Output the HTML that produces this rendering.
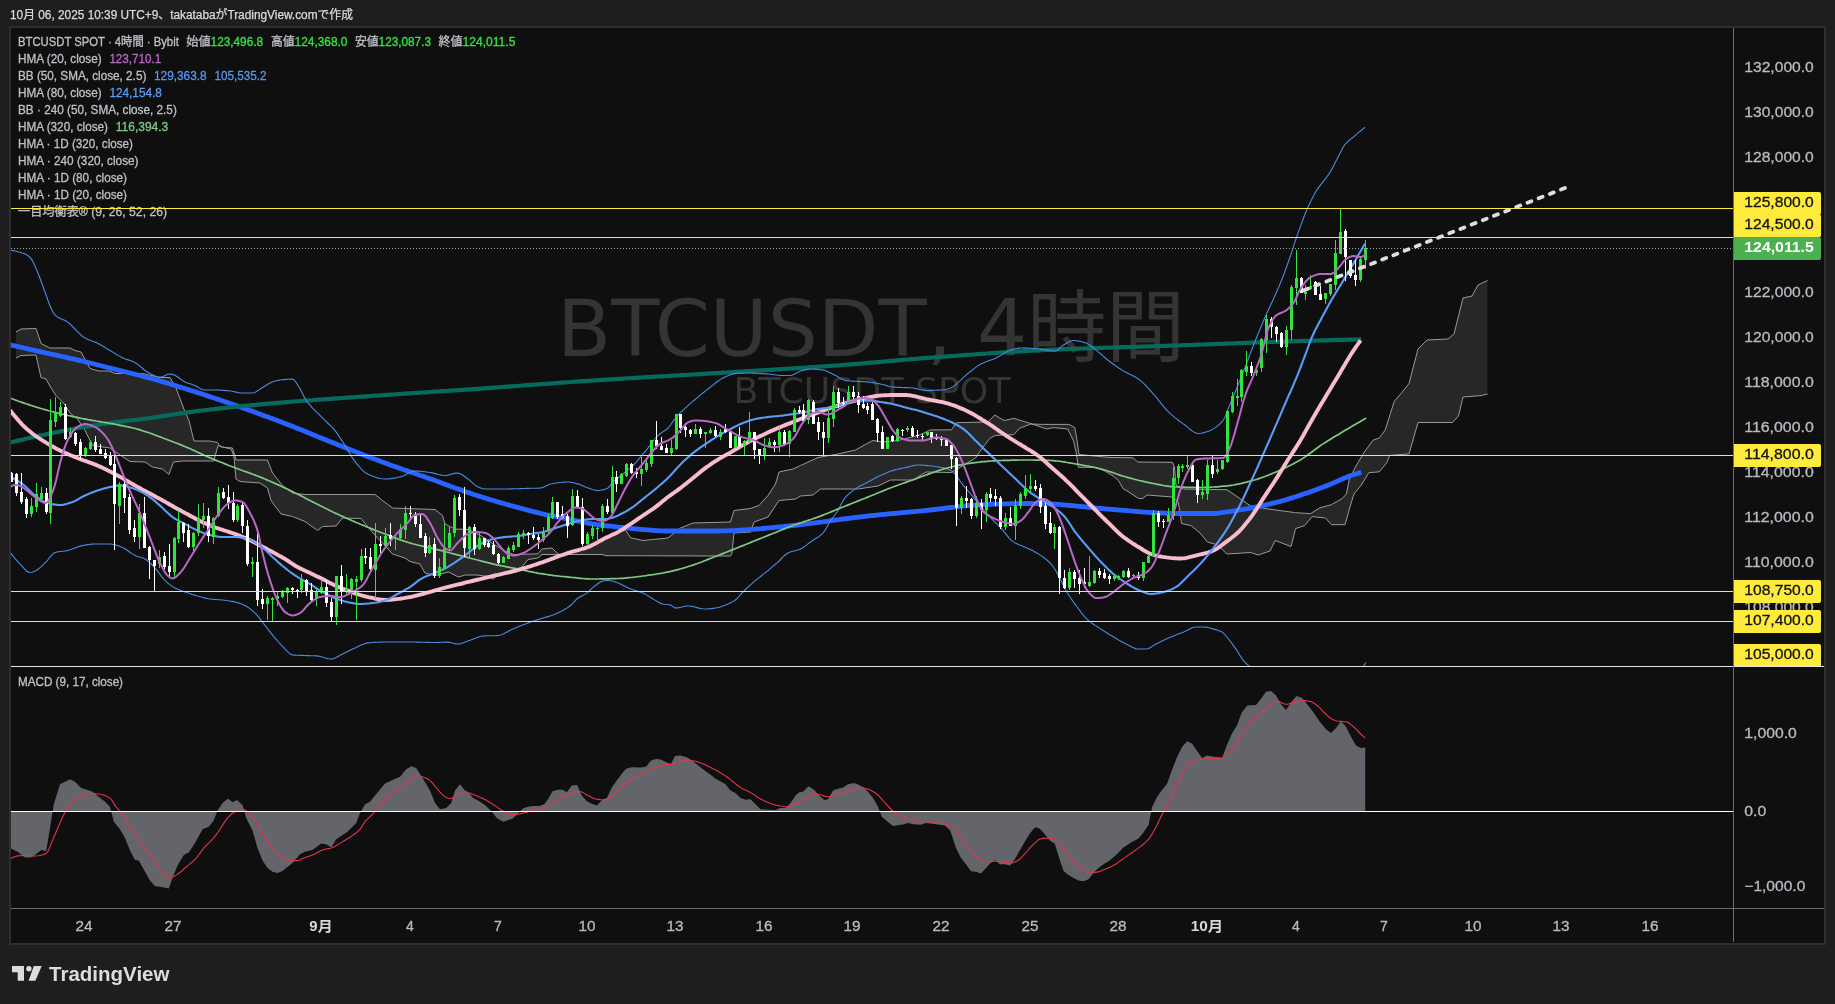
<!DOCTYPE html><html lang="ja"><head><meta charset="utf-8"><title>BTCUSDT 4時間</title>
<style>html,body{margin:0;padding:0;background:#1e1e1e;}body{width:1835px;height:1004px;overflow:hidden;position:relative;font-family:'Liberation Sans','Noto Sans CJK JP',sans-serif;}svg{position:absolute;left:0;top:0;display:block;will-change:transform}text{font-family:'Liberation Sans','Noto Sans CJK JP',sans-serif;}</style></head><body>
<svg width="1835" height="1004" viewBox="0 0 1835 1004">
<rect x="0" y="0" width="1835" height="1004" fill="#1e1e1e"/>
<rect x="10" y="27" width="1815" height="917" fill="#0f0f0f" stroke="#2e2e2e" stroke-width="2"/>
<text x="10" y="18.5" font-size="12" fill="#dcdcdc" stroke="#dcdcdc" stroke-width="0.25" textLength="343" lengthAdjust="spacingAndGlyphs">10月 06, 2025 10:39 UTC+9、takatabaがTradingView.comで作成</text>
<defs><clipPath id="mp"><rect x="11" y="28" width="1722" height="638"/></clipPath><clipPath id="sp"><rect x="11" y="667" width="1722" height="241"/></clipPath></defs>
<g clip-path="url(#mp)">
<text x="871" y="356" font-size="79" fill="#343434" text-anchor="middle" style="font-family:'DejaVu Sans','Noto Sans CJK JP',sans-serif" textLength="628" lengthAdjust="spacingAndGlyphs">BTCUSDT, 4時間</text>
<text x="872" y="403" font-size="35" fill="#343434" text-anchor="middle" style="font-family:'DejaVu Sans','Noto Sans CJK JP',sans-serif" textLength="277" lengthAdjust="spacingAndGlyphs">BTCUSDT SPOT</text>
<path d="M16 332 L21 329 L36 328.5 L41 343.5 L50 348 L70 348 L75 350.5 L81 352 L90 368.5 L99 371 L109 371 L115 373.5 L142.5 373.5 L160 377.5 L170 377.5 L176 388 L185 412 L189 420.5 L194 441 L210 441 L217.5 442.5 L221 447 L232.5 448 L236 460 L267.5 460 L272.5 473 L282.5 485.5 L292.5 493 L305 494.5 L375 494.5 L382.5 500.5 L392.5 508 L435 509.5 L442.5 515.5 L445 524 L455 529 L468 529.5 L480 535 L495 545 L505 551 L514 554.5 L537.8 553.8 L542 549 L552 548 L557 553 L560 555 L568 553.5 L588 547.5 L605.5 538.5 L618 532.5 L625.5 530 L630.6 537.8 L643 540.5 L668 538 L675.5 532 L680.5 528 L693 523 L730.5 522 L734 510.5 L750.5 508.5 L759 505.5 L768 495.5 L775.5 484 L779 472 L793 469 L800.5 465.5 L818 457.5 L838 454 L855.5 450 L868 443 L873 440.5 L883 442 L898 440.5 L918 435.5 L926 432 L930 430 L951.5 429.8 L956.5 422.7 L988 422 L994.7 415 L1004 420.5 L1014 418.4 L1028 422.7 L1038 426 L1046.4 429 L1053.5 427.6 L1067.7 429 L1073.4 440.4 L1076.2 452.4 L1078.3 467.3 L1096 467.3 L1104.5 470.8 L1113 475.8 L1118.7 480.8 L1123 488.5 L1130 492.8 L1138.5 498.5 L1142.8 498.5 L1147 495 L1172.5 497 L1178.2 502 L1180 512 L1181.5 523.5 L1191 525.6 L1200 533 L1207.4 542 L1217.8 545 L1226.8 554 L1250.7 552.5 L1258.2 555 L1270 551 L1275.2 540.5 L1291 546.5 L1295.6 528.6 L1304.5 525.6 L1312 516.6 L1325.5 518 L1331.4 524.7 L1345 524.7 L1349.4 509 L1353.9 494 L1361.3 485 L1368.8 472.7 L1379.3 471.8 L1386.7 462.8 L1389.7 455.4 L1409 453.9 L1418 422.5 L1452.5 422.5 L1458.5 415.9 L1463 397 L1481 395.6 L1487.5 394 L1487.5 280.5 L1478 285 L1472 296 L1463 298 L1454 334 L1448 339 L1427 340 L1418 349 L1409 383.6 L1401.7 392.6 L1394.2 401.5 L1385.2 430 L1379.3 438 L1373.3 440 L1364.3 452 L1355.4 467 L1349.4 479 L1346.4 494 L1342 498.7 L1331.4 504.7 L1319.5 508 L1310.5 513.6 L1295.6 512.7 L1268.7 509 L1250.7 506 L1240 498.7 L1227 489.7 L1183.5 489 L1176 485 L1174.5 467 L1172.5 462.3 L1137.8 462 L1132.9 457.8 L1108.8 457.4 L1101.7 456.7 L1079 454.5 L1076.9 439.7 L1074.8 427.6 L1069 424.4 L1043.6 424.4 L1030.8 424 L1019.5 428.3 L1013.8 434.7 L995.4 435.4 L989.8 438.3 L982.7 447.5 L975.6 458 L968.5 462.3 L951.5 472.5 L926 472 L913 480 L890.5 480 L878 486 L858 489 L820.5 489 L813 495 L800.5 496 L795.5 499 L779 500.5 L768 517 L754 522 L750.5 532 L734 533 L732 553 L730.5 556 L606 555.7 L602 554.5 L542 554.5 L538 558 L528 559.5 L522 567 L496.7 576.5 L493 579 L488 576.5 L477 575 L465.5 575 L458.4 577 L448.5 572 L435 575.5 L425 573 L420 564 L410 561.5 L405 558 L392.5 554 L385 545.5 L377.5 538 L367.5 526.5 L361 518.5 L342.5 518 L336 526 L322.5 526.5 L317.5 530.5 L305 521.5 L292.5 516.5 L281 514 L271 500.5 L267.5 488 L260 483 L240 481.5 L236 479 L233.8 455.5 L231 449 L222.5 447 L218 445.5 L213.8 461 L182.5 461 L173.5 462 L168.8 474.5 L162.5 469 L152.5 467 L145 462 L130 461.5 L120 455 L110 448 L92.5 445.5 L85 430.5 L77.5 419 L70 413 L63.5 403 L56 395.5 L51 388 L46 379 L41 377.5 L36 355 L21 355.5 L16 358 Z" fill="#272727" stroke="none"/>
<path d="M16 332 L21 329 L36 328.5 L41 343.5 L50 348 L70 348 L75 350.5 L81 352 L90 368.5 L99 371 L109 371 L115 373.5 L142.5 373.5 L160 377.5 L170 377.5 L176 388 L185 412 L189 420.5 L194 441 L210 441 L217.5 442.5 L221 447 L232.5 448 L236 460 L267.5 460 L272.5 473 L282.5 485.5 L292.5 493 L305 494.5 L375 494.5 L382.5 500.5 L392.5 508 L435 509.5 L442.5 515.5 L445 524 L455 529 L468 529.5 L480 535 L495 545 L505 551 L514 554.5 L537.8 553.8 L542 549 L552 548 L557 553 L560 555 L568 553.5 L588 547.5 L605.5 538.5 L618 532.5 L625.5 530 L630.6 537.8 L643 540.5 L668 538 L675.5 532 L680.5 528 L693 523 L730.5 522 L734 510.5 L750.5 508.5 L759 505.5 L768 495.5 L775.5 484 L779 472 L793 469 L800.5 465.5 L818 457.5 L838 454 L855.5 450 L868 443 L873 440.5 L883 442 L898 440.5 L918 435.5 L926 432 L930 430 L951.5 429.8 L956.5 422.7 L988 422 L994.7 415 L1004 420.5 L1014 418.4 L1028 422.7 L1038 426 L1046.4 429 L1053.5 427.6 L1067.7 429 L1073.4 440.4 L1076.2 452.4 L1078.3 467.3 L1096 467.3 L1104.5 470.8 L1113 475.8 L1118.7 480.8 L1123 488.5 L1130 492.8 L1138.5 498.5 L1142.8 498.5 L1147 495 L1172.5 497 L1178.2 502 L1180 512 L1181.5 523.5 L1191 525.6 L1200 533 L1207.4 542 L1217.8 545 L1226.8 554 L1250.7 552.5 L1258.2 555 L1270 551 L1275.2 540.5 L1291 546.5 L1295.6 528.6 L1304.5 525.6 L1312 516.6 L1325.5 518 L1331.4 524.7 L1345 524.7 L1349.4 509 L1353.9 494 L1361.3 485 L1368.8 472.7 L1379.3 471.8 L1386.7 462.8 L1389.7 455.4 L1409 453.9 L1418 422.5 L1452.5 422.5 L1458.5 415.9 L1463 397 L1481 395.6 L1487.5 394" fill="none" stroke="#9a9a9a" stroke-width="1" stroke-linejoin="round"/>
<path d="M16 358 L21 355.5 L36 355 L41 377.5 L46 379 L51 388 L56 395.5 L63.5 403 L70 413 L77.5 419 L85 430.5 L92.5 445.5 L110 448 L120 455 L130 461.5 L145 462 L152.5 467 L162.5 469 L168.8 474.5 L173.5 462 L182.5 461 L213.8 461 L218 445.5 L222.5 447 L231 449 L233.8 455.5 L236 479 L240 481.5 L260 483 L267.5 488 L271 500.5 L281 514 L292.5 516.5 L305 521.5 L317.5 530.5 L322.5 526.5 L336 526 L342.5 518 L361 518.5 L367.5 526.5 L377.5 538 L385 545.5 L392.5 554 L405 558 L410 561.5 L420 564 L425 573 L435 575.5 L448.5 572 L458.4 577 L465.5 575 L477 575 L488 576.5 L493 579 L496.7 576.5 L522 567 L528 559.5 L538 558 L542 554.5 L602 554.5 L606 555.7 L730.5 556 L732 553 L734 533 L750.5 532 L754 522 L768 517 L779 500.5 L795.5 499 L800.5 496 L813 495 L820.5 489 L858 489 L878 486 L890.5 480 L913 480 L926 472 L951.5 472.5 L968.5 462.3 L975.6 458 L982.7 447.5 L989.8 438.3 L995.4 435.4 L1013.8 434.7 L1019.5 428.3 L1030.8 424 L1043.6 424.4 L1069 424.4 L1074.8 427.6 L1076.9 439.7 L1079 454.5 L1101.7 456.7 L1108.8 457.4 L1132.9 457.8 L1137.8 462 L1172.5 462.3 L1174.5 467 L1176 485 L1183.5 489 L1227 489.7 L1240 498.7 L1250.7 506 L1268.7 509 L1295.6 512.7 L1310.5 513.6 L1319.5 508 L1331.4 504.7 L1342 498.7 L1346.4 494 L1349.4 479 L1355.4 467 L1364.3 452 L1373.3 440 L1379.3 438 L1385.2 430 L1394.2 401.5 L1401.7 392.6 L1409 383.6 L1418 349 L1427 340 L1448 339 L1454 334 L1463 298 L1472 296 L1478 285 L1487.5 280.5" fill="none" stroke="#9a9a9a" stroke-width="1" stroke-linejoin="round"/>
<path d="M10 344.8 L12 345.3 L14 345.7 L16 346.2 L18 346.6 L20 347.1 L22 347.5 L24 348 L26 348.4 L28 348.9 L30 349.3 L32 349.8 L34 350.2 L36 350.7 L38 351.2 L40 351.6 L42 352.1 L44 352.5 L46 353 L48 353.4 L50 353.8 L52 354.3 L54 354.7 L56 355.2 L58 355.6 L60 356 L62.1 356.5 L64.1 356.9 L66.1 357.4 L68.1 357.8 L70.1 358.3 L72.1 358.7 L74.1 359.2 L76.1 359.6 L78.1 360.1 L80.1 360.6 L82.1 361 L84.1 361.5 L86.1 362 L88.1 362.5 L90.1 363 L92.1 363.5 L94.1 364 L96.1 364.5 L98.1 365 L100.1 365.5 L102.1 366 L104.1 366.5 L106.1 367 L108.1 367.6 L110.1 368.1 L112.1 368.6 L114.1 369.1 L116.1 369.6 L118.1 370.1 L120.1 370.6 L122.1 371.1 L124.1 371.6 L126.1 372 L128.1 372.5 L130.1 373 L132.1 373.5 L134.1 374 L136.1 374.5 L138.1 375 L140.1 375.5 L142.1 376 L144.1 376.6 L146.1 377.1 L148.1 377.6 L150.1 378.2 L152.1 378.7 L154.1 379.3 L156.1 379.9 L158.1 380.4 L160.1 381 L162.1 381.6 L164.1 382.2 L166.2 382.8 L168.2 383.4 L170.2 384 L172.2 384.6 L174.2 385.2 L176.2 385.8 L178.2 386.5 L180.2 387.1 L182.2 387.7 L184.2 388.3 L186.2 389 L188.2 389.6 L190.2 390.2 L192.2 390.9 L194.2 391.5 L196.2 392.1 L198.2 392.8 L200.2 393.4 L202.2 394.1 L204.2 394.8 L206.2 395.4 L208.2 396.1 L210.2 396.7 L212.2 397.4 L214.2 398.1 L216.2 398.8 L218.2 399.4 L220.2 400.1 L222.2 400.8 L224.2 401.5 L226.2 402.1 L228.2 402.8 L230.2 403.5 L232.2 404.2 L234.2 404.9 L236.2 405.6 L238.2 406.3 L240.2 407 L242.2 407.7 L244.2 408.4 L246.2 409.1 L248.2 409.9 L250.2 410.6 L252.2 411.3 L254.2 412 L256.2 412.7 L258.2 413.5 L260.2 414.2 L262.2 414.9 L264.2 415.7 L266.2 416.4 L268.2 417.1 L270.3 417.9 L272.3 418.6 L274.3 419.4 L276.3 420.1 L278.3 420.9 L280.3 421.6 L282.3 422.4 L284.3 423.2 L286.3 423.9 L288.3 424.7 L290.3 425.5 L292.3 426.3 L294.3 427.1 L296.3 427.9 L298.3 428.7 L300.3 429.5 L302.3 430.3 L304.3 431.1 L306.3 431.9 L308.3 432.8 L310.3 433.6 L312.3 434.4 L314.3 435.2 L316.3 436 L318.3 436.9 L320.3 437.7 L322.3 438.5 L324.3 439.3 L326.3 440.1 L328.3 440.9 L330.3 441.7 L332.3 442.5 L334.3 443.3 L336.3 444.1 L338.3 444.9 L340.3 445.7 L342.3 446.5 L344.3 447.3 L346.3 448.1 L348.3 448.9 L350.3 449.7 L352.3 450.5 L354.3 451.3 L356.3 452 L358.3 452.8 L360.3 453.6 L362.3 454.4 L364.3 455.2 L366.3 455.9 L368.3 456.7 L370.3 457.5 L372.3 458.3 L374.4 459 L376.4 459.8 L378.4 460.5 L380.4 461.3 L382.4 462 L384.4 462.8 L386.4 463.5 L388.4 464.2 L390.4 465 L392.4 465.7 L394.4 466.4 L396.4 467.1 L398.4 467.8 L400.4 468.5 L402.4 469.2 L404.4 469.9 L406.4 470.6 L408.4 471.3 L410.4 472 L412.4 472.6 L414.4 473.3 L416.4 474 L418.4 474.7 L420.4 475.4 L422.4 476.1 L424.4 476.8 L426.4 477.5 L428.4 478.2 L430.4 478.9 L432.4 479.6 L434.4 480.3 L436.4 481 L438.4 481.7 L440.4 482.5 L442.4 483.2 L444.4 483.9 L446.4 484.7 L448.4 485.4 L450.4 486.2 L452.4 486.9 L454.4 487.7 L456.4 488.4 L458.4 489.1 L460.4 489.8 L462.4 490.6 L464.4 491.3 L466.4 492 L468.4 492.6 L470.4 493.3 L472.4 494 L474.4 494.7 L476.4 495.3 L478.5 496 L480.5 496.6 L482.5 497.3 L484.5 497.9 L486.5 498.5 L488.5 499.1 L490.5 499.7 L492.5 500.3 L494.5 500.9 L496.5 501.5 L498.5 502.1 L500.5 502.7 L502.5 503.2 L504.5 503.8 L506.5 504.4 L508.5 504.9 L510.5 505.5 L512.5 506 L514.5 506.6 L516.5 507.1 L518.5 507.6 L520.5 508.2 L522.5 508.7 L524.5 509.3 L526.5 509.8 L528.5 510.4 L530.5 510.9 L532.5 511.4 L534.5 511.9 L536.5 512.4 L538.5 512.9 L540.5 513.4 L542.5 513.9 L544.5 514.3 L546.5 514.8 L548.5 515.2 L550.5 515.6 L552.5 516 L554.5 516.4 L556.5 516.8 L558.5 517.2 L560.5 517.5 L562.5 517.9 L564.5 518.3 L566.5 518.7 L568.5 519.1 L570.5 519.5 L572.5 519.9 L574.5 520.4 L576.5 520.8 L578.5 521.2 L580.5 521.7 L582.6 522.1 L584.6 522.5 L586.6 522.9 L588.6 523.3 L590.6 523.6 L592.6 523.9 L594.6 524.2 L596.6 524.5 L598.6 524.8 L600.6 525 L602.6 525.3 L604.6 525.5 L606.6 525.8 L608.6 526 L610.6 526.2 L612.6 526.4 L614.6 526.6 L616.6 526.8 L618.6 527.1 L620.6 527.3 L622.6 527.5 L624.6 527.7 L626.6 527.9 L628.6 528.2 L630.6 528.4 L632.6 528.6 L634.6 528.8 L636.6 529 L638.6 529.1 L640.6 529.3 L642.6 529.5 L644.6 529.6 L646.6 529.8 L648.6 529.9 L650.6 530.1 L652.6 530.3 L654.6 530.4 L656.6 530.6 L658.6 530.7 L660.6 530.8 L662.6 530.9 L664.6 531 L666.6 531 L668.6 531 L670.6 531 L672.6 531 L674.6 531 L676.6 531 L678.6 531 L680.6 531 L682.6 531 L684.6 531 L686.7 531 L688.7 531 L690.7 531 L692.7 531 L694.7 531 L696.7 531 L698.7 531 L700.7 531 L702.7 531 L704.7 531 L706.7 531 L708.7 531 L710.7 531 L712.7 531 L714.7 531 L716.7 531 L718.7 531 L720.7 531 L722.7 530.9 L724.7 530.9 L726.7 530.8 L728.7 530.7 L730.7 530.7 L732.7 530.6 L734.7 530.5 L736.7 530.3 L738.7 530.2 L740.7 530.1 L742.7 530 L744.7 529.9 L746.7 529.8 L748.7 529.6 L750.7 529.5 L752.7 529.3 L754.7 529.2 L756.7 529 L758.7 528.8 L760.7 528.7 L762.7 528.5 L764.7 528.3 L766.7 528.1 L768.7 527.9 L770.7 527.8 L772.7 527.6 L774.7 527.4 L776.7 527.2 L778.7 527 L780.7 526.8 L782.7 526.6 L784.7 526.4 L786.7 526.2 L788.7 526 L790.8 525.7 L792.8 525.5 L794.8 525.3 L796.8 525.1 L798.8 524.9 L800.8 524.6 L802.8 524.4 L804.8 524.2 L806.8 523.9 L808.8 523.7 L810.8 523.4 L812.8 523.2 L814.8 522.9 L816.8 522.7 L818.8 522.4 L820.8 522.1 L822.8 521.9 L824.8 521.6 L826.8 521.3 L828.8 521 L830.8 520.7 L832.8 520.4 L834.8 520.1 L836.8 519.8 L838.8 519.6 L840.8 519.3 L842.8 519 L844.8 518.8 L846.8 518.5 L848.8 518.3 L850.8 518 L852.8 517.8 L854.8 517.5 L856.8 517.3 L858.8 517 L860.8 516.8 L862.8 516.6 L864.8 516.4 L866.8 516.1 L868.8 515.9 L870.8 515.7 L872.8 515.5 L874.8 515.3 L876.8 515.1 L878.8 514.9 L880.8 514.7 L882.8 514.5 L884.8 514.3 L886.8 514.1 L888.8 513.9 L890.8 513.7 L892.8 513.5 L894.9 513.3 L896.9 513.1 L898.9 513 L900.9 512.8 L902.9 512.6 L904.9 512.4 L906.9 512.3 L908.9 512.1 L910.9 511.9 L912.9 511.7 L914.9 511.6 L916.9 511.4 L918.9 511.2 L920.9 511 L922.9 510.8 L924.9 510.6 L926.9 510.4 L928.9 510.2 L930.9 510 L932.9 509.7 L934.9 509.5 L936.9 509.2 L938.9 509 L940.9 508.7 L942.9 508.5 L944.9 508.2 L946.9 508 L948.9 507.7 L950.9 507.5 L952.9 507.3 L954.9 507.1 L956.9 506.8 L958.9 506.6 L960.9 506.4 L962.9 506.2 L964.9 505.9 L966.9 505.7 L968.9 505.5 L970.9 505.4 L972.9 505.2 L974.9 505.1 L976.9 504.9 L978.9 504.8 L980.9 504.7 L982.9 504.6 L984.9 504.6 L986.9 504.5 L988.9 504.4 L990.9 504.3 L992.9 504.2 L994.9 504.2 L996.9 504.1 L999 504.1 L1001 504 L1003 503.9 L1005 503.9 L1007 503.8 L1009 503.8 L1011 503.7 L1013 503.7 L1015 503.6 L1017 503.6 L1019 503.6 L1021 503.5 L1023 503.5 L1025 503.5 L1027 503.5 L1029 503.5 L1031 503.5 L1033 503.6 L1035 503.6 L1037 503.6 L1039 503.7 L1041 503.7 L1043 503.8 L1045 503.8 L1047 503.9 L1049 503.9 L1051 504 L1053 504.1 L1055 504.2 L1057 504.3 L1059 504.4 L1061 504.6 L1063 504.8 L1065 505 L1067 505.1 L1069 505.3 L1071 505.5 L1073 505.7 L1075 505.9 L1077 506.1 L1079 506.3 L1081 506.5 L1083 506.7 L1085 506.9 L1087 507.1 L1089 507.3 L1091 507.5 L1093 507.7 L1095 507.9 L1097 508.1 L1099 508.3 L1101 508.5 L1103.1 508.7 L1105.1 508.8 L1107.1 509 L1109.1 509.2 L1111.1 509.3 L1113.1 509.5 L1115.1 509.6 L1117.1 509.8 L1119.1 510 L1121.1 510.1 L1123.1 510.3 L1125.1 510.4 L1127.1 510.6 L1129.1 510.8 L1131.1 510.9 L1133.1 511.1 L1135.1 511.3 L1137.1 511.5 L1139.1 511.6 L1141.1 511.8 L1143.1 512 L1145.1 512.1 L1147.1 512.3 L1149.1 512.4 L1151.1 512.5 L1153.1 512.6 L1155.1 512.7 L1157.1 512.8 L1159.1 512.9 L1161.1 513 L1163.1 513.1 L1165.1 513.2 L1167.1 513.3 L1169.1 513.4 L1171.1 513.4 L1173.1 513.5 L1175.1 513.5 L1177.1 513.5 L1179.1 513.5 L1181.1 513.5 L1183.1 513.5 L1185.1 513.5 L1187.1 513.5 L1189.1 513.5 L1191.1 513.5 L1193.1 513.5 L1195.1 513.5 L1197.1 513.5 L1199.1 513.5 L1201.1 513.5 L1203.1 513.5 L1205.1 513.5 L1207.2 513.5 L1209.2 513.5 L1211.2 513.5 L1213.2 513.5 L1215.2 513.5 L1217.2 513.3 L1219.2 513 L1221.2 512.7 L1223.2 512.4 L1225.2 512.1 L1227.2 511.8 L1229.2 511.6 L1231.2 511.3 L1233.2 511 L1235.2 510.7 L1237.2 510.4 L1239.2 510 L1241.2 509.7 L1243.2 509.4 L1245.2 509 L1247.2 508.7 L1249.2 508.3 L1251.2 508 L1253.2 507.6 L1255.2 507.2 L1257.2 506.8 L1259.2 506.4 L1261.2 506 L1263.2 505.5 L1265.2 505.1 L1267.2 504.6 L1269.2 504.2 L1271.2 503.7 L1273.2 503.2 L1275.2 502.7 L1277.2 502.2 L1279.2 501.7 L1281.2 501.1 L1283.2 500.5 L1285.2 500 L1287.2 499.4 L1289.2 498.8 L1291.2 498.1 L1293.2 497.5 L1295.2 496.9 L1297.2 496.2 L1299.2 495.6 L1301.2 494.9 L1303.2 494.3 L1305.2 493.6 L1307.2 492.9 L1309.2 492.2 L1311.3 491.5 L1313.3 490.8 L1315.3 490.1 L1317.3 489.3 L1319.3 488.6 L1321.3 487.8 L1323.3 487.1 L1325.3 486.3 L1327.3 485.5 L1329.3 484.7 L1331.3 483.8 L1333.3 483 L1335.3 482.1 L1337.3 481.2 L1339.3 480.3 L1341.3 479.4 L1343.3 478.5 L1345.3 477.7 L1347.3 476.9 L1349.3 476.1 L1351.3 475.4 L1353.3 474.7 L1355.3 474.1 L1357.3 473.5 L1359.3 472.9 L1361.3 472.3" fill="none" stroke="#2962ff" stroke-width="4.8" stroke-linecap="butt"/>
<path d="M10 442.5 L12 442 L14 441.5 L16 441.1 L18 440.6 L20 440.1 L22 439.7 L24 439.2 L26 438.7 L28 438.3 L30 437.8 L32 437.4 L34 436.9 L36 436.5 L38 436.1 L40 435.6 L42 435.2 L44 434.8 L46 434.4 L48 433.9 L50 433.5 L52 433.1 L54 432.7 L56 432.3 L58 431.9 L60 431.4 L62.1 431 L64.1 430.6 L66.1 430.2 L68.1 429.9 L70.1 429.5 L72.1 429.1 L74.1 428.7 L76.1 428.4 L78.1 428 L80.1 427.7 L82.1 427.3 L84.1 427 L86.1 426.6 L88.1 426.3 L90.1 426 L92.1 425.7 L94.1 425.4 L96.1 425.1 L98.1 424.8 L100.1 424.5 L102.1 424.2 L104.1 423.9 L106.1 423.6 L108.1 423.3 L110.1 423 L112.1 422.7 L114.1 422.5 L116.1 422.2 L118.1 421.9 L120.1 421.7 L122.1 421.4 L124.1 421.2 L126.1 420.9 L128.1 420.7 L130.1 420.5 L132.1 420.2 L134.1 420 L136.1 419.8 L138.1 419.5 L140.1 419.3 L142.1 419.1 L144.1 418.8 L146.1 418.5 L148.1 418.3 L150.1 418 L152.1 417.7 L154.1 417.4 L156.1 417.1 L158.1 416.8 L160.1 416.5 L162.1 416.2 L164.1 415.9 L166.2 415.6 L168.2 415.3 L170.2 414.9 L172.2 414.6 L174.2 414.3 L176.2 414 L178.2 413.7 L180.2 413.4 L182.2 413.1 L184.2 412.8 L186.2 412.6 L188.2 412.3 L190.2 412 L192.2 411.8 L194.2 411.5 L196.2 411.2 L198.2 411 L200.2 410.7 L202.2 410.5 L204.2 410.3 L206.2 410 L208.2 409.8 L210.2 409.5 L212.2 409.3 L214.2 409.1 L216.2 408.8 L218.2 408.6 L220.2 408.4 L222.2 408.2 L224.2 408 L226.2 407.8 L228.2 407.5 L230.2 407.3 L232.2 407.1 L234.2 406.9 L236.2 406.7 L238.2 406.5 L240.2 406.3 L242.2 406.1 L244.2 405.9 L246.2 405.8 L248.2 405.6 L250.2 405.4 L252.2 405.2 L254.2 405 L256.2 404.8 L258.2 404.6 L260.2 404.4 L262.2 404.2 L264.2 404.1 L266.2 403.9 L268.2 403.7 L270.3 403.5 L272.3 403.3 L274.3 403.2 L276.3 403 L278.3 402.8 L280.3 402.6 L282.3 402.5 L284.3 402.3 L286.3 402.1 L288.3 402 L290.3 401.8 L292.3 401.6 L294.3 401.5 L296.3 401.3 L298.3 401.2 L300.3 401 L302.3 400.9 L304.3 400.7 L306.3 400.6 L308.3 400.4 L310.3 400.3 L312.3 400.2 L314.3 400 L316.3 399.9 L318.3 399.7 L320.3 399.6 L322.3 399.4 L324.3 399.3 L326.3 399.2 L328.3 399 L330.3 398.9 L332.3 398.7 L334.3 398.6 L336.3 398.4 L338.3 398.3 L340.3 398.2 L342.3 398 L344.3 397.9 L346.3 397.7 L348.3 397.6 L350.3 397.4 L352.3 397.3 L354.3 397.2 L356.3 397 L358.3 396.9 L360.3 396.7 L362.3 396.6 L364.3 396.4 L366.3 396.3 L368.3 396.2 L370.3 396 L372.3 395.9 L374.4 395.7 L376.4 395.6 L378.4 395.5 L380.4 395.3 L382.4 395.2 L384.4 395 L386.4 394.9 L388.4 394.8 L390.4 394.6 L392.4 394.5 L394.4 394.4 L396.4 394.2 L398.4 394.1 L400.4 394 L402.4 393.8 L404.4 393.7 L406.4 393.6 L408.4 393.4 L410.4 393.3 L412.4 393.2 L414.4 393 L416.4 392.9 L418.4 392.8 L420.4 392.6 L422.4 392.5 L424.4 392.4 L426.4 392.3 L428.4 392.1 L430.4 392 L432.4 391.9 L434.4 391.7 L436.4 391.6 L438.4 391.5 L440.4 391.3 L442.4 391.2 L444.4 391.1 L446.4 391 L448.4 390.8 L450.4 390.7 L452.4 390.6 L454.4 390.4 L456.4 390.3 L458.4 390.2 L460.4 390 L462.4 389.9 L464.4 389.7 L466.4 389.6 L468.4 389.5 L470.4 389.3 L472.4 389.2 L474.4 389.1 L476.4 388.9 L478.5 388.8 L480.5 388.6 L482.5 388.5 L484.5 388.3 L486.5 388.2 L488.5 388.1 L490.5 387.9 L492.5 387.8 L494.5 387.6 L496.5 387.5 L498.5 387.3 L500.5 387.2 L502.5 387 L504.5 386.9 L506.5 386.7 L508.5 386.6 L510.5 386.4 L512.5 386.3 L514.5 386.1 L516.5 386 L518.5 385.8 L520.5 385.7 L522.5 385.5 L524.5 385.4 L526.5 385.2 L528.5 385.1 L530.5 384.9 L532.5 384.8 L534.5 384.6 L536.5 384.5 L538.5 384.4 L540.5 384.2 L542.5 384.1 L544.5 383.9 L546.5 383.8 L548.5 383.6 L550.5 383.5 L552.5 383.3 L554.5 383.2 L556.5 383 L558.5 382.9 L560.5 382.7 L562.5 382.6 L564.5 382.5 L566.5 382.3 L568.5 382.2 L570.5 382 L572.5 381.9 L574.5 381.7 L576.5 381.6 L578.5 381.5 L580.5 381.3 L582.6 381.2 L584.6 381.1 L586.6 380.9 L588.6 380.8 L590.6 380.7 L592.6 380.5 L594.6 380.4 L596.6 380.3 L598.6 380.1 L600.6 380 L602.6 379.9 L604.6 379.8 L606.6 379.6 L608.6 379.5 L610.6 379.4 L612.6 379.3 L614.6 379.1 L616.6 379 L618.6 378.9 L620.6 378.8 L622.6 378.6 L624.6 378.5 L626.6 378.4 L628.6 378.3 L630.6 378.2 L632.6 378 L634.6 377.9 L636.6 377.8 L638.6 377.7 L640.6 377.6 L642.6 377.4 L644.6 377.3 L646.6 377.2 L648.6 377.1 L650.6 377 L652.6 376.9 L654.6 376.7 L656.6 376.6 L658.6 376.5 L660.6 376.4 L662.6 376.3 L664.6 376.2 L666.6 376 L668.6 375.9 L670.6 375.8 L672.6 375.7 L674.6 375.6 L676.6 375.5 L678.6 375.4 L680.6 375.2 L682.6 375.1 L684.6 375 L686.7 374.9 L688.7 374.8 L690.7 374.6 L692.7 374.5 L694.7 374.4 L696.7 374.3 L698.7 374.2 L700.7 374.1 L702.7 373.9 L704.7 373.8 L706.7 373.7 L708.7 373.6 L710.7 373.4 L712.7 373.3 L714.7 373.2 L716.7 373.1 L718.7 373 L720.7 372.8 L722.7 372.7 L724.7 372.6 L726.7 372.5 L728.7 372.3 L730.7 372.2 L732.7 372.1 L734.7 372 L736.7 371.9 L738.7 371.7 L740.7 371.6 L742.7 371.5 L744.7 371.4 L746.7 371.2 L748.7 371.1 L750.7 371 L752.7 370.9 L754.7 370.8 L756.7 370.6 L758.7 370.5 L760.7 370.4 L762.7 370.3 L764.7 370.2 L766.7 370 L768.7 369.9 L770.7 369.8 L772.7 369.7 L774.7 369.5 L776.7 369.4 L778.7 369.3 L780.7 369.2 L782.7 369 L784.7 368.9 L786.7 368.8 L788.7 368.7 L790.8 368.5 L792.8 368.4 L794.8 368.3 L796.8 368.2 L798.8 368 L800.8 367.9 L802.8 367.8 L804.8 367.6 L806.8 367.5 L808.8 367.4 L810.8 367.2 L812.8 367.1 L814.8 367 L816.8 366.8 L818.8 366.7 L820.8 366.6 L822.8 366.4 L824.8 366.3 L826.8 366.2 L828.8 366 L830.8 365.9 L832.8 365.7 L834.8 365.6 L836.8 365.5 L838.8 365.3 L840.8 365.2 L842.8 365 L844.8 364.9 L846.8 364.7 L848.8 364.6 L850.8 364.4 L852.8 364.2 L854.8 364.1 L856.8 363.9 L858.8 363.8 L860.8 363.6 L862.8 363.4 L864.8 363.2 L866.8 363.1 L868.8 362.9 L870.8 362.7 L872.8 362.6 L874.8 362.4 L876.8 362.2 L878.8 362 L880.8 361.8 L882.8 361.7 L884.8 361.5 L886.8 361.3 L888.8 361.1 L890.8 360.9 L892.8 360.8 L894.9 360.6 L896.9 360.4 L898.9 360.2 L900.9 360.1 L902.9 359.9 L904.9 359.7 L906.9 359.5 L908.9 359.4 L910.9 359.2 L912.9 359 L914.9 358.9 L916.9 358.7 L918.9 358.5 L920.9 358.4 L922.9 358.2 L924.9 358.1 L926.9 357.9 L928.9 357.8 L930.9 357.6 L932.9 357.5 L934.9 357.3 L936.9 357.2 L938.9 357 L940.9 356.9 L942.9 356.7 L944.9 356.6 L946.9 356.4 L948.9 356.3 L950.9 356.1 L952.9 356 L954.9 355.8 L956.9 355.7 L958.9 355.5 L960.9 355.4 L962.9 355.2 L964.9 355.1 L966.9 354.9 L968.9 354.8 L970.9 354.7 L972.9 354.5 L974.9 354.4 L976.9 354.2 L978.9 354.1 L980.9 353.9 L982.9 353.8 L984.9 353.7 L986.9 353.5 L988.9 353.4 L990.9 353.2 L992.9 353.1 L994.9 353 L996.9 352.8 L999 352.7 L1001 352.6 L1003 352.4 L1005 352.3 L1007 352.2 L1009 352.1 L1011 351.9 L1013 351.8 L1015 351.7 L1017 351.6 L1019 351.4 L1021 351.3 L1023 351.2 L1025 351.1 L1027 351 L1029 350.9 L1031 350.7 L1033 350.6 L1035 350.5 L1037 350.4 L1039 350.3 L1041 350.2 L1043 350.1 L1045 350 L1047 349.9 L1049 349.8 L1051 349.7 L1053 349.7 L1055 349.6 L1057 349.5 L1059 349.4 L1061 349.3 L1063 349.2 L1065 349.2 L1067 349.1 L1069 349 L1071 348.9 L1073 348.8 L1075 348.8 L1077 348.7 L1079 348.6 L1081 348.5 L1083 348.5 L1085 348.4 L1087 348.3 L1089 348.3 L1091 348.2 L1093 348.1 L1095 348.1 L1097 348 L1099 347.9 L1101 347.9 L1103.1 347.8 L1105.1 347.7 L1107.1 347.7 L1109.1 347.6 L1111.1 347.5 L1113.1 347.5 L1115.1 347.4 L1117.1 347.4 L1119.1 347.3 L1121.1 347.2 L1123.1 347.2 L1125.1 347.1 L1127.1 347.1 L1129.1 347 L1131.1 346.9 L1133.1 346.9 L1135.1 346.8 L1137.1 346.8 L1139.1 346.7 L1141.1 346.6 L1143.1 346.6 L1145.1 346.5 L1147.1 346.4 L1149.1 346.4 L1151.1 346.3 L1153.1 346.3 L1155.1 346.2 L1157.1 346.1 L1159.1 346.1 L1161.1 346 L1163.1 345.9 L1165.1 345.9 L1167.1 345.8 L1169.1 345.7 L1171.1 345.7 L1173.1 345.6 L1175.1 345.5 L1177.1 345.5 L1179.1 345.4 L1181.1 345.3 L1183.1 345.2 L1185.1 345.2 L1187.1 345.1 L1189.1 345 L1191.1 345 L1193.1 344.9 L1195.1 344.8 L1197.1 344.7 L1199.1 344.7 L1201.1 344.6 L1203.1 344.5 L1205.1 344.4 L1207.2 344.4 L1209.2 344.3 L1211.2 344.2 L1213.2 344.1 L1215.2 344.1 L1217.2 344 L1219.2 343.9 L1221.2 343.8 L1223.2 343.8 L1225.2 343.7 L1227.2 343.6 L1229.2 343.5 L1231.2 343.5 L1233.2 343.4 L1235.2 343.3 L1237.2 343.2 L1239.2 343.1 L1241.2 343.1 L1243.2 343 L1245.2 342.9 L1247.2 342.8 L1249.2 342.8 L1251.2 342.7 L1253.2 342.6 L1255.2 342.5 L1257.2 342.5 L1259.2 342.4 L1261.2 342.3 L1263.2 342.3 L1265.2 342.2 L1267.2 342.1 L1269.2 342 L1271.2 342 L1273.2 341.9 L1275.2 341.8 L1277.2 341.8 L1279.2 341.7 L1281.2 341.6 L1283.2 341.6 L1285.2 341.5 L1287.2 341.4 L1289.2 341.4 L1291.2 341.3 L1293.2 341.2 L1295.2 341.2 L1297.2 341.1 L1299.2 341.1 L1301.2 341 L1303.2 340.9 L1305.2 340.9 L1307.2 340.8 L1309.2 340.8 L1311.3 340.7 L1313.3 340.6 L1315.3 340.6 L1317.3 340.5 L1319.3 340.5 L1321.3 340.4 L1323.3 340.4 L1325.3 340.3 L1327.3 340.3 L1329.3 340.2 L1331.3 340.1 L1333.3 340.1 L1335.3 340 L1337.3 340 L1339.3 339.9 L1341.3 339.9 L1343.3 339.8 L1345.3 339.8 L1347.3 339.7 L1349.3 339.7 L1351.3 339.6 L1353.3 339.6 L1355.3 339.5 L1357.3 339.5 L1359.3 339.4 L1361.3 339.4" fill="none" stroke="#066a5c" stroke-width="4.2" stroke-linecap="butt"/>
<path d="M10 250.5 L12 250.6 L14 250.8 L16 251.2 L18 251.7 L20 252.2 L22 252.9 L24 253.6 L26 254.5 L28 255.7 L30 257.5 L32 259.9 L34 263.7 L36 268.4 L38 273.2 L40 278.3 L42 283.8 L44 289.4 L46 294.8 L48 300.5 L50 305.8 L52 310.2 L54 313.8 L56 315.9 L58 317.3 L60 318.3 L62 319.2 L64 320.1 L66 321.1 L68 322.4 L70 324 L72 325.9 L74 328 L76 330.1 L78.1 332.2 L80.1 334.2 L82.1 336 L84.1 337.4 L86.1 338.5 L88.1 339.4 L90.1 340.2 L92.1 340.9 L94.1 341.7 L96.1 342.5 L98.1 343.5 L100.1 344.6 L102.1 345.8 L104.1 347 L106.1 348.2 L108.1 349.4 L110.1 350.5 L112.1 351.7 L114.1 352.9 L116.1 354.2 L118.1 355.4 L120.1 356.6 L122.1 357.6 L124.1 358.5 L126.1 359.3 L128.1 359.9 L130.1 360.5 L132.1 361.2 L134.1 362 L136.1 363.2 L138.1 364.6 L140.1 366.3 L142.1 368 L144.1 369.7 L146.1 371.2 L148.1 372.5 L150.1 373.5 L152.1 374.5 L154.1 375.5 L156.1 376.3 L158.1 376.8 L160.1 377 L162.1 376.7 L164.1 375.9 L166.1 375 L168.1 374.3 L170.1 374 L172.1 374.4 L174.1 375.1 L176.1 376 L178.1 377.3 L180.1 378.8 L182.1 380.3 L184.1 381.6 L186.1 382.5 L188.1 383.2 L190.1 383.8 L192.1 384.5 L194.1 385.2 L196.1 386.1 L198.1 387.3 L200.1 388.6 L202.1 389.6 L204.1 390 L206.1 390 L208.1 390 L210.1 390 L212.1 390 L214.2 390 L216.2 390 L218.2 390 L220.2 390.1 L222.2 390.2 L224.2 390.4 L226.2 390.6 L228.2 390.8 L230.2 391 L232.2 391.3 L234.2 391.7 L236.2 392.1 L238.2 392.6 L240.2 392.9 L242.2 393 L244.2 393 L246.2 393 L248.2 393 L250.2 393 L252.2 393 L254.2 392.7 L256.2 391.8 L258.2 390.4 L260.2 389 L262.2 387.7 L264.2 386.5 L266.2 385.3 L268.2 384.1 L270.2 383 L272.2 382 L274.2 381.2 L276.2 380.7 L278.2 380.4 L280.2 380 L282.2 379.8 L284.2 379.6 L286.2 379.4 L288.2 379.2 L290.2 379.1 L292.2 379 L294.2 379.9 L296.2 382.5 L298.2 385.8 L300.2 389 L302.2 393 L304.2 397 L306.2 400.3 L308.2 403 L310.2 405.4 L312.2 407.7 L314.2 409.8 L316.2 411.8 L318.2 413.7 L320.2 415.7 L322.2 417.7 L324.2 419.7 L326.2 421.6 L328.2 423.5 L330.2 425.4 L332.2 427.4 L334.2 429.6 L336.2 432.1 L338.2 434.9 L340.2 438 L342.2 441.1 L344.2 444.3 L346.2 447.5 L348.2 450.9 L350.3 454.3 L352.3 457.6 L354.3 460.7 L356.3 463.3 L358.3 465.7 L360.3 468 L362.3 470.1 L364.3 471.9 L366.3 473.3 L368.3 474.3 L370.3 475.2 L372.3 476.1 L374.3 476.8 L376.3 477.5 L378.3 478.1 L380.3 478.5 L382.3 478.8 L384.3 479 L386.3 479 L388.3 478.9 L390.3 478.7 L392.3 478.4 L394.3 478.1 L396.3 477.7 L398.3 477.3 L400.3 476.9 L402.3 476.3 L404.3 475.4 L406.3 474.3 L408.3 473.2 L410.3 472.2 L412.3 471.4 L414.3 471 L416.3 471 L418.3 471.1 L420.3 471.3 L422.3 471.5 L424.3 471.7 L426.3 472 L428.3 472.3 L430.3 472.5 L432.3 472.9 L434.3 473.4 L436.3 473.9 L438.3 474.5 L440.3 474.9 L442.3 475.3 L444.3 475.5 L446.3 475.4 L448.3 475.1 L450.3 474.5 L452.3 473.9 L454.3 473.4 L456.3 473.1 L458.3 473.1 L460.3 473.7 L462.3 474.8 L464.3 476.3 L466.3 477.8 L468.3 479.2 L470.3 480.9 L472.3 482.7 L474.3 484.6 L476.3 486.1 L478.3 487.1 L480.3 487.9 L482.3 488.5 L484.4 488.9 L486.4 489 L488.4 489 L490.4 489 L492.4 489 L494.4 489 L496.4 489 L498.4 489 L500.4 489 L502.4 489 L504.4 489 L506.4 489 L508.4 489 L510.4 488.9 L512.4 488.9 L514.4 488.8 L516.4 488.7 L518.4 488.7 L520.4 488.6 L522.4 488.5 L524.4 488.5 L526.4 488.4 L528.4 488.4 L530.4 488.3 L532.4 488.3 L534.4 488.3 L536.4 488.2 L538.4 488.1 L540.4 488 L542.4 487.6 L544.4 486.7 L546.4 485.7 L548.4 484.7 L550.4 484 L552.4 483.7 L554.4 483.3 L556.4 483 L558.4 482.7 L560.4 482.5 L562.4 482.3 L564.4 482.1 L566.4 482 L568.4 482 L570.4 482.2 L572.4 482.5 L574.4 483 L576.4 483.6 L578.4 484.1 L580.4 484.8 L582.4 485.7 L584.4 486.6 L586.4 487.4 L588.4 488.1 L590.4 488.8 L592.4 489.5 L594.4 490 L596.4 490.4 L598.4 490.5 L600.4 490.3 L602.4 489.9 L604.4 489.4 L606.4 488.7 L608.4 487.7 L610.4 485.4 L612.4 482.6 L614.4 480.7 L616.4 479 L618.4 477.5 L620.5 476 L622.5 474.4 L624.5 472.8 L626.5 471.2 L628.5 469.6 L630.5 467.9 L632.5 466 L634.5 464 L636.5 461.8 L638.5 459.4 L640.5 457 L642.5 454.7 L644.5 452.3 L646.5 449.9 L648.5 447.4 L650.5 444.8 L652.5 442.1 L654.5 439.5 L656.5 437.1 L658.5 435.1 L660.5 433.5 L662.5 432.1 L664.5 430.8 L666.5 429.3 L668.5 427.5 L670.5 425 L672.5 422.1 L674.5 419.3 L676.5 416.9 L678.5 414.7 L680.5 412.7 L682.5 410.8 L684.5 408.9 L686.5 407.1 L688.5 405.2 L690.5 403.4 L692.5 401.7 L694.5 400 L696.5 398.3 L698.5 396.6 L700.5 394.9 L702.5 393.3 L704.5 391.7 L706.5 390.1 L708.5 388.5 L710.5 387 L712.5 385.4 L714.5 383.8 L716.5 382.2 L718.5 380.7 L720.5 379.4 L722.5 378.2 L724.5 377.3 L726.5 376.3 L728.5 375.4 L730.5 374.6 L732.5 374 L734.5 373.6 L736.5 373.4 L738.5 373.3 L740.5 373.2 L742.5 373.1 L744.5 373 L746.5 373 L748.5 373 L750.5 373 L752.5 373.1 L754.5 373.2 L756.6 373.3 L758.6 373.4 L760.6 373.5 L762.6 373.6 L764.6 373.8 L766.6 373.9 L768.6 374 L770.6 374.2 L772.6 374.5 L774.6 374.8 L776.6 375 L778.6 375.2 L780.6 375.4 L782.6 375.5 L784.6 375.5 L786.6 375.5 L788.6 375.5 L790.6 375.5 L792.6 375.1 L794.6 374.1 L796.6 372.9 L798.6 371.8 L800.6 371 L802.6 370.4 L804.6 369.9 L806.6 369.4 L808.6 369.1 L810.6 369 L812.6 369 L814.6 369.1 L816.6 369.3 L818.6 369.5 L820.6 369.7 L822.6 369.9 L824.6 370.3 L826.6 371 L828.6 371.9 L830.6 372.9 L832.6 374 L834.6 375.1 L836.6 376.1 L838.6 377.3 L840.6 378.5 L842.6 379.6 L844.6 380.3 L846.6 380.6 L848.6 380.8 L850.6 381 L852.6 381.1 L854.6 381.2 L856.6 381.3 L858.6 381.4 L860.6 381.5 L862.6 381.6 L864.6 381.7 L866.6 381.9 L868.6 382.1 L870.6 382.3 L872.6 382.6 L874.6 382.9 L876.6 383.3 L878.6 383.6 L880.6 384 L882.6 384.5 L884.6 385 L886.6 385.6 L888.6 386.2 L890.6 386.7 L892.7 387 L894.7 387.1 L896.7 387.3 L898.7 387.4 L900.7 387.4 L902.7 387.5 L904.7 387.6 L906.7 387.6 L908.7 387.7 L910.7 387.8 L912.7 388 L914.7 388.2 L916.7 388.6 L918.7 389.2 L920.7 389.7 L922.7 390.1 L924.7 390.4 L926.7 390.5 L928.7 390.5 L930.7 390.4 L932.7 390.4 L934.7 390.3 L936.7 390.2 L938.7 390.1 L940.7 390 L942.7 389.9 L944.7 389.6 L946.7 389.2 L948.7 388.7 L950.7 388.1 L952.7 387.1 L954.7 385.5 L956.7 383.6 L958.7 381.8 L960.7 380.1 L962.7 378.2 L964.7 376.3 L966.7 374.5 L968.7 372.8 L970.7 371.2 L972.7 369.6 L974.7 368.1 L976.7 366.6 L978.7 365.3 L980.7 364.1 L982.7 363.2 L984.7 362.3 L986.7 361.5 L988.7 360.8 L990.7 360.1 L992.7 359.4 L994.7 358.6 L996.7 357.7 L998.7 356.6 L1000.7 355.4 L1002.7 354.1 L1004.7 352.9 L1006.7 351.8 L1008.7 350.8 L1010.7 350.1 L1012.7 349.5 L1014.7 349 L1016.7 348.5 L1018.7 348.1 L1020.7 348 L1022.7 348 L1024.7 348.1 L1026.8 348.1 L1028.8 348.2 L1030.8 348.3 L1032.8 348.5 L1034.8 348.6 L1036.8 348.8 L1038.8 349 L1040.8 349.3 L1042.8 349.6 L1044.8 349.8 L1046.8 350.1 L1048.8 350.4 L1050.8 350.7 L1052.8 350.9 L1054.8 351 L1056.8 350.5 L1058.8 349 L1060.8 347.1 L1062.8 345.5 L1064.8 344.3 L1066.8 343 L1068.8 341.9 L1070.8 341 L1072.8 340.5 L1074.8 340.5 L1076.8 340.7 L1078.8 341.1 L1080.8 341.5 L1082.8 342 L1084.8 342.6 L1086.8 343.3 L1088.8 344.4 L1090.8 345.8 L1092.8 347.4 L1094.8 349.1 L1096.8 350.6 L1098.8 352.3 L1100.8 354 L1102.8 355.7 L1104.8 357.5 L1106.8 359.2 L1108.8 360.7 L1110.8 362.3 L1112.8 363.7 L1114.8 365.2 L1116.8 366.6 L1118.8 368 L1120.8 369.3 L1122.8 370.6 L1124.8 371.8 L1126.8 372.8 L1128.8 373.8 L1130.8 374.7 L1132.8 375.7 L1134.8 376.8 L1136.8 377.9 L1138.8 379.2 L1140.8 380.8 L1142.8 382.6 L1144.8 384.6 L1146.8 386.7 L1148.8 388.8 L1150.8 391.1 L1152.8 393.3 L1154.8 395.5 L1156.8 397.9 L1158.8 400.5 L1160.8 403.1 L1162.9 405.6 L1164.9 408.1 L1166.9 410.3 L1168.9 412.3 L1170.9 414.2 L1172.9 415.9 L1174.9 417.6 L1176.9 419.1 L1178.9 420.7 L1180.9 422.1 L1182.9 423.6 L1184.9 425 L1186.9 426.7 L1188.9 428.3 L1190.9 430 L1192.9 431.4 L1194.9 432.6 L1196.9 433.3 L1198.9 433.5 L1200.9 433.3 L1202.9 432.9 L1204.9 432.3 L1206.9 431.7 L1208.9 431 L1210.9 430.2 L1212.9 429.1 L1214.9 427.9 L1216.9 426.4 L1218.9 424.8 L1220.9 422.9 L1222.9 420.7 L1224.9 417.5 L1226.9 412.3 L1228.9 407 L1230.9 402.3 L1232.9 397.5 L1234.9 392.7 L1236.9 387.8 L1238.9 382.9 L1240.9 378 L1242.9 373 L1244.9 368 L1246.9 362.6 L1248.9 357.2 L1250.9 351.8 L1252.9 346.7 L1254.9 341.7 L1256.9 336.7 L1258.9 331.9 L1260.9 327 L1262.9 322.2 L1264.9 317.5 L1266.9 312.9 L1268.9 308.7 L1270.9 304.5 L1272.9 300.2 L1274.9 295.7 L1276.9 291.2 L1278.9 286.6 L1280.9 281.8 L1282.9 276.8 L1284.9 271.5 L1286.9 266 L1288.9 260.3 L1290.9 254.5 L1292.9 248.4 L1294.9 242.2 L1296.9 236.1 L1299 230.4 L1301 224.9 L1303 219.5 L1305 214.3 L1307 209.4 L1309 204.9 L1311 200.7 L1313 196.7 L1315 193 L1317 189.8 L1319 186.9 L1321 184.3 L1323 181.8 L1325 179.3 L1327 176.7 L1329 173.8 L1331 170.6 L1333 166.9 L1335 163 L1337 159.2 L1339 155.3 L1341 151.2 L1343 147.4 L1345 144.5 L1347 142.3 L1349 140.5 L1351 138.9 L1353 137.3 L1355 135.6 L1357 133.9 L1359 132.2 L1361 130.5 L1363 128.9 L1365 127.3" fill="none" stroke="#4a8be0" stroke-width="1.1"/>
<path d="M10 552 L12 554.7 L14 557.3 L16 559.7 L18 561.9 L20 564 L22 566.2 L24 568.4 L26 570.5 L28 571.9 L30 572.5 L32 572.2 L34 571.4 L36 570.5 L38 569.2 L40 567.6 L42 565.8 L44 563.9 L46.1 561.9 L48.1 559.5 L50.1 556.9 L52.1 554.6 L54.1 552.9 L56.1 552.2 L58.1 551.8 L60.1 551.5 L62.1 551.3 L64.1 551.1 L66.1 550.8 L68.1 550.4 L70.1 549.8 L72.1 549.1 L74.1 548.3 L76.1 547.5 L78.1 546.7 L80.1 546.1 L82.1 545.6 L84.1 545.2 L86.1 544.9 L88.1 544.6 L90.1 544.3 L92.1 544.1 L94.1 544 L96.1 544 L98.1 544 L100.1 544 L102.1 544 L104.1 544 L106.1 544 L108.1 544 L110.1 544 L112.1 544.2 L114.1 544.5 L116.1 545.1 L118.2 545.8 L120.2 546.6 L122.2 547.4 L124.2 548.3 L126.2 549.5 L128.2 551 L130.2 552.5 L132.2 553.9 L134.2 555.1 L136.2 556 L138.2 556.7 L140.2 557.2 L142.2 557.8 L144.2 558.6 L146.2 559.7 L148.2 561.2 L150.2 563 L152.2 565 L154.2 567.2 L156.2 569.4 L158.2 571.9 L160.2 574.7 L162.2 577.4 L164.2 579.7 L166.2 581.6 L168.2 583.4 L170.2 584.9 L172.2 586.4 L174.2 587.6 L176.2 588.6 L178.2 589.5 L180.2 590.3 L182.2 591 L184.2 591.7 L186.2 592.4 L188.3 593.1 L190.3 593.8 L192.3 594.5 L194.3 595.1 L196.3 595.7 L198.3 596.2 L200.3 596.8 L202.3 597.3 L204.3 597.9 L206.3 598.4 L208.3 598.7 L210.3 599 L212.3 599.2 L214.3 599.4 L216.3 599.5 L218.3 599.7 L220.3 599.8 L222.3 600 L224.3 600.2 L226.3 600.5 L228.3 600.7 L230.3 601.1 L232.3 601.4 L234.3 601.9 L236.3 602.3 L238.3 602.9 L240.3 603.5 L242.3 604.3 L244.3 605.2 L246.3 606.2 L248.3 607.5 L250.3 608.9 L252.3 610.6 L254.3 612.4 L256.3 614.4 L258.4 616.7 L260.4 619.3 L262.4 622 L264.4 624.7 L266.4 627.2 L268.4 629.8 L270.4 632.3 L272.4 634.8 L274.4 637.3 L276.4 639.6 L278.4 642 L280.4 644.2 L282.4 646.4 L284.4 648.4 L286.4 650.4 L288.4 652.4 L290.4 654.1 L292.4 655 L294.4 655.1 L296.4 655.2 L298.4 655.3 L300.4 655.4 L302.4 655.4 L304.4 655.5 L306.4 655.6 L308.4 655.6 L310.4 655.7 L312.4 655.7 L314.4 655.8 L316.4 655.9 L318.4 656.1 L320.4 656.5 L322.4 657 L324.4 657.7 L326.4 658.3 L328.4 658.7 L330.5 659 L332.5 658.9 L334.5 658.2 L336.5 657.3 L338.5 656.2 L340.5 655 L342.5 654 L344.5 653.1 L346.5 652.1 L348.5 651.1 L350.5 650.1 L352.5 649.1 L354.5 648.2 L356.5 647.3 L358.5 646.3 L360.5 645.3 L362.5 644.4 L364.5 643.7 L366.5 643.1 L368.5 642.9 L370.5 642.7 L372.5 642.5 L374.5 642.4 L376.5 642.3 L378.5 642.2 L380.5 642.1 L382.5 642 L384.5 642 L386.5 642 L388.5 642 L390.5 642 L392.5 642 L394.5 642 L396.5 642 L398.5 642 L400.6 642 L402.6 642 L404.6 642 L406.6 642 L408.6 642 L410.6 642 L412.6 642 L414.6 642 L416.6 642.1 L418.6 642.1 L420.6 642.2 L422.6 642.3 L424.6 642.3 L426.6 642.4 L428.6 642.4 L430.6 642.5 L432.6 642.5 L434.6 642.5 L436.6 642.5 L438.6 642.4 L440.6 642.3 L442.6 642.2 L444.6 642.1 L446.6 642 L448.6 642.1 L450.6 642.5 L452.6 643 L454.6 643.6 L456.6 644 L458.6 643.9 L460.6 643.6 L462.6 642.9 L464.6 642.2 L466.6 641.5 L468.6 640.8 L470.7 640.1 L472.7 639.2 L474.7 638.4 L476.7 637.6 L478.7 636.9 L480.7 636.3 L482.7 636 L484.7 635.9 L486.7 635.8 L488.7 635.8 L490.7 635.7 L492.7 635.7 L494.7 635.7 L496.7 635.6 L498.7 635.4 L500.7 635 L502.7 634.3 L504.7 633.3 L506.7 632.3 L508.7 631.1 L510.7 630.1 L512.7 629.1 L514.7 628.3 L516.7 627.5 L518.7 626.6 L520.7 625.8 L522.7 625 L524.7 624.2 L526.7 623.5 L528.7 622.7 L530.7 622 L532.7 621.3 L534.7 620.7 L536.7 620 L538.7 619.4 L540.7 618.7 L542.8 618.1 L544.8 617.5 L546.8 616.9 L548.8 616.4 L550.8 615.8 L552.8 615.1 L554.8 614.3 L556.8 613.5 L558.8 612.5 L560.8 611.5 L562.8 610.5 L564.8 609.3 L566.8 608.1 L568.8 606.7 L570.8 605.3 L572.8 603.4 L574.8 601.1 L576.8 599 L578.8 597.5 L580.8 596.4 L582.8 595.5 L584.8 594.4 L586.8 593.1 L588.8 591.4 L590.8 589.5 L592.8 587.7 L594.8 586 L596.8 584.5 L598.8 583 L600.8 581.8 L602.8 581 L604.8 580.7 L606.8 580.5 L608.8 580.5 L610.8 580.8 L612.9 581.3 L614.9 581.9 L616.9 582.6 L618.9 583.3 L620.9 584.2 L622.9 585.2 L624.9 586.2 L626.9 587.3 L628.9 588.3 L630.9 589.1 L632.9 589.8 L634.9 590.4 L636.9 591 L638.9 591.6 L640.9 592.2 L642.9 593 L644.9 593.9 L646.9 595.1 L648.9 596.4 L650.9 597.8 L652.9 598.9 L654.9 600.1 L656.9 601.3 L658.9 602.4 L660.9 603.4 L662.9 604 L664.9 604.3 L666.9 604.5 L668.9 604.7 L670.9 605.1 L672.9 606.6 L674.9 607.9 L676.9 607.9 L678.9 607.6 L680.9 607.2 L682.9 606.7 L685 606.3 L687 606 L689 606 L691 606.2 L693 606.6 L695 607 L697 607.6 L699 608.1 L701 608.5 L703 608.8 L705 609 L707 609 L709 608.8 L711 608.6 L713 608.4 L715 608 L717 607.7 L719 607.3 L721 606.7 L723 606.1 L725 605.3 L727 604.4 L729 603.6 L731 602.6 L733 601.6 L735 600.3 L737 598.7 L739 596.5 L741 594.2 L743 592 L745 590 L747 588.1 L749 586.2 L751 584.4 L753 582.6 L755.1 580.9 L757.1 579.2 L759.1 577.6 L761.1 576 L763.1 574.4 L765.1 572.9 L767.1 571.3 L769.1 569.6 L771.1 567.9 L773.1 566.2 L775.1 564.5 L777.1 562.8 L779.1 561 L781.1 559 L783.1 556.9 L785.1 555 L787.1 553.5 L789.1 552.5 L791.1 551.8 L793.1 551.2 L795.1 550.7 L797.1 550.2 L799.1 549.6 L801.1 548.7 L803.1 547.5 L805.1 546.1 L807.1 544.6 L809.1 543 L811.1 541.6 L813.1 540.3 L815.1 539 L817.1 537.8 L819.1 536.4 L821.1 534.8 L823.1 532.8 L825.2 530 L827.2 526.4 L829.2 522.7 L831.2 519.6 L833.2 517 L835.2 514.5 L837.2 511.8 L839.2 508.3 L841.2 503.9 L843.2 500.3 L845.2 497.7 L847.2 495.5 L849.2 493.6 L851.2 491.9 L853.2 490.4 L855.2 489 L857.2 487.7 L859.2 486.6 L861.2 485.5 L863.2 484.5 L865.2 483.5 L867.2 482.4 L869.2 481.3 L871.2 480.2 L873.2 479.2 L875.2 478.1 L877.2 477.1 L879.2 476.1 L881.2 475.2 L883.2 474.3 L885.2 473.4 L887.2 472.6 L889.2 471.8 L891.2 471.1 L893.2 470.4 L895.2 469.9 L897.3 469.3 L899.3 468.9 L901.3 468.4 L903.3 468 L905.3 467.6 L907.3 467.1 L909.3 466.6 L911.3 466 L913.3 465.6 L915.3 465.2 L917.3 465 L919.3 465 L921.3 465.1 L923.3 465.3 L925.3 465.4 L927.3 465.6 L929.3 465.8 L931.3 466 L933.3 466.2 L935.3 466.5 L937.3 466.8 L939.3 467.1 L941.3 467.5 L943.3 467.9 L945.3 468.5 L947.3 469.1 L949.3 469.8 L951.3 470.7 L953.3 472.1 L955.3 474.3 L957.3 477 L959.3 479.8 L961.3 482.7 L963.3 485.3 L965.3 487.7 L967.4 490.1 L969.4 492.5 L971.4 494.9 L973.4 497.3 L975.4 499.7 L977.4 502.2 L979.4 504.6 L981.4 507.1 L983.4 509.5 L985.4 511.9 L987.4 514.3 L989.4 516.4 L991.4 518.5 L993.4 520.5 L995.4 522.4 L997.4 524.4 L999.4 526.3 L1001.4 528.4 L1003.4 530.8 L1005.4 533.3 L1007.4 535.9 L1009.4 538.3 L1011.4 540.4 L1013.4 541.9 L1015.4 543.1 L1017.4 544 L1019.4 544.9 L1021.4 545.6 L1023.4 546.4 L1025.4 547.2 L1027.4 548.2 L1029.4 549.1 L1031.4 550.1 L1033.4 551.1 L1035.4 552.2 L1037.5 553.4 L1039.5 554.6 L1041.5 555.9 L1043.5 557.3 L1045.5 558.9 L1047.5 560.5 L1049.5 562.4 L1051.5 564.5 L1053.5 567.2 L1055.5 570.3 L1057.5 573.7 L1059.5 577.3 L1061.5 581.4 L1063.5 585.6 L1065.5 589.6 L1067.5 593 L1069.5 596.2 L1071.5 599.2 L1073.5 602.1 L1075.5 604.8 L1077.5 607.5 L1079.5 610.2 L1081.5 612.8 L1083.5 615.3 L1085.5 617.6 L1087.5 619.6 L1089.5 621.4 L1091.5 622.9 L1093.5 624.3 L1095.5 625.6 L1097.5 626.8 L1099.5 628.1 L1101.5 629.4 L1103.5 630.7 L1105.5 632 L1107.5 633.3 L1109.6 634.6 L1111.6 635.8 L1113.6 637 L1115.6 638.2 L1117.6 639.4 L1119.6 640.6 L1121.6 641.7 L1123.6 642.8 L1125.6 643.8 L1127.6 644.8 L1129.6 645.8 L1131.6 646.9 L1133.6 647.8 L1135.6 648.6 L1137.6 649 L1139.6 649 L1141.6 649 L1143.6 649 L1145.6 649 L1147.6 648.8 L1149.6 647.9 L1151.6 646.7 L1153.6 645.4 L1155.6 644.2 L1157.6 643.2 L1159.6 642.2 L1161.6 641.2 L1163.6 640.2 L1165.6 639.3 L1167.6 638.4 L1169.6 637.5 L1171.6 636.7 L1173.6 635.9 L1175.6 635.1 L1177.6 634.3 L1179.7 633.5 L1181.7 632.7 L1183.7 631.9 L1185.7 631 L1187.7 630 L1189.7 628.9 L1191.7 628 L1193.7 627.3 L1195.7 627 L1197.7 627 L1199.7 627 L1201.7 627 L1203.7 627 L1205.7 627.1 L1207.7 627.5 L1209.7 628 L1211.7 628.5 L1213.7 629.1 L1215.7 629.6 L1217.7 630.2 L1219.7 630.9 L1221.7 631.8 L1223.7 633.3 L1225.7 635.5 L1227.7 638 L1229.7 640.5 L1231.7 643.1 L1233.7 645.8 L1235.7 648.6 L1237.7 651.7 L1239.7 655 L1241.7 658.1 L1243.7 660.8 L1245.7 663 L1247.7 664.9 L1249.8 666.5" fill="none" stroke="#4a8be0" stroke-width="1.1"/>
<path d="M1363.2 666.5 L1366 662.5" fill="none" stroke="#4a8be0" stroke-width="1.1"/>
<path d="M10 398 L12 398.8 L14 399.5 L16 400.2 L18 401 L20 401.7 L22 402.4 L24 403.1 L26 403.8 L28 404.4 L30 405.1 L32 405.7 L34 406.4 L36 407 L38 407.6 L40 408.2 L42 408.8 L44 409.4 L46 409.9 L48 410.5 L50 411 L52 411.5 L54.1 412.1 L56.1 412.6 L58.1 413.1 L60.1 413.6 L62.1 414.1 L64.1 414.5 L66.1 415 L68.1 415.5 L70.1 415.9 L72.1 416.4 L74.1 416.8 L76.1 417.2 L78.1 417.6 L80.1 418.1 L82.1 418.5 L84.1 418.8 L86.1 419.2 L88.1 419.6 L90.1 419.9 L92.1 420.3 L94.1 420.6 L96.1 421 L98.1 421.3 L100.1 421.6 L102.1 422 L104.1 422.3 L106.1 422.7 L108.1 423 L110.1 423.4 L112.1 423.7 L114.1 424.1 L116.1 424.5 L118.1 424.9 L120.1 425.3 L122.1 425.7 L124.1 426.1 L126.1 426.5 L128.1 426.9 L130.1 427.3 L132.1 427.8 L134.1 428.3 L136.1 428.8 L138.2 429.4 L140.2 429.9 L142.2 430.6 L144.2 431.2 L146.2 431.9 L148.2 432.5 L150.2 433.2 L152.2 433.9 L154.2 434.7 L156.2 435.4 L158.2 436.2 L160.2 436.9 L162.2 437.7 L164.2 438.5 L166.2 439.2 L168.2 440 L170.2 440.8 L172.2 441.5 L174.2 442.3 L176.2 443 L178.2 443.8 L180.2 444.6 L182.2 445.4 L184.2 446.2 L186.2 447.1 L188.2 447.9 L190.2 448.8 L192.2 449.7 L194.2 450.6 L196.2 451.6 L198.2 452.5 L200.2 453.4 L202.2 454.3 L204.2 455.3 L206.2 456.2 L208.2 457 L210.2 457.9 L212.2 458.7 L214.2 459.6 L216.2 460.4 L218.2 461.2 L220.2 462 L222.3 462.8 L224.3 463.6 L226.3 464.4 L228.3 465.2 L230.3 466 L232.3 466.7 L234.3 467.5 L236.3 468.3 L238.3 469 L240.3 469.8 L242.3 470.5 L244.3 471.2 L246.3 471.9 L248.3 472.6 L250.3 473.3 L252.3 474.1 L254.3 474.8 L256.3 475.6 L258.3 476.3 L260.3 477.1 L262.3 477.9 L264.3 478.8 L266.3 479.6 L268.3 480.5 L270.3 481.3 L272.3 482.2 L274.3 483.1 L276.3 484 L278.3 484.9 L280.3 485.8 L282.3 486.8 L284.3 487.7 L286.3 488.6 L288.3 489.6 L290.3 490.6 L292.3 491.5 L294.3 492.6 L296.3 493.6 L298.3 494.6 L300.3 495.6 L302.3 496.6 L304.3 497.6 L306.3 498.7 L308.4 499.7 L310.4 500.7 L312.4 501.7 L314.4 502.7 L316.4 503.7 L318.4 504.7 L320.4 505.8 L322.4 506.8 L324.4 507.8 L326.4 508.8 L328.4 509.8 L330.4 510.8 L332.4 511.8 L334.4 512.7 L336.4 513.6 L338.4 514.6 L340.4 515.5 L342.4 516.4 L344.4 517.3 L346.4 518.2 L348.4 519 L350.4 519.9 L352.4 520.8 L354.4 521.6 L356.4 522.5 L358.4 523.3 L360.4 524.2 L362.4 525 L364.4 525.8 L366.4 526.7 L368.4 527.5 L370.4 528.3 L372.4 529.1 L374.4 529.9 L376.4 530.7 L378.4 531.5 L380.4 532.3 L382.4 533 L384.4 533.8 L386.4 534.5 L388.4 535.3 L390.4 536.1 L392.5 536.9 L394.5 537.6 L396.5 538.4 L398.5 539.1 L400.5 539.9 L402.5 540.6 L404.5 541.3 L406.5 541.9 L408.5 542.5 L410.5 543.1 L412.5 543.7 L414.5 544.2 L416.5 544.7 L418.5 545.2 L420.5 545.7 L422.5 546.1 L424.5 546.6 L426.5 547 L428.5 547.5 L430.5 547.9 L432.5 548.4 L434.5 548.9 L436.5 549.4 L438.5 549.9 L440.5 550.4 L442.5 550.9 L444.5 551.4 L446.5 552 L448.5 552.5 L450.5 553 L452.5 553.6 L454.5 554.1 L456.5 554.6 L458.5 555.1 L460.5 555.6 L462.5 556.1 L464.5 556.6 L466.5 557.1 L468.5 557.6 L470.5 558.2 L472.5 558.7 L474.5 559.2 L476.6 559.8 L478.6 560.3 L480.6 560.9 L482.6 561.4 L484.6 561.9 L486.6 562.4 L488.6 562.9 L490.6 563.4 L492.6 563.9 L494.6 564.4 L496.6 564.8 L498.6 565.2 L500.6 565.6 L502.6 566 L504.6 566.4 L506.6 566.8 L508.6 567.2 L510.6 567.6 L512.6 567.9 L514.6 568.3 L516.6 568.7 L518.6 569.1 L520.6 569.5 L522.6 570 L524.6 570.4 L526.6 570.8 L528.6 571.3 L530.6 571.7 L532.6 572.1 L534.6 572.5 L536.6 572.9 L538.6 573.3 L540.6 573.6 L542.6 573.9 L544.6 574.2 L546.6 574.5 L548.6 574.8 L550.6 575.1 L552.6 575.3 L554.6 575.6 L556.6 575.8 L558.6 576 L560.6 576.3 L562.7 576.5 L564.7 576.7 L566.7 576.9 L568.7 577.1 L570.7 577.3 L572.7 577.5 L574.7 577.7 L576.7 577.9 L578.7 578.1 L580.7 578.3 L582.7 578.5 L584.7 578.7 L586.7 578.8 L588.7 578.9 L590.7 579 L592.7 579 L594.7 579 L596.7 579 L598.7 579 L600.7 578.9 L602.7 578.9 L604.7 578.9 L606.7 578.8 L608.7 578.8 L610.7 578.7 L612.7 578.7 L614.7 578.6 L616.7 578.5 L618.7 578.5 L620.7 578.4 L622.7 578.3 L624.7 578.1 L626.7 577.9 L628.7 577.7 L630.7 577.5 L632.7 577.3 L634.7 577 L636.7 576.8 L638.7 576.5 L640.7 576.3 L642.7 576 L644.7 575.8 L646.8 575.5 L648.8 575.2 L650.8 575 L652.8 574.7 L654.8 574.4 L656.8 574 L658.8 573.7 L660.8 573.4 L662.8 573 L664.8 572.6 L666.8 572.2 L668.8 571.8 L670.8 571.4 L672.8 570.9 L674.8 570.4 L676.8 569.9 L678.8 569.4 L680.8 568.8 L682.8 568.2 L684.8 567.6 L686.8 567 L688.8 566.3 L690.8 565.7 L692.8 565.1 L694.8 564.4 L696.8 563.7 L698.8 563 L700.8 562.3 L702.8 561.5 L704.8 560.7 L706.8 559.9 L708.8 559.1 L710.8 558.3 L712.8 557.5 L714.8 556.7 L716.8 556 L718.8 555.2 L720.8 554.4 L722.8 553.6 L724.8 552.8 L726.8 552 L728.8 551.2 L730.9 550.4 L732.9 549.6 L734.9 548.8 L736.9 548 L738.9 547.2 L740.9 546.4 L742.9 545.6 L744.9 544.8 L746.9 544 L748.9 543.2 L750.9 542.4 L752.9 541.5 L754.9 540.7 L756.9 539.9 L758.9 539.1 L760.9 538.3 L762.9 537.5 L764.9 536.7 L766.9 535.9 L768.9 535.1 L770.9 534.3 L772.9 533.5 L774.9 532.7 L776.9 531.9 L778.9 531 L780.9 530.2 L782.9 529.4 L784.9 528.6 L786.9 527.8 L788.9 527 L790.9 526.3 L792.9 525.5 L794.9 524.8 L796.9 524.1 L798.9 523.4 L800.9 522.7 L802.9 522.1 L804.9 521.4 L806.9 520.8 L808.9 520.1 L810.9 519.5 L812.9 518.8 L815 518.1 L817 517.4 L819 516.6 L821 515.9 L823 515.1 L825 514.3 L827 513.5 L829 512.7 L831 511.9 L833 511.1 L835 510.3 L837 509.4 L839 508.6 L841 507.8 L843 507 L845 506.2 L847 505.4 L849 504.6 L851 503.8 L853 503 L855 502.2 L857 501.4 L859 500.6 L861 499.8 L863 499 L865 498.2 L867 497.4 L869 496.6 L871 495.8 L873 495 L875 494.2 L877 493.3 L879 492.5 L881 491.7 L883 490.9 L885 490.1 L887 489.3 L889 488.5 L891 487.7 L893 487 L895 486.2 L897 485.5 L899 484.8 L901.1 484 L903.1 483.3 L905.1 482.6 L907.1 481.9 L909.1 481.2 L911.1 480.5 L913.1 479.8 L915.1 479.1 L917.1 478.3 L919.1 477.6 L921.1 476.8 L923.1 476.1 L925.1 475.3 L927.1 474.6 L929.1 473.9 L931.1 473.2 L933.1 472.5 L935.1 471.8 L937.1 471.1 L939.1 470.4 L941.1 469.8 L943.1 469.1 L945.1 468.5 L947.1 468 L949.1 467.5 L951.1 467 L953.1 466.5 L955.1 466.1 L957.1 465.6 L959.1 465.2 L961.1 464.8 L963.1 464.4 L965.1 464.1 L967.1 463.7 L969.1 463.4 L971.1 463.1 L973.1 462.8 L975.1 462.6 L977.1 462.4 L979.1 462.2 L981.1 461.9 L983.1 461.7 L985.2 461.6 L987.2 461.4 L989.2 461.2 L991.2 461 L993.2 460.9 L995.2 460.8 L997.2 460.7 L999.2 460.6 L1001.2 460.5 L1003.2 460.4 L1005.2 460.4 L1007.2 460.3 L1009.2 460.3 L1011.2 460.2 L1013.2 460.2 L1015.2 460.1 L1017.2 460.1 L1019.2 460 L1021.2 460 L1023.2 460 L1025.2 460 L1027.2 460 L1029.2 460 L1031.2 460 L1033.2 460 L1035.2 460.1 L1037.2 460.1 L1039.2 460.2 L1041.2 460.2 L1043.2 460.3 L1045.2 460.3 L1047.2 460.4 L1049.2 460.4 L1051.2 460.5 L1053.2 460.6 L1055.2 460.8 L1057.2 461 L1059.2 461.2 L1061.2 461.5 L1063.2 461.8 L1065.2 462.1 L1067.2 462.5 L1069.3 462.8 L1071.3 463.2 L1073.3 463.5 L1075.3 463.9 L1077.3 464.2 L1079.3 464.5 L1081.3 464.9 L1083.3 465.3 L1085.3 465.6 L1087.3 466 L1089.3 466.4 L1091.3 466.8 L1093.3 467.2 L1095.3 467.7 L1097.3 468.1 L1099.3 468.6 L1101.3 469.1 L1103.3 469.6 L1105.3 470.2 L1107.3 470.8 L1109.3 471.5 L1111.3 472.1 L1113.3 472.8 L1115.3 473.5 L1117.3 474.2 L1119.3 474.9 L1121.3 475.6 L1123.3 476.2 L1125.3 476.8 L1127.3 477.4 L1129.3 477.9 L1131.3 478.4 L1133.3 479 L1135.3 479.5 L1137.3 480 L1139.3 480.5 L1141.3 480.9 L1143.3 481.4 L1145.3 481.8 L1147.3 482.3 L1149.3 482.7 L1151.3 483.1 L1153.3 483.5 L1155.4 483.9 L1157.4 484.3 L1159.4 484.7 L1161.4 485.1 L1163.4 485.5 L1165.4 485.8 L1167.4 486.1 L1169.4 486.4 L1171.4 486.7 L1173.4 486.8 L1175.4 487 L1177.4 487 L1179.4 487.1 L1181.4 487.2 L1183.4 487.2 L1185.4 487.3 L1187.4 487.3 L1189.4 487.4 L1191.4 487.4 L1193.4 487.4 L1195.4 487.5 L1197.4 487.5 L1199.4 487.5 L1201.4 487.5 L1203.4 487.5 L1205.4 487.4 L1207.4 487.4 L1209.4 487.3 L1211.4 487.2 L1213.4 487 L1215.4 486.9 L1217.4 486.8 L1219.4 486.6 L1221.4 486.4 L1223.4 486.2 L1225.4 486.1 L1227.4 485.9 L1229.4 485.6 L1231.4 485.3 L1233.4 485 L1235.4 484.6 L1237.4 484.2 L1239.5 483.8 L1241.5 483.4 L1243.5 482.9 L1245.5 482.4 L1247.5 481.9 L1249.5 481.4 L1251.5 480.9 L1253.5 480.3 L1255.5 479.7 L1257.5 479.1 L1259.5 478.4 L1261.5 477.7 L1263.5 477 L1265.5 476.3 L1267.5 475.5 L1269.5 474.7 L1271.5 473.9 L1273.5 473 L1275.5 472.2 L1277.5 471.4 L1279.5 470.5 L1281.5 469.6 L1283.5 468.7 L1285.5 467.7 L1287.5 466.8 L1289.5 465.8 L1291.5 464.8 L1293.5 463.7 L1295.5 462.6 L1297.5 461.5 L1299.5 460.4 L1301.5 459.2 L1303.5 457.9 L1305.5 456.6 L1307.5 455.1 L1309.5 453.7 L1311.5 452.2 L1313.5 450.7 L1315.5 449.2 L1317.5 447.7 L1319.5 446.3 L1321.5 444.9 L1323.6 443.6 L1325.6 442.3 L1327.6 441.1 L1329.6 439.8 L1331.6 438.5 L1333.6 437.3 L1335.6 436.1 L1337.6 434.9 L1339.6 433.7 L1341.6 432.5 L1343.6 431.3 L1345.6 430.1 L1347.6 428.9 L1349.6 427.7 L1351.6 426.5 L1353.6 425.3 L1355.6 424.2 L1357.6 423 L1359.6 421.9 L1361.6 420.7 L1363.6 419.6 L1365.6 418.5" fill="none" stroke="#81c784" stroke-width="1.7" stroke-linecap="round"/>
<path d="M10 410.2 L12 412.8 L14 415.2 L16 417.6 L18 419.9 L20 422.2 L22 424.3 L24 426.3 L26 428.2 L28 429.9 L30 431.6 L32 433.2 L34 434.7 L36 436.2 L38 437.5 L40 438.9 L42 440.2 L44 441.4 L46 442.7 L48 443.9 L50 445.1 L52 446.2 L54 447.3 L56 448.4 L58 449.4 L60 450.4 L62 451.4 L64 452.3 L66 453.2 L68 454.1 L70 455 L72 455.8 L74 456.6 L76 457.4 L78 458.2 L80 459 L82 459.8 L84 460.5 L86 461.2 L88 461.9 L90 462.7 L92 463.4 L94 464.1 L96 464.9 L98 465.7 L100 466.6 L102 467.5 L104 468.5 L106 469.4 L108 470.4 L110 471.4 L112 472.5 L114 473.5 L116 474.6 L118 475.7 L120 476.8 L122 477.9 L124.1 479.1 L126.1 480.3 L128.1 481.5 L130.1 482.7 L132.1 483.8 L134.1 485 L136.1 486.1 L138.1 487.2 L140.1 488.3 L142.1 489.4 L144.1 490.4 L146.1 491.5 L148.1 492.6 L150.1 493.6 L152.1 494.7 L154.1 495.8 L156.1 496.9 L158.1 497.9 L160.1 499 L162.1 500.1 L164.1 501.3 L166.1 502.4 L168.1 503.5 L170.1 504.7 L172.1 505.8 L174.1 507 L176.1 508.1 L178.1 509.2 L180.1 510.3 L182.1 511.4 L184.1 512.5 L186.1 513.6 L188.1 514.6 L190.1 515.7 L192.1 516.8 L194.1 517.8 L196.1 518.9 L198.1 519.9 L200.1 521 L202.1 521.9 L204.1 522.9 L206.1 523.8 L208.1 524.7 L210.1 525.5 L212.1 526.3 L214.1 527.1 L216.1 527.8 L218.1 528.4 L220.1 529.1 L222.1 529.7 L224.1 530.4 L226.1 531 L228.1 531.6 L230.1 532.3 L232.1 533 L234.1 533.7 L236.1 534.4 L238.1 535.2 L240.1 535.9 L242.1 536.7 L244.1 537.5 L246.1 538.4 L248.1 539.3 L250.1 540.2 L252.1 541.3 L254.1 542.3 L256.1 543.4 L258.1 544.5 L260.1 545.6 L262.1 546.6 L264.1 547.6 L266.1 548.6 L268.1 549.7 L270.1 550.7 L272.1 551.8 L274.1 552.9 L276.1 554 L278.1 555.1 L280.1 556.2 L282.1 557.3 L284.1 558.5 L286.1 559.7 L288.1 561 L290.1 562.3 L292.1 563.7 L294.1 565 L296.1 566.2 L298.1 567.3 L300.1 568.4 L302.1 569.3 L304.1 570.3 L306.1 571.2 L308.1 572.1 L310.1 573.1 L312.1 574 L314.1 575 L316.1 575.9 L318.1 576.9 L320.1 577.8 L322.1 578.8 L324.1 579.8 L326.1 580.9 L328.1 582 L330.1 583.1 L332.1 584.1 L334.1 585.1 L336.1 586 L338.1 586.9 L340.1 587.7 L342.1 588.5 L344.1 589.2 L346.1 590 L348.2 590.7 L350.2 591.5 L352.2 592.3 L354.2 593 L356.2 593.8 L358.2 594.4 L360.2 595 L362.2 595.6 L364.2 596.1 L366.2 596.6 L368.2 597.1 L370.2 597.5 L372.2 597.9 L374.2 598.3 L376.2 598.8 L378.2 599.2 L380.2 599.6 L382.2 599.8 L384.2 600 L386.2 600 L388.2 599.9 L390.2 599.8 L392.2 599.6 L394.2 599.4 L396.2 599.1 L398.2 598.9 L400.2 598.7 L402.2 598.4 L404.2 598.1 L406.2 597.7 L408.2 597.3 L410.2 597 L412.2 596.6 L414.2 596.1 L416.2 595.6 L418.2 595.1 L420.2 594.6 L422.2 594.1 L424.2 593.6 L426.2 593 L428.2 592.4 L430.2 591.9 L432.2 591.3 L434.2 590.7 L436.2 590.2 L438.2 589.6 L440.2 589 L442.2 588.4 L444.2 587.9 L446.2 587.3 L448.2 586.8 L450.2 586.3 L452.2 585.8 L454.2 585.4 L456.2 584.9 L458.2 584.4 L460.2 584 L462.2 583.5 L464.2 582.9 L466.2 582.4 L468.2 581.9 L470.2 581.5 L472.2 581 L474.2 580.5 L476.2 580 L478.2 579.5 L480.2 579.1 L482.2 578.6 L484.2 578.1 L486.2 577.6 L488.2 577.1 L490.2 576.7 L492.2 576.2 L494.2 575.7 L496.2 575.2 L498.2 574.8 L500.2 574.3 L502.2 573.9 L504.2 573.4 L506.2 572.9 L508.2 572.5 L510.2 572 L512.2 571.5 L514.2 571 L516.2 570.5 L518.2 569.9 L520.2 569.4 L522.2 568.8 L524.2 568.2 L526.2 567.6 L528.2 566.9 L530.2 566.3 L532.2 565.6 L534.2 565 L536.2 564.3 L538.2 563.6 L540.2 562.9 L542.2 562.3 L544.2 561.6 L546.2 560.9 L548.2 560.2 L550.2 559.4 L552.2 558.7 L554.2 557.9 L556.2 557.2 L558.2 556.4 L560.2 555.7 L562.2 555 L564.2 554.3 L566.2 553.6 L568.2 552.9 L570.2 552.3 L572.2 551.7 L574.3 551.2 L576.3 550.6 L578.3 550.1 L580.3 549.5 L582.3 548.9 L584.3 548.3 L586.3 547.6 L588.3 546.9 L590.3 546.1 L592.3 545.1 L594.3 544.1 L596.3 543 L598.3 541.9 L600.3 540.8 L602.3 539.7 L604.3 538.6 L606.3 537.6 L608.3 536.7 L610.3 535.8 L612.3 534.8 L614.3 533.9 L616.3 532.9 L618.3 531.9 L620.3 530.7 L622.3 529.5 L624.3 528.2 L626.3 526.8 L628.3 525.5 L630.3 524.1 L632.3 522.8 L634.3 521.5 L636.3 520.1 L638.3 518.7 L640.3 517.4 L642.3 516 L644.3 514.6 L646.3 513.3 L648.3 512 L650.3 510.6 L652.3 509.3 L654.3 507.9 L656.3 506.4 L658.3 504.9 L660.3 503.2 L662.3 501.6 L664.3 499.9 L666.3 498.3 L668.3 496.8 L670.3 495.3 L672.3 493.9 L674.3 492.5 L676.3 491.1 L678.3 489.6 L680.3 488.2 L682.3 486.6 L684.3 485 L686.3 483.4 L688.3 481.8 L690.3 480.2 L692.3 478.6 L694.3 476.9 L696.3 475.3 L698.3 473.7 L700.3 472 L702.3 470.4 L704.3 468.9 L706.3 467.4 L708.3 466 L710.3 464.6 L712.3 463.2 L714.3 461.8 L716.3 460.6 L718.3 459.3 L720.3 458.1 L722.3 457 L724.3 455.9 L726.3 454.8 L728.3 453.7 L730.3 452.6 L732.3 451.4 L734.3 450.2 L736.3 449 L738.3 447.8 L740.3 446.5 L742.3 445.4 L744.3 444.3 L746.3 443.2 L748.3 442.1 L750.3 441.1 L752.3 440.1 L754.3 439.1 L756.3 438.1 L758.3 437.1 L760.3 436.1 L762.3 435.2 L764.3 434.2 L766.3 433.3 L768.3 432.3 L770.3 431.4 L772.3 430.5 L774.3 429.6 L776.3 428.8 L778.3 427.9 L780.3 427.1 L782.3 426.2 L784.3 425.4 L786.3 424.6 L788.3 423.8 L790.3 423.1 L792.3 422.3 L794.3 421.5 L796.3 420.6 L798.4 419.8 L800.4 419 L802.4 418.2 L804.4 417.4 L806.4 416.7 L808.4 415.9 L810.4 415.2 L812.4 414.5 L814.4 413.8 L816.4 413.1 L818.4 412.4 L820.4 411.6 L822.4 410.9 L824.4 410.2 L826.4 409.5 L828.4 408.7 L830.4 408 L832.4 407.4 L834.4 406.7 L836.4 406.1 L838.4 405.4 L840.4 404.8 L842.4 404.2 L844.4 403.6 L846.4 403 L848.4 402.4 L850.4 401.9 L852.4 401.3 L854.4 400.8 L856.4 400.3 L858.4 399.8 L860.4 399.2 L862.4 398.7 L864.4 398.3 L866.4 397.8 L868.4 397.4 L870.4 397 L872.4 396.6 L874.4 396.3 L876.4 396 L878.4 395.7 L880.4 395.5 L882.4 395.4 L884.4 395.3 L886.4 395.2 L888.4 395.1 L890.4 395 L892.4 395 L894.4 395 L896.4 395 L898.4 395 L900.4 395 L902.4 395 L904.4 395 L906.4 395 L908.4 395.2 L910.4 395.4 L912.4 395.8 L914.4 396.2 L916.4 396.7 L918.4 397.1 L920.4 397.6 L922.4 398.1 L924.4 398.6 L926.4 399.1 L928.4 399.5 L930.4 399.9 L932.4 400.3 L934.4 400.6 L936.4 401 L938.4 401.4 L940.4 401.7 L942.4 402.1 L944.4 402.6 L946.4 403.1 L948.4 403.7 L950.4 404.3 L952.4 405 L954.4 405.7 L956.4 406.4 L958.4 407.2 L960.4 408.1 L962.4 408.9 L964.4 409.8 L966.4 410.7 L968.4 411.7 L970.4 412.7 L972.4 413.8 L974.4 414.9 L976.4 416.1 L978.4 417.3 L980.4 418.5 L982.4 419.8 L984.4 421 L986.4 422.3 L988.4 423.5 L990.4 424.9 L992.4 426.2 L994.4 427.6 L996.4 429 L998.4 430.4 L1000.4 431.8 L1002.4 433.1 L1004.4 434.5 L1006.4 435.8 L1008.4 437.1 L1010.4 438.3 L1012.4 439.6 L1014.4 440.8 L1016.4 442.1 L1018.4 443.3 L1020.4 444.5 L1022.4 445.8 L1024.5 447 L1026.5 448.3 L1028.5 449.5 L1030.5 450.7 L1032.5 452 L1034.5 453.2 L1036.5 454.5 L1038.5 456 L1040.5 457.5 L1042.5 459.2 L1044.5 461 L1046.5 462.9 L1048.5 464.7 L1050.5 466.5 L1052.5 468.3 L1054.5 470 L1056.5 471.7 L1058.5 473.5 L1060.5 475.2 L1062.5 477 L1064.5 478.9 L1066.5 480.8 L1068.5 482.7 L1070.5 484.7 L1072.5 486.7 L1074.5 488.7 L1076.5 490.8 L1078.5 492.8 L1080.5 494.9 L1082.5 496.9 L1084.5 498.9 L1086.5 501 L1088.5 503 L1090.5 505 L1092.5 507 L1094.5 509 L1096.5 511 L1098.5 513.1 L1100.5 515.1 L1102.5 517.1 L1104.5 519 L1106.5 521 L1108.5 522.9 L1110.5 524.9 L1112.5 526.9 L1114.5 528.9 L1116.5 530.9 L1118.5 532.7 L1120.5 534.5 L1122.5 536.2 L1124.5 537.8 L1126.5 539.2 L1128.5 540.6 L1130.5 542 L1132.5 543.3 L1134.5 544.5 L1136.5 545.8 L1138.5 547 L1140.5 548.2 L1142.5 549.5 L1144.5 550.8 L1146.5 551.9 L1148.5 553 L1150.5 553.8 L1152.5 554.5 L1154.5 555.1 L1156.5 555.6 L1158.5 556.1 L1160.5 556.5 L1162.5 556.9 L1164.5 557.1 L1166.5 557.4 L1168.5 557.6 L1170.5 557.9 L1172.5 558.1 L1174.5 558.2 L1176.5 558.4 L1178.5 558.5 L1180.5 558.5 L1182.5 558.4 L1184.5 558.2 L1186.5 557.9 L1188.5 557.4 L1190.5 556.9 L1192.5 556.4 L1194.5 555.9 L1196.5 555.4 L1198.5 554.9 L1200.5 554.4 L1202.5 554 L1204.5 553.4 L1206.5 552.9 L1208.5 552.3 L1210.5 551.6 L1212.5 550.9 L1214.5 550 L1216.5 548.9 L1218.5 547.6 L1220.5 546.2 L1222.5 544.6 L1224.5 543.1 L1226.5 541.6 L1228.5 540.1 L1230.5 538.7 L1232.5 537.1 L1234.5 535.5 L1236.5 533.8 L1238.5 532 L1240.5 529.9 L1242.5 527.7 L1244.5 525.3 L1246.5 522.8 L1248.6 520.3 L1250.6 517.6 L1252.6 514.9 L1254.6 511.9 L1256.6 508.9 L1258.6 505.7 L1260.6 502.6 L1262.6 499.4 L1264.6 496.4 L1266.6 493.4 L1268.6 490.4 L1270.6 487.3 L1272.6 484.3 L1274.6 481.2 L1276.6 478.1 L1278.6 474.9 L1280.6 471.7 L1282.6 468.5 L1284.6 465.2 L1286.6 462 L1288.6 458.8 L1290.6 455.7 L1292.6 452.7 L1294.6 449.6 L1296.6 446.5 L1298.6 443.3 L1300.6 440 L1302.6 436.6 L1304.6 433 L1306.6 429.4 L1308.6 425.8 L1310.6 422.2 L1312.6 418.7 L1314.6 415.2 L1316.6 411.8 L1318.6 408.4 L1320.6 405.1 L1322.6 401.7 L1324.6 398.4 L1326.6 395 L1328.6 391.7 L1330.6 388.4 L1332.6 385.1 L1334.6 381.8 L1336.6 378.5 L1338.6 375.2 L1340.6 371.8 L1342.6 368.3 L1344.6 364.9 L1346.6 361.5 L1348.6 358.2 L1350.6 355 L1352.6 351.9 L1354.6 348.9 L1356.6 346 L1358.6 343.1 L1360.6 340.3" fill="none" stroke="#f8bbd0" stroke-width="3.9" stroke-linecap="butt"/>
<path d="M10 477 L12 477.8 L14 478.8 L16 479.9 L18 481 L20 482.3 L22 483.7 L24 485.2 L26 487 L28 488.9 L30 491 L32 493 L34 494.7 L36 496.2 L38 497.7 L40 499.2 L42 500.5 L44 501.6 L46 502.5 L48 503.1 L50 503.6 L52 504.1 L54 504.4 L56 504.7 L58 504.9 L60 505 L62 504.9 L64 504.6 L66 504.1 L68 503.5 L70 502.8 L72 502.2 L74 501.4 L76 500.5 L78 499.4 L80 498.2 L82 497 L84 496 L86.1 495 L88.1 494.1 L90.1 493.3 L92.1 492.5 L94.1 491.7 L96.1 491 L98.1 490.3 L100.1 489.7 L102.1 489 L104.1 488.4 L106.1 487.9 L108.1 487.4 L110.1 487 L112.1 486.6 L114.1 486.2 L116.1 485.8 L118.1 485.6 L120.1 485.5 L122.1 485.6 L124.1 485.9 L126.1 486.3 L128.1 486.8 L130.1 487.4 L132.1 488 L134.1 488.7 L136.1 489.4 L138.1 490.2 L140.1 491.2 L142.1 492.2 L144.1 493.4 L146.1 494.6 L148.1 495.9 L150.1 497.3 L152.1 498.8 L154.1 500.4 L156.1 502.1 L158.1 503.9 L160.1 505.6 L162.1 507.4 L164.1 509.4 L166.1 511.4 L168.1 513.3 L170.1 515.1 L172.1 516.7 L174.1 518.1 L176.1 519.3 L178.1 520.4 L180.1 521.5 L182.1 522.5 L184.1 523.5 L186.1 524.6 L188.1 525.7 L190.1 526.8 L192.1 527.9 L194.1 528.9 L196.1 529.9 L198.1 530.8 L200.1 531.6 L202.1 532.4 L204.1 533.2 L206.1 533.9 L208.1 534.5 L210.1 535 L212.1 535.5 L214.1 535.9 L216.1 536.3 L218.1 536.7 L220.1 536.9 L222.1 537 L224.1 537 L226.1 537 L228.1 537 L230.1 537 L232.1 537 L234.1 537 L236.2 537 L238.2 537.2 L240.2 537.4 L242.2 537.8 L244.2 538.2 L246.2 538.7 L248.2 539.2 L250.2 539.9 L252.2 540.8 L254.2 541.8 L256.2 543 L258.2 544.3 L260.2 545.6 L262.2 547.1 L264.2 548.9 L266.2 550.8 L268.2 552.8 L270.2 554.8 L272.2 556.7 L274.2 558.5 L276.2 560.3 L278.2 562.2 L280.2 563.9 L282.2 565.7 L284.2 567.3 L286.2 568.9 L288.2 570.5 L290.2 572 L292.2 573.4 L294.2 574.8 L296.2 576.2 L298.2 577.4 L300.2 578.6 L302.2 579.7 L304.2 580.8 L306.2 581.9 L308.2 583 L310.2 584.1 L312.2 585.4 L314.2 586.7 L316.2 588 L318.2 589.4 L320.2 590.7 L322.2 591.8 L324.2 592.9 L326.2 594 L328.2 595 L330.2 596 L332.2 596.9 L334.2 597.7 L336.2 598.5 L338.2 599.2 L340.2 599.9 L342.2 600.6 L344.2 601.2 L346.2 601.7 L348.2 602.2 L350.2 602.6 L352.2 603 L354.2 603.4 L356.2 603.7 L358.2 603.9 L360.2 604 L362.2 604 L364.2 603.8 L366.2 603.7 L368.2 603.5 L370.2 603.3 L372.2 603 L374.2 602.8 L376.2 602.5 L378.2 602.1 L380.2 601.7 L382.2 601.2 L384.2 600.7 L386.2 600.1 L388.3 599.2 L390.3 598.2 L392.3 597.1 L394.3 595.9 L396.3 594.7 L398.3 593.6 L400.3 592.5 L402.3 591.5 L404.3 590.4 L406.3 589.2 L408.3 588.1 L410.3 586.8 L412.3 585.4 L414.3 583.9 L416.3 582.3 L418.3 580.7 L420.3 579.3 L422.3 578.1 L424.3 577.1 L426.3 576.3 L428.3 575.6 L430.3 574.8 L432.3 574.1 L434.3 573.3 L436.3 572.4 L438.3 571.5 L440.3 570.6 L442.3 569.7 L444.3 568.7 L446.3 567.7 L448.3 566.6 L450.3 565.4 L452.3 564.2 L454.3 562.9 L456.3 561.5 L458.3 560.2 L460.3 558.8 L462.3 557.3 L464.3 555.8 L466.3 554.3 L468.3 552.8 L470.3 551.2 L472.3 549.7 L474.3 548.1 L476.3 546.6 L478.3 545.3 L480.3 544.1 L482.3 543.1 L484.3 542.1 L486.3 541.2 L488.3 540.4 L490.3 539.7 L492.3 539.2 L494.3 538.7 L496.3 538.3 L498.3 538 L500.3 537.6 L502.3 537.4 L504.3 537.1 L506.3 536.9 L508.3 536.7 L510.3 536.6 L512.3 536.5 L514.3 536.3 L516.3 536.2 L518.3 536 L520.3 535.7 L522.3 535.4 L524.3 535.1 L526.3 534.7 L528.3 534.4 L530.3 534 L532.3 533.7 L534.3 533.4 L536.3 533.1 L538.4 532.8 L540.4 532.5 L542.4 532.1 L544.4 531.7 L546.4 531.1 L548.4 530.5 L550.4 529.8 L552.4 529.1 L554.4 528.4 L556.4 527.7 L558.4 527.1 L560.4 526.4 L562.4 525.8 L564.4 525.1 L566.4 524.5 L568.4 523.9 L570.4 523.3 L572.4 522.6 L574.4 522 L576.4 521.4 L578.4 520.9 L580.4 520.5 L582.4 520.2 L584.4 519.8 L586.4 519.5 L588.4 519.3 L590.4 519.1 L592.4 519 L594.4 519 L596.4 519 L598.4 519 L600.4 519 L602.4 519 L604.4 519 L606.4 519 L608.4 518.7 L610.4 518.2 L612.4 517.7 L614.4 517.1 L616.4 516.3 L618.4 515.4 L620.4 514.3 L622.4 513.3 L624.4 512.3 L626.4 511.1 L628.4 510 L630.4 508.7 L632.4 507.4 L634.4 506 L636.4 504.4 L638.4 502.8 L640.4 501.1 L642.4 499.5 L644.4 497.9 L646.4 496.3 L648.4 494.7 L650.4 493.1 L652.4 491.5 L654.4 489.9 L656.4 488.2 L658.4 486.5 L660.4 484.8 L662.4 483.1 L664.4 481.3 L666.4 479.5 L668.4 477.6 L670.4 475.5 L672.4 473.3 L674.4 471.1 L676.4 468.8 L678.4 466.6 L680.4 464.6 L682.4 462.6 L684.4 460.6 L686.4 458.7 L688.5 456.9 L690.5 455.1 L692.5 453.4 L694.5 451.8 L696.5 450.3 L698.5 448.9 L700.5 447.4 L702.5 446.1 L704.5 444.7 L706.5 443.4 L708.5 442 L710.5 440.7 L712.5 439.4 L714.5 438.2 L716.5 436.9 L718.5 435.7 L720.5 434.5 L722.5 433.4 L724.5 432.2 L726.5 431.1 L728.5 430.1 L730.5 429 L732.5 428 L734.5 426.9 L736.5 425.9 L738.5 425 L740.5 424 L742.5 423.2 L744.5 422.4 L746.5 421.7 L748.5 421 L750.5 420.3 L752.5 419.7 L754.5 419.2 L756.5 418.8 L758.5 418.4 L760.5 418.1 L762.5 417.7 L764.5 417.5 L766.5 417.2 L768.5 416.9 L770.5 416.7 L772.5 416.5 L774.5 416.3 L776.5 416.2 L778.5 416 L780.5 415.8 L782.5 415.6 L784.5 415.3 L786.5 415 L788.5 414.7 L790.5 414.4 L792.5 414.1 L794.5 413.8 L796.5 413.5 L798.5 413.2 L800.5 412.9 L802.5 412.5 L804.5 412.2 L806.5 411.8 L808.5 411.3 L810.5 410.8 L812.5 410.2 L814.5 409.7 L816.5 409.3 L818.5 408.9 L820.5 408.7 L822.5 408.4 L824.5 408.2 L826.5 408 L828.5 407.8 L830.5 407.5 L832.5 407.1 L834.5 406.6 L836.5 406 L838.6 405.3 L840.6 404.7 L842.6 404.1 L844.6 403.6 L846.6 403 L848.6 402.4 L850.6 401.9 L852.6 401.4 L854.6 401.1 L856.6 400.9 L858.6 400.8 L860.6 400.7 L862.6 400.6 L864.6 400.5 L866.6 400.5 L868.6 400.5 L870.6 400.6 L872.6 400.8 L874.6 401.1 L876.6 401.4 L878.6 401.7 L880.6 402 L882.6 402.3 L884.6 402.6 L886.6 402.9 L888.6 403.2 L890.6 403.5 L892.6 403.9 L894.6 404.4 L896.6 404.9 L898.6 405.5 L900.6 406.1 L902.6 406.7 L904.6 407.3 L906.6 407.8 L908.6 408.3 L910.6 408.7 L912.6 409.2 L914.6 409.6 L916.6 410.1 L918.6 410.7 L920.6 411.3 L922.6 411.9 L924.6 412.6 L926.6 413.2 L928.6 413.8 L930.6 414.4 L932.6 415.1 L934.6 415.7 L936.6 416.3 L938.6 417 L940.6 417.8 L942.6 418.5 L944.6 419.3 L946.6 420.1 L948.6 420.9 L950.6 421.8 L952.6 422.8 L954.6 423.8 L956.6 424.8 L958.6 425.9 L960.6 427.1 L962.6 428.4 L964.6 429.9 L966.6 431.6 L968.6 433.5 L970.6 435.5 L972.6 437.6 L974.6 439.7 L976.6 441.6 L978.6 443.6 L980.6 445.5 L982.6 447.5 L984.6 449.4 L986.6 451.4 L988.7 453.3 L990.7 455.3 L992.7 457.2 L994.7 459.1 L996.7 461 L998.7 462.9 L1000.7 464.9 L1002.7 466.8 L1004.7 468.7 L1006.7 470.6 L1008.7 472.5 L1010.7 474.3 L1012.7 476.2 L1014.7 478.1 L1016.7 480 L1018.7 482 L1020.7 483.9 L1022.7 485.8 L1024.7 487.7 L1026.7 489.5 L1028.7 491.2 L1030.7 492.8 L1032.7 494.2 L1034.7 495.5 L1036.7 496.8 L1038.7 498 L1040.7 499.2 L1042.7 500.3 L1044.7 501.5 L1046.7 502.7 L1048.7 503.9 L1050.7 505.3 L1052.7 506.7 L1054.7 508.1 L1056.7 509.6 L1058.7 511.2 L1060.7 512.8 L1062.7 514.7 L1064.7 516.8 L1066.7 519.4 L1068.7 522.2 L1070.7 525.3 L1072.7 528.3 L1074.7 531.3 L1076.7 533.9 L1078.7 536.4 L1080.7 538.9 L1082.7 541.3 L1084.7 543.6 L1086.7 545.9 L1088.7 548.3 L1090.7 550.6 L1092.7 552.9 L1094.7 555.2 L1096.7 557.4 L1098.7 559.6 L1100.7 561.7 L1102.7 563.8 L1104.7 565.8 L1106.7 567.8 L1108.7 569.8 L1110.7 571.6 L1112.7 573.4 L1114.7 575 L1116.7 576.6 L1118.7 578.1 L1120.7 579.5 L1122.7 580.9 L1124.7 582.2 L1126.7 583.5 L1128.7 584.7 L1130.7 586 L1132.7 587.1 L1134.7 588.2 L1136.7 589.2 L1138.7 590.1 L1140.8 591 L1142.8 591.8 L1144.8 592.6 L1146.8 593.3 L1148.8 593.8 L1150.8 594 L1152.8 593.9 L1154.8 593.7 L1156.8 593.4 L1158.8 593.1 L1160.8 592.6 L1162.8 592.2 L1164.8 591.7 L1166.8 591.1 L1168.8 590.4 L1170.8 589.6 L1172.8 588.7 L1174.8 587.7 L1176.8 586.5 L1178.8 585.1 L1180.8 583.3 L1182.8 581.3 L1184.8 579.3 L1186.8 577.2 L1188.8 575.2 L1190.8 573.3 L1192.8 571.4 L1194.8 569.4 L1196.8 567.4 L1198.8 565.4 L1200.8 563.2 L1202.8 561 L1204.8 558.7 L1206.8 556.4 L1208.8 553.9 L1210.8 551.4 L1212.8 548.9 L1214.8 546.3 L1216.8 543.7 L1218.8 541 L1220.8 538.2 L1222.8 535.3 L1224.8 532.4 L1226.8 529.2 L1228.8 525.9 L1230.8 522.4 L1232.8 518.8 L1234.8 515.1 L1236.8 511.3 L1238.8 507.4 L1240.8 503.4 L1242.8 499.2 L1244.8 495 L1246.8 490.7 L1248.8 486.3 L1250.8 481.9 L1252.8 477.5 L1254.8 473.1 L1256.8 468.7 L1258.8 464.2 L1260.8 459.7 L1262.8 455.2 L1264.8 450.6 L1266.8 446.1 L1268.8 441.5 L1270.8 436.9 L1272.8 432.3 L1274.8 427.7 L1276.8 423.1 L1278.8 418.5 L1280.8 413.8 L1282.8 409.1 L1284.8 404.5 L1286.8 399.8 L1288.8 395.2 L1290.9 390.7 L1292.9 386.1 L1294.9 381.4 L1296.9 376.6 L1298.9 371.6 L1300.9 366.5 L1302.9 361.2 L1304.9 355.8 L1306.9 350.5 L1308.9 345 L1310.9 339.6 L1312.9 335 L1314.9 330.8 L1316.9 326.9 L1318.9 323.1 L1320.9 319.4 L1322.9 315.6 L1324.9 311.9 L1326.9 308.2 L1328.9 304.6 L1330.9 301.1 L1332.9 297.6 L1334.9 294.3 L1336.9 291 L1338.9 287.7 L1340.9 284.5 L1342.9 281.2 L1344.9 277.9 L1346.9 274.5 L1348.9 271.1 L1350.9 267.8 L1352.9 264.4 L1354.9 261 L1356.9 257.6 L1358.9 254.1 L1360.9 250.7 L1362.9 247.2 L1364.9 243.7" fill="none" stroke="#5b9cf6" stroke-width="2.1"/>
<g shape-rendering="crispEdges">
<rect x="11" y="472" width="1" height="10" fill="#ffffff"/>
<rect x="10" y="473" width="3" height="9" fill="#ffffff"/>
<rect x="16" y="473" width="1" height="23" fill="#ffffff"/>
<rect x="15" y="474" width="3" height="19" fill="#ffffff"/>
<rect x="21" y="473" width="1" height="31" fill="#ffffff"/>
<rect x="20" y="492" width="3" height="10" fill="#ffffff"/>
<rect x="26" y="497" width="1" height="21" fill="#ffffff"/>
<rect x="25" y="499" width="3" height="15" fill="#ffffff"/>
<rect x="31" y="498" width="1" height="19" fill="#32e23e"/>
<rect x="30" y="506" width="3" height="8" fill="#32e23e"/>
<rect x="36" y="483" width="1" height="29" fill="#32e23e"/>
<rect x="35" y="494" width="3" height="13" fill="#32e23e"/>
<rect x="41" y="487" width="1" height="13" fill="#32e23e"/>
<rect x="40" y="493" width="3" height="6" fill="#32e23e"/>
<rect x="46" y="488" width="1" height="26" fill="#ffffff"/>
<rect x="45" y="493" width="3" height="19" fill="#ffffff"/>
<rect x="50" y="399" width="1" height="125" fill="#32e23e"/>
<rect x="49" y="420" width="3" height="93" fill="#32e23e"/>
<rect x="55" y="397" width="1" height="30" fill="#32e23e"/>
<rect x="54" y="412" width="3" height="10" fill="#32e23e"/>
<rect x="60" y="402" width="1" height="15" fill="#32e23e"/>
<rect x="59" y="407" width="3" height="9" fill="#32e23e"/>
<rect x="65" y="404" width="1" height="36" fill="#ffffff"/>
<rect x="64" y="407" width="3" height="32" fill="#ffffff"/>
<rect x="70" y="428" width="1" height="10" fill="#32e23e"/>
<rect x="69" y="432" width="3" height="5" fill="#32e23e"/>
<rect x="75" y="432" width="1" height="14" fill="#ffffff"/>
<rect x="74" y="433" width="3" height="11" fill="#ffffff"/>
<rect x="80" y="439" width="1" height="20" fill="#ffffff"/>
<rect x="79" y="442" width="3" height="14" fill="#ffffff"/>
<rect x="85" y="447" width="1" height="10" fill="#32e23e"/>
<rect x="84" y="448" width="3" height="8" fill="#32e23e"/>
<rect x="90" y="440" width="1" height="10" fill="#32e23e"/>
<rect x="89" y="442" width="3" height="7" fill="#32e23e"/>
<rect x="95" y="436" width="1" height="16" fill="#ffffff"/>
<rect x="94" y="442" width="3" height="8" fill="#ffffff"/>
<rect x="100" y="444" width="1" height="10" fill="#ffffff"/>
<rect x="99" y="449" width="3" height="5" fill="#ffffff"/>
<rect x="105" y="449" width="1" height="10" fill="#ffffff"/>
<rect x="104" y="453" width="3" height="5" fill="#ffffff"/>
<rect x="110" y="452" width="1" height="14" fill="#ffffff"/>
<rect x="109" y="456" width="3" height="9" fill="#ffffff"/>
<rect x="114" y="452" width="1" height="98" fill="#ffffff"/>
<rect x="113" y="464" width="3" height="40" fill="#ffffff"/>
<rect x="119" y="482" width="1" height="42" fill="#32e23e"/>
<rect x="118" y="484" width="3" height="22" fill="#32e23e"/>
<rect x="124" y="477" width="1" height="36" fill="#ffffff"/>
<rect x="123" y="484" width="3" height="14" fill="#ffffff"/>
<rect x="129" y="494" width="1" height="40" fill="#ffffff"/>
<rect x="128" y="497" width="3" height="33" fill="#ffffff"/>
<rect x="134" y="520" width="1" height="22" fill="#ffffff"/>
<rect x="133" y="528" width="3" height="9" fill="#ffffff"/>
<rect x="139" y="504" width="1" height="45" fill="#32e23e"/>
<rect x="138" y="513" width="3" height="24" fill="#32e23e"/>
<rect x="144" y="497" width="1" height="51" fill="#ffffff"/>
<rect x="143" y="513" width="3" height="35" fill="#ffffff"/>
<rect x="149" y="546" width="1" height="33" fill="#ffffff"/>
<rect x="148" y="547" width="3" height="13" fill="#ffffff"/>
<rect x="154" y="560" width="1" height="32" fill="#ffffff"/>
<rect x="153" y="560" width="3" height="6" fill="#ffffff"/>
<rect x="159" y="550" width="1" height="18" fill="#32e23e"/>
<rect x="158" y="557" width="3" height="7" fill="#32e23e"/>
<rect x="164" y="552" width="1" height="17" fill="#ffffff"/>
<rect x="163" y="556" width="3" height="11" fill="#ffffff"/>
<rect x="169" y="544" width="1" height="32" fill="#ffffff"/>
<rect x="168" y="566" width="3" height="6" fill="#ffffff"/>
<rect x="174" y="537" width="1" height="40" fill="#32e23e"/>
<rect x="173" y="538" width="3" height="34" fill="#32e23e"/>
<rect x="178" y="510" width="1" height="33" fill="#32e23e"/>
<rect x="177" y="522" width="3" height="17" fill="#32e23e"/>
<rect x="183" y="522" width="1" height="20" fill="#ffffff"/>
<rect x="182" y="523" width="3" height="10" fill="#ffffff"/>
<rect x="188" y="524" width="1" height="24" fill="#ffffff"/>
<rect x="187" y="530" width="3" height="17" fill="#ffffff"/>
<rect x="193" y="532" width="1" height="20" fill="#32e23e"/>
<rect x="192" y="533" width="3" height="14" fill="#32e23e"/>
<rect x="198" y="504" width="1" height="32" fill="#32e23e"/>
<rect x="197" y="518" width="3" height="15" fill="#32e23e"/>
<rect x="203" y="503" width="1" height="25" fill="#32e23e"/>
<rect x="202" y="516" width="3" height="4" fill="#32e23e"/>
<rect x="208" y="508" width="1" height="34" fill="#ffffff"/>
<rect x="207" y="516" width="3" height="20" fill="#ffffff"/>
<rect x="213" y="517" width="1" height="27" fill="#32e23e"/>
<rect x="212" y="518" width="3" height="19" fill="#32e23e"/>
<rect x="218" y="487" width="1" height="30" fill="#32e23e"/>
<rect x="217" y="493" width="3" height="23" fill="#32e23e"/>
<rect x="223" y="488" width="1" height="11" fill="#ffffff"/>
<rect x="222" y="492" width="3" height="6" fill="#ffffff"/>
<rect x="228" y="485" width="1" height="24" fill="#ffffff"/>
<rect x="227" y="497" width="3" height="6" fill="#ffffff"/>
<rect x="233" y="492" width="1" height="30" fill="#ffffff"/>
<rect x="232" y="503" width="3" height="17" fill="#ffffff"/>
<rect x="237" y="504" width="1" height="18" fill="#32e23e"/>
<rect x="236" y="506" width="3" height="14" fill="#32e23e"/>
<rect x="242" y="503" width="1" height="30" fill="#ffffff"/>
<rect x="241" y="505" width="3" height="21" fill="#ffffff"/>
<rect x="247" y="520" width="1" height="46" fill="#ffffff"/>
<rect x="246" y="526" width="3" height="38" fill="#ffffff"/>
<rect x="252" y="557" width="1" height="20" fill="#32e23e"/>
<rect x="251" y="562" width="3" height="2" fill="#32e23e"/>
<rect x="257" y="529" width="1" height="77" fill="#ffffff"/>
<rect x="256" y="562" width="3" height="38" fill="#ffffff"/>
<rect x="262" y="589" width="1" height="20" fill="#ffffff"/>
<rect x="261" y="599" width="3" height="5" fill="#ffffff"/>
<rect x="267" y="596" width="1" height="24" fill="#32e23e"/>
<rect x="266" y="598" width="3" height="6" fill="#32e23e"/>
<rect x="272" y="597" width="1" height="25" fill="#32e23e"/>
<rect x="271" y="598" width="3" height="2" fill="#32e23e"/>
<rect x="277" y="592" width="1" height="14" fill="#32e23e"/>
<rect x="276" y="596" width="3" height="3" fill="#32e23e"/>
<rect x="282" y="590" width="1" height="8" fill="#32e23e"/>
<rect x="281" y="592" width="3" height="5" fill="#32e23e"/>
<rect x="287" y="587" width="1" height="16" fill="#32e23e"/>
<rect x="286" y="588" width="3" height="5" fill="#32e23e"/>
<rect x="292" y="587" width="1" height="7" fill="#ffffff"/>
<rect x="291" y="588" width="3" height="2" fill="#ffffff"/>
<rect x="297" y="589" width="1" height="9" fill="#ffffff"/>
<rect x="296" y="590" width="3" height="1" fill="#ffffff"/>
<rect x="301" y="574" width="1" height="19" fill="#32e23e"/>
<rect x="300" y="580" width="3" height="10" fill="#32e23e"/>
<rect x="306" y="579" width="1" height="17" fill="#ffffff"/>
<rect x="305" y="580" width="3" height="12" fill="#ffffff"/>
<rect x="311" y="583" width="1" height="19" fill="#ffffff"/>
<rect x="310" y="590" width="3" height="10" fill="#ffffff"/>
<rect x="316" y="589" width="1" height="17" fill="#32e23e"/>
<rect x="315" y="592" width="3" height="6" fill="#32e23e"/>
<rect x="321" y="579" width="1" height="15" fill="#32e23e"/>
<rect x="320" y="587" width="3" height="6" fill="#32e23e"/>
<rect x="326" y="580" width="1" height="27" fill="#ffffff"/>
<rect x="325" y="587" width="3" height="16" fill="#ffffff"/>
<rect x="331" y="598" width="1" height="23" fill="#ffffff"/>
<rect x="330" y="602" width="3" height="15" fill="#ffffff"/>
<rect x="336" y="576" width="1" height="49" fill="#32e23e"/>
<rect x="335" y="576" width="3" height="41" fill="#32e23e"/>
<rect x="341" y="565" width="1" height="39" fill="#ffffff"/>
<rect x="340" y="576" width="3" height="15" fill="#ffffff"/>
<rect x="346" y="574" width="1" height="20" fill="#32e23e"/>
<rect x="345" y="588" width="3" height="4" fill="#32e23e"/>
<rect x="351" y="578" width="1" height="21" fill="#32e23e"/>
<rect x="350" y="579" width="3" height="11" fill="#32e23e"/>
<rect x="356" y="576" width="1" height="44" fill="#32e23e"/>
<rect x="355" y="579" width="3" height="3" fill="#32e23e"/>
<rect x="361" y="549" width="1" height="33" fill="#32e23e"/>
<rect x="360" y="556" width="3" height="24" fill="#32e23e"/>
<rect x="365" y="548" width="1" height="16" fill="#ffffff"/>
<rect x="364" y="556" width="3" height="2" fill="#ffffff"/>
<rect x="370" y="548" width="1" height="22" fill="#ffffff"/>
<rect x="369" y="557" width="3" height="12" fill="#ffffff"/>
<rect x="375" y="523" width="1" height="76" fill="#32e23e"/>
<rect x="374" y="544" width="3" height="26" fill="#32e23e"/>
<rect x="380" y="536" width="1" height="17" fill="#ffffff"/>
<rect x="379" y="544" width="3" height="2" fill="#ffffff"/>
<rect x="385" y="528" width="1" height="19" fill="#32e23e"/>
<rect x="384" y="536" width="3" height="10" fill="#32e23e"/>
<rect x="390" y="523" width="1" height="23" fill="#ffffff"/>
<rect x="389" y="535" width="3" height="4" fill="#ffffff"/>
<rect x="395" y="536" width="1" height="14" fill="#32e23e"/>
<rect x="394" y="538" width="3" height="1" fill="#32e23e"/>
<rect x="400" y="524" width="1" height="16" fill="#32e23e"/>
<rect x="399" y="529" width="3" height="9" fill="#32e23e"/>
<rect x="405" y="506" width="1" height="33" fill="#32e23e"/>
<rect x="404" y="513" width="3" height="17" fill="#32e23e"/>
<rect x="410" y="506" width="1" height="12" fill="#ffffff"/>
<rect x="409" y="513" width="3" height="1" fill="#ffffff"/>
<rect x="415" y="512" width="1" height="15" fill="#ffffff"/>
<rect x="414" y="514" width="3" height="10" fill="#ffffff"/>
<rect x="420" y="514" width="1" height="24" fill="#ffffff"/>
<rect x="419" y="524" width="3" height="14" fill="#ffffff"/>
<rect x="425" y="533" width="1" height="24" fill="#ffffff"/>
<rect x="424" y="536" width="3" height="17" fill="#ffffff"/>
<rect x="429" y="537" width="1" height="17" fill="#32e23e"/>
<rect x="428" y="545" width="3" height="8" fill="#32e23e"/>
<rect x="434" y="538" width="1" height="40" fill="#ffffff"/>
<rect x="433" y="544" width="3" height="32" fill="#ffffff"/>
<rect x="439" y="558" width="1" height="20" fill="#32e23e"/>
<rect x="438" y="567" width="3" height="9" fill="#32e23e"/>
<rect x="444" y="523" width="1" height="46" fill="#32e23e"/>
<rect x="443" y="548" width="3" height="20" fill="#32e23e"/>
<rect x="449" y="527" width="1" height="23" fill="#32e23e"/>
<rect x="448" y="533" width="3" height="15" fill="#32e23e"/>
<rect x="454" y="495" width="1" height="42" fill="#32e23e"/>
<rect x="453" y="498" width="3" height="35" fill="#32e23e"/>
<rect x="459" y="494" width="1" height="22" fill="#ffffff"/>
<rect x="458" y="497" width="3" height="13" fill="#ffffff"/>
<rect x="464" y="487" width="1" height="70" fill="#ffffff"/>
<rect x="463" y="510" width="3" height="38" fill="#ffffff"/>
<rect x="469" y="526" width="1" height="31" fill="#32e23e"/>
<rect x="468" y="527" width="3" height="22" fill="#32e23e"/>
<rect x="474" y="524" width="1" height="31" fill="#ffffff"/>
<rect x="473" y="527" width="3" height="22" fill="#ffffff"/>
<rect x="479" y="533" width="1" height="17" fill="#32e23e"/>
<rect x="478" y="538" width="3" height="11" fill="#32e23e"/>
<rect x="484" y="538" width="1" height="9" fill="#ffffff"/>
<rect x="483" y="538" width="3" height="7" fill="#ffffff"/>
<rect x="488" y="541" width="1" height="7" fill="#ffffff"/>
<rect x="487" y="543" width="3" height="4" fill="#ffffff"/>
<rect x="493" y="541" width="1" height="14" fill="#ffffff"/>
<rect x="492" y="545" width="3" height="9" fill="#ffffff"/>
<rect x="498" y="553" width="1" height="11" fill="#ffffff"/>
<rect x="497" y="554" width="3" height="9" fill="#ffffff"/>
<rect x="503" y="556" width="1" height="7" fill="#32e23e"/>
<rect x="502" y="557" width="3" height="6" fill="#32e23e"/>
<rect x="508" y="546" width="1" height="13" fill="#32e23e"/>
<rect x="507" y="548" width="3" height="11" fill="#32e23e"/>
<rect x="513" y="542" width="1" height="10" fill="#32e23e"/>
<rect x="512" y="545" width="3" height="5" fill="#32e23e"/>
<rect x="518" y="532" width="1" height="15" fill="#32e23e"/>
<rect x="517" y="534" width="3" height="13" fill="#32e23e"/>
<rect x="523" y="530" width="1" height="9" fill="#32e23e"/>
<rect x="522" y="533" width="3" height="2" fill="#32e23e"/>
<rect x="528" y="532" width="1" height="12" fill="#ffffff"/>
<rect x="527" y="533" width="3" height="2" fill="#ffffff"/>
<rect x="533" y="527" width="1" height="13" fill="#ffffff"/>
<rect x="532" y="535" width="3" height="3" fill="#ffffff"/>
<rect x="538" y="534" width="1" height="15" fill="#ffffff"/>
<rect x="537" y="537" width="3" height="3" fill="#ffffff"/>
<rect x="543" y="527" width="1" height="15" fill="#32e23e"/>
<rect x="542" y="533" width="3" height="7" fill="#32e23e"/>
<rect x="548" y="514" width="1" height="21" fill="#32e23e"/>
<rect x="547" y="517" width="3" height="14" fill="#32e23e"/>
<rect x="552" y="497" width="1" height="22" fill="#32e23e"/>
<rect x="551" y="502" width="3" height="16" fill="#32e23e"/>
<rect x="557" y="502" width="1" height="17" fill="#ffffff"/>
<rect x="556" y="502" width="3" height="15" fill="#ffffff"/>
<rect x="562" y="506" width="1" height="13" fill="#ffffff"/>
<rect x="561" y="514" width="3" height="4" fill="#ffffff"/>
<rect x="567" y="514" width="1" height="24" fill="#ffffff"/>
<rect x="566" y="516" width="3" height="10" fill="#ffffff"/>
<rect x="572" y="489" width="1" height="37" fill="#32e23e"/>
<rect x="571" y="496" width="3" height="29" fill="#32e23e"/>
<rect x="577" y="490" width="1" height="18" fill="#ffffff"/>
<rect x="576" y="496" width="3" height="11" fill="#ffffff"/>
<rect x="582" y="498" width="1" height="48" fill="#ffffff"/>
<rect x="581" y="507" width="3" height="37" fill="#ffffff"/>
<rect x="587" y="532" width="1" height="14" fill="#32e23e"/>
<rect x="586" y="534" width="3" height="10" fill="#32e23e"/>
<rect x="592" y="525" width="1" height="14" fill="#32e23e"/>
<rect x="591" y="528" width="3" height="8" fill="#32e23e"/>
<rect x="597" y="527" width="1" height="15" fill="#32e23e"/>
<rect x="596" y="528" width="3" height="1" fill="#32e23e"/>
<rect x="602" y="504" width="1" height="28" fill="#32e23e"/>
<rect x="601" y="506" width="3" height="22" fill="#32e23e"/>
<rect x="607" y="499" width="1" height="15" fill="#ffffff"/>
<rect x="606" y="506" width="3" height="6" fill="#ffffff"/>
<rect x="612" y="466" width="1" height="48" fill="#32e23e"/>
<rect x="611" y="477" width="3" height="36" fill="#32e23e"/>
<rect x="616" y="471" width="1" height="21" fill="#ffffff"/>
<rect x="615" y="477" width="3" height="7" fill="#ffffff"/>
<rect x="621" y="473" width="1" height="11" fill="#32e23e"/>
<rect x="620" y="474" width="3" height="10" fill="#32e23e"/>
<rect x="626" y="463" width="1" height="14" fill="#32e23e"/>
<rect x="625" y="464" width="3" height="12" fill="#32e23e"/>
<rect x="631" y="463" width="1" height="11" fill="#ffffff"/>
<rect x="630" y="464" width="3" height="9" fill="#ffffff"/>
<rect x="636" y="468" width="1" height="10" fill="#ffffff"/>
<rect x="635" y="472" width="3" height="2" fill="#ffffff"/>
<rect x="641" y="457" width="1" height="29" fill="#32e23e"/>
<rect x="640" y="469" width="3" height="5" fill="#32e23e"/>
<rect x="646" y="458" width="1" height="14" fill="#32e23e"/>
<rect x="645" y="463" width="3" height="7" fill="#32e23e"/>
<rect x="651" y="440" width="1" height="27" fill="#32e23e"/>
<rect x="650" y="440" width="3" height="24" fill="#32e23e"/>
<rect x="656" y="421" width="1" height="28" fill="#ffffff"/>
<rect x="655" y="440" width="3" height="6" fill="#ffffff"/>
<rect x="661" y="437" width="1" height="13" fill="#ffffff"/>
<rect x="660" y="446" width="3" height="4" fill="#ffffff"/>
<rect x="666" y="444" width="1" height="9" fill="#ffffff"/>
<rect x="665" y="448" width="3" height="5" fill="#ffffff"/>
<rect x="671" y="440" width="1" height="15" fill="#32e23e"/>
<rect x="670" y="448" width="3" height="5" fill="#32e23e"/>
<rect x="676" y="414" width="1" height="36" fill="#32e23e"/>
<rect x="675" y="414" width="3" height="35" fill="#32e23e"/>
<rect x="680" y="414" width="1" height="19" fill="#ffffff"/>
<rect x="679" y="414" width="3" height="14" fill="#ffffff"/>
<rect x="685" y="423" width="1" height="14" fill="#ffffff"/>
<rect x="684" y="427" width="3" height="3" fill="#ffffff"/>
<rect x="690" y="429" width="1" height="8" fill="#ffffff"/>
<rect x="689" y="430" width="3" height="4" fill="#ffffff"/>
<rect x="695" y="424" width="1" height="10" fill="#32e23e"/>
<rect x="694" y="429" width="3" height="5" fill="#32e23e"/>
<rect x="700" y="427" width="1" height="11" fill="#ffffff"/>
<rect x="699" y="429" width="3" height="5" fill="#ffffff"/>
<rect x="705" y="432" width="1" height="16" fill="#32e23e"/>
<rect x="704" y="432" width="3" height="2" fill="#32e23e"/>
<rect x="710" y="428" width="1" height="6" fill="#32e23e"/>
<rect x="709" y="430" width="3" height="3" fill="#32e23e"/>
<rect x="715" y="426" width="1" height="11" fill="#ffffff"/>
<rect x="714" y="430" width="3" height="6" fill="#ffffff"/>
<rect x="720" y="429" width="1" height="11" fill="#32e23e"/>
<rect x="719" y="432" width="3" height="5" fill="#32e23e"/>
<rect x="725" y="424" width="1" height="9" fill="#ffffff"/>
<rect x="724" y="429" width="3" height="3" fill="#ffffff"/>
<rect x="730" y="432" width="1" height="16" fill="#ffffff"/>
<rect x="729" y="432" width="3" height="16" fill="#ffffff"/>
<rect x="735" y="436" width="1" height="12" fill="#32e23e"/>
<rect x="734" y="436" width="3" height="12" fill="#32e23e"/>
<rect x="739" y="427" width="1" height="20" fill="#ffffff"/>
<rect x="738" y="436" width="3" height="10" fill="#ffffff"/>
<rect x="744" y="440" width="1" height="16" fill="#32e23e"/>
<rect x="743" y="441" width="3" height="5" fill="#32e23e"/>
<rect x="749" y="412" width="1" height="31" fill="#32e23e"/>
<rect x="748" y="432" width="3" height="10" fill="#32e23e"/>
<rect x="754" y="432" width="1" height="27" fill="#ffffff"/>
<rect x="753" y="432" width="3" height="18" fill="#ffffff"/>
<rect x="759" y="449" width="1" height="15" fill="#ffffff"/>
<rect x="758" y="449" width="3" height="7" fill="#ffffff"/>
<rect x="764" y="438" width="1" height="22" fill="#32e23e"/>
<rect x="763" y="448" width="3" height="7" fill="#32e23e"/>
<rect x="769" y="438" width="1" height="10" fill="#32e23e"/>
<rect x="768" y="442" width="3" height="4" fill="#32e23e"/>
<rect x="774" y="440" width="1" height="12" fill="#ffffff"/>
<rect x="773" y="442" width="3" height="3" fill="#ffffff"/>
<rect x="779" y="427" width="1" height="25" fill="#32e23e"/>
<rect x="778" y="432" width="3" height="13" fill="#32e23e"/>
<rect x="784" y="430" width="1" height="16" fill="#ffffff"/>
<rect x="783" y="432" width="3" height="12" fill="#ffffff"/>
<rect x="789" y="430" width="1" height="27" fill="#32e23e"/>
<rect x="788" y="431" width="3" height="13" fill="#32e23e"/>
<rect x="794" y="408" width="1" height="24" fill="#32e23e"/>
<rect x="793" y="410" width="3" height="22" fill="#32e23e"/>
<rect x="799" y="406" width="1" height="8" fill="#ffffff"/>
<rect x="798" y="410" width="3" height="2" fill="#ffffff"/>
<rect x="803" y="404" width="1" height="18" fill="#ffffff"/>
<rect x="802" y="410" width="3" height="11" fill="#ffffff"/>
<rect x="808" y="399" width="1" height="25" fill="#32e23e"/>
<rect x="807" y="400" width="3" height="20" fill="#32e23e"/>
<rect x="813" y="400" width="1" height="24" fill="#ffffff"/>
<rect x="812" y="402" width="3" height="22" fill="#ffffff"/>
<rect x="818" y="417" width="1" height="23" fill="#ffffff"/>
<rect x="817" y="422" width="3" height="10" fill="#ffffff"/>
<rect x="823" y="422" width="1" height="34" fill="#ffffff"/>
<rect x="822" y="432" width="3" height="6" fill="#ffffff"/>
<rect x="828" y="407" width="1" height="36" fill="#32e23e"/>
<rect x="827" y="418" width="3" height="20" fill="#32e23e"/>
<rect x="833" y="386" width="1" height="41" fill="#32e23e"/>
<rect x="832" y="392" width="3" height="27" fill="#32e23e"/>
<rect x="838" y="388" width="1" height="20" fill="#ffffff"/>
<rect x="837" y="392" width="3" height="11" fill="#ffffff"/>
<rect x="843" y="397" width="1" height="10" fill="#ffffff"/>
<rect x="842" y="403" width="3" height="1" fill="#ffffff"/>
<rect x="848" y="386" width="1" height="17" fill="#32e23e"/>
<rect x="847" y="392" width="3" height="11" fill="#32e23e"/>
<rect x="853" y="386" width="1" height="13" fill="#ffffff"/>
<rect x="852" y="392" width="3" height="5" fill="#ffffff"/>
<rect x="858" y="392" width="1" height="21" fill="#ffffff"/>
<rect x="857" y="396" width="3" height="9" fill="#ffffff"/>
<rect x="863" y="396" width="1" height="13" fill="#ffffff"/>
<rect x="862" y="404" width="3" height="4" fill="#ffffff"/>
<rect x="867" y="403" width="1" height="11" fill="#ffffff"/>
<rect x="866" y="406" width="3" height="4" fill="#ffffff"/>
<rect x="872" y="402" width="1" height="18" fill="#ffffff"/>
<rect x="871" y="404" width="3" height="16" fill="#ffffff"/>
<rect x="877" y="418" width="1" height="24" fill="#ffffff"/>
<rect x="876" y="419" width="3" height="14" fill="#ffffff"/>
<rect x="882" y="426" width="1" height="23" fill="#ffffff"/>
<rect x="881" y="432" width="3" height="17" fill="#ffffff"/>
<rect x="887" y="437" width="1" height="12" fill="#32e23e"/>
<rect x="886" y="437" width="3" height="12" fill="#32e23e"/>
<rect x="892" y="435" width="1" height="7" fill="#ffffff"/>
<rect x="891" y="436" width="3" height="5" fill="#ffffff"/>
<rect x="897" y="428" width="1" height="14" fill="#32e23e"/>
<rect x="896" y="429" width="3" height="12" fill="#32e23e"/>
<rect x="902" y="429" width="1" height="7" fill="#ffffff"/>
<rect x="901" y="430" width="3" height="1" fill="#ffffff"/>
<rect x="907" y="426" width="1" height="6" fill="#32e23e"/>
<rect x="906" y="428" width="3" height="2" fill="#32e23e"/>
<rect x="912" y="426" width="1" height="11" fill="#ffffff"/>
<rect x="911" y="428" width="3" height="8" fill="#ffffff"/>
<rect x="917" y="430" width="1" height="8" fill="#ffffff"/>
<rect x="916" y="435" width="3" height="1" fill="#ffffff"/>
<rect x="922" y="434" width="1" height="6" fill="#ffffff"/>
<rect x="921" y="436" width="3" height="1" fill="#ffffff"/>
<rect x="927" y="432" width="1" height="4" fill="#32e23e"/>
<rect x="926" y="432" width="3" height="3" fill="#32e23e"/>
<rect x="931" y="432" width="1" height="11" fill="#ffffff"/>
<rect x="930" y="432" width="3" height="6" fill="#ffffff"/>
<rect x="936" y="434" width="1" height="6" fill="#ffffff"/>
<rect x="935" y="437" width="3" height="2" fill="#ffffff"/>
<rect x="941" y="436" width="1" height="10" fill="#ffffff"/>
<rect x="940" y="438" width="3" height="2" fill="#ffffff"/>
<rect x="946" y="438" width="1" height="8" fill="#ffffff"/>
<rect x="945" y="439" width="3" height="7" fill="#ffffff"/>
<rect x="951" y="445" width="1" height="24" fill="#ffffff"/>
<rect x="950" y="445" width="3" height="14" fill="#ffffff"/>
<rect x="956" y="457" width="1" height="69" fill="#ffffff"/>
<rect x="955" y="458" width="3" height="50" fill="#ffffff"/>
<rect x="961" y="496" width="1" height="18" fill="#32e23e"/>
<rect x="960" y="498" width="3" height="10" fill="#32e23e"/>
<rect x="966" y="486" width="1" height="22" fill="#ffffff"/>
<rect x="965" y="498" width="3" height="3" fill="#ffffff"/>
<rect x="971" y="498" width="1" height="21" fill="#ffffff"/>
<rect x="970" y="499" width="3" height="17" fill="#ffffff"/>
<rect x="976" y="496" width="1" height="22" fill="#32e23e"/>
<rect x="975" y="503" width="3" height="13" fill="#32e23e"/>
<rect x="981" y="499" width="1" height="30" fill="#ffffff"/>
<rect x="980" y="503" width="3" height="7" fill="#ffffff"/>
<rect x="986" y="492" width="1" height="30" fill="#32e23e"/>
<rect x="985" y="494" width="3" height="16" fill="#32e23e"/>
<rect x="990" y="488" width="1" height="14" fill="#ffffff"/>
<rect x="989" y="494" width="3" height="4" fill="#ffffff"/>
<rect x="995" y="489" width="1" height="17" fill="#ffffff"/>
<rect x="994" y="496" width="3" height="3" fill="#ffffff"/>
<rect x="1000" y="496" width="1" height="33" fill="#ffffff"/>
<rect x="999" y="498" width="3" height="29" fill="#ffffff"/>
<rect x="1005" y="513" width="1" height="17" fill="#32e23e"/>
<rect x="1004" y="518" width="3" height="9" fill="#32e23e"/>
<rect x="1010" y="507" width="1" height="19" fill="#ffffff"/>
<rect x="1009" y="518" width="3" height="8" fill="#ffffff"/>
<rect x="1015" y="499" width="1" height="41" fill="#32e23e"/>
<rect x="1014" y="506" width="3" height="20" fill="#32e23e"/>
<rect x="1020" y="492" width="1" height="17" fill="#32e23e"/>
<rect x="1019" y="494" width="3" height="12" fill="#32e23e"/>
<rect x="1025" y="475" width="1" height="24" fill="#32e23e"/>
<rect x="1024" y="488" width="3" height="8" fill="#32e23e"/>
<rect x="1030" y="474" width="1" height="18" fill="#32e23e"/>
<rect x="1029" y="486" width="3" height="3" fill="#32e23e"/>
<rect x="1035" y="480" width="1" height="11" fill="#ffffff"/>
<rect x="1034" y="486" width="3" height="3" fill="#ffffff"/>
<rect x="1040" y="484" width="1" height="29" fill="#ffffff"/>
<rect x="1039" y="488" width="3" height="19" fill="#ffffff"/>
<rect x="1045" y="503" width="1" height="26" fill="#ffffff"/>
<rect x="1044" y="506" width="3" height="18" fill="#ffffff"/>
<rect x="1050" y="512" width="1" height="22" fill="#ffffff"/>
<rect x="1049" y="523" width="3" height="10" fill="#ffffff"/>
<rect x="1054" y="524" width="1" height="25" fill="#32e23e"/>
<rect x="1053" y="527" width="3" height="6" fill="#32e23e"/>
<rect x="1059" y="526" width="1" height="68" fill="#ffffff"/>
<rect x="1058" y="527" width="3" height="51" fill="#ffffff"/>
<rect x="1064" y="570" width="1" height="19" fill="#ffffff"/>
<rect x="1063" y="578" width="3" height="10" fill="#ffffff"/>
<rect x="1069" y="568" width="1" height="22" fill="#32e23e"/>
<rect x="1068" y="572" width="3" height="16" fill="#32e23e"/>
<rect x="1074" y="570" width="1" height="18" fill="#ffffff"/>
<rect x="1073" y="572" width="3" height="7" fill="#ffffff"/>
<rect x="1079" y="570" width="1" height="24" fill="#ffffff"/>
<rect x="1078" y="578" width="3" height="6" fill="#ffffff"/>
<rect x="1084" y="568" width="1" height="20" fill="#ffffff"/>
<rect x="1083" y="582" width="3" height="2" fill="#ffffff"/>
<rect x="1089" y="556" width="1" height="31" fill="#32e23e"/>
<rect x="1088" y="582" width="3" height="4" fill="#32e23e"/>
<rect x="1094" y="570" width="1" height="14" fill="#32e23e"/>
<rect x="1093" y="571" width="3" height="12" fill="#32e23e"/>
<rect x="1099" y="568" width="1" height="10" fill="#ffffff"/>
<rect x="1098" y="571" width="3" height="4" fill="#ffffff"/>
<rect x="1104" y="569" width="1" height="10" fill="#ffffff"/>
<rect x="1103" y="573" width="3" height="5" fill="#ffffff"/>
<rect x="1109" y="574" width="1" height="10" fill="#ffffff"/>
<rect x="1108" y="576" width="3" height="3" fill="#ffffff"/>
<rect x="1114" y="574" width="1" height="7" fill="#32e23e"/>
<rect x="1113" y="576" width="3" height="3" fill="#32e23e"/>
<rect x="1118" y="575" width="1" height="5" fill="#32e23e"/>
<rect x="1117" y="576" width="3" height="2" fill="#32e23e"/>
<rect x="1123" y="570" width="1" height="8" fill="#32e23e"/>
<rect x="1122" y="571" width="3" height="6" fill="#32e23e"/>
<rect x="1128" y="568" width="1" height="10" fill="#ffffff"/>
<rect x="1127" y="571" width="3" height="6" fill="#ffffff"/>
<rect x="1133" y="574" width="1" height="4" fill="#32e23e"/>
<rect x="1132" y="575" width="3" height="1" fill="#32e23e"/>
<rect x="1138" y="572" width="1" height="8" fill="#ffffff"/>
<rect x="1137" y="575" width="3" height="3" fill="#ffffff"/>
<rect x="1143" y="562" width="1" height="19" fill="#32e23e"/>
<rect x="1142" y="562" width="3" height="16" fill="#32e23e"/>
<rect x="1148" y="554" width="1" height="9" fill="#32e23e"/>
<rect x="1147" y="556" width="3" height="7" fill="#32e23e"/>
<rect x="1153" y="510" width="1" height="47" fill="#32e23e"/>
<rect x="1152" y="513" width="3" height="43" fill="#32e23e"/>
<rect x="1158" y="511" width="1" height="16" fill="#ffffff"/>
<rect x="1157" y="513" width="3" height="9" fill="#ffffff"/>
<rect x="1163" y="519" width="1" height="9" fill="#ffffff"/>
<rect x="1162" y="521" width="3" height="1" fill="#ffffff"/>
<rect x="1168" y="508" width="1" height="14" fill="#32e23e"/>
<rect x="1167" y="515" width="3" height="7" fill="#32e23e"/>
<rect x="1173" y="467" width="1" height="53" fill="#32e23e"/>
<rect x="1172" y="478" width="3" height="38" fill="#32e23e"/>
<rect x="1178" y="464" width="1" height="20" fill="#32e23e"/>
<rect x="1177" y="466" width="3" height="12" fill="#32e23e"/>
<rect x="1182" y="464" width="1" height="8" fill="#32e23e"/>
<rect x="1181" y="466" width="3" height="2" fill="#32e23e"/>
<rect x="1187" y="456" width="1" height="13" fill="#32e23e"/>
<rect x="1186" y="465" width="3" height="2" fill="#32e23e"/>
<rect x="1192" y="463" width="1" height="19" fill="#ffffff"/>
<rect x="1191" y="465" width="3" height="17" fill="#ffffff"/>
<rect x="1197" y="479" width="1" height="24" fill="#ffffff"/>
<rect x="1196" y="480" width="3" height="15" fill="#ffffff"/>
<rect x="1202" y="480" width="1" height="19" fill="#32e23e"/>
<rect x="1201" y="492" width="3" height="3" fill="#32e23e"/>
<rect x="1207" y="460" width="1" height="40" fill="#32e23e"/>
<rect x="1206" y="465" width="3" height="29" fill="#32e23e"/>
<rect x="1212" y="456" width="1" height="22" fill="#ffffff"/>
<rect x="1211" y="465" width="3" height="9" fill="#ffffff"/>
<rect x="1217" y="460" width="1" height="14" fill="#32e23e"/>
<rect x="1216" y="469" width="3" height="3" fill="#32e23e"/>
<rect x="1222" y="460" width="1" height="10" fill="#32e23e"/>
<rect x="1221" y="460" width="3" height="9" fill="#32e23e"/>
<rect x="1227" y="410" width="1" height="53" fill="#32e23e"/>
<rect x="1226" y="411" width="3" height="51" fill="#32e23e"/>
<rect x="1232" y="392" width="1" height="21" fill="#32e23e"/>
<rect x="1231" y="396" width="3" height="16" fill="#32e23e"/>
<rect x="1237" y="379" width="1" height="27" fill="#32e23e"/>
<rect x="1236" y="396" width="3" height="2" fill="#32e23e"/>
<rect x="1241" y="369" width="1" height="33" fill="#32e23e"/>
<rect x="1240" y="370" width="3" height="27" fill="#32e23e"/>
<rect x="1246" y="351" width="1" height="25" fill="#32e23e"/>
<rect x="1245" y="366" width="3" height="6" fill="#32e23e"/>
<rect x="1251" y="362" width="1" height="14" fill="#ffffff"/>
<rect x="1250" y="366" width="3" height="7" fill="#ffffff"/>
<rect x="1256" y="367" width="1" height="9" fill="#32e23e"/>
<rect x="1255" y="370" width="3" height="3" fill="#32e23e"/>
<rect x="1261" y="338" width="1" height="34" fill="#32e23e"/>
<rect x="1260" y="339" width="3" height="29" fill="#32e23e"/>
<rect x="1266" y="315" width="1" height="38" fill="#32e23e"/>
<rect x="1265" y="319" width="3" height="21" fill="#32e23e"/>
<rect x="1271" y="317" width="1" height="21" fill="#ffffff"/>
<rect x="1270" y="319" width="3" height="8" fill="#ffffff"/>
<rect x="1276" y="326" width="1" height="16" fill="#ffffff"/>
<rect x="1275" y="327" width="3" height="7" fill="#ffffff"/>
<rect x="1281" y="332" width="1" height="16" fill="#ffffff"/>
<rect x="1280" y="333" width="3" height="14" fill="#ffffff"/>
<rect x="1286" y="326" width="1" height="29" fill="#32e23e"/>
<rect x="1285" y="330" width="3" height="17" fill="#32e23e"/>
<rect x="1291" y="285" width="1" height="55" fill="#32e23e"/>
<rect x="1290" y="287" width="3" height="43" fill="#32e23e"/>
<rect x="1296" y="250" width="1" height="55" fill="#32e23e"/>
<rect x="1295" y="278" width="3" height="10" fill="#32e23e"/>
<rect x="1301" y="277" width="1" height="16" fill="#ffffff"/>
<rect x="1300" y="278" width="3" height="15" fill="#ffffff"/>
<rect x="1305" y="285" width="1" height="15" fill="#32e23e"/>
<rect x="1304" y="292" width="3" height="2" fill="#32e23e"/>
<rect x="1310" y="275" width="1" height="15" fill="#32e23e"/>
<rect x="1309" y="286" width="3" height="3" fill="#32e23e"/>
<rect x="1315" y="281" width="1" height="14" fill="#ffffff"/>
<rect x="1314" y="282" width="3" height="13" fill="#ffffff"/>
<rect x="1320" y="286" width="1" height="14" fill="#ffffff"/>
<rect x="1319" y="294" width="3" height="6" fill="#ffffff"/>
<rect x="1325" y="293" width="1" height="11" fill="#32e23e"/>
<rect x="1324" y="293" width="3" height="6" fill="#32e23e"/>
<rect x="1330" y="284" width="1" height="12" fill="#32e23e"/>
<rect x="1329" y="284" width="3" height="10" fill="#32e23e"/>
<rect x="1335" y="240" width="1" height="50" fill="#32e23e"/>
<rect x="1334" y="253" width="3" height="32" fill="#32e23e"/>
<rect x="1340" y="209" width="1" height="45" fill="#32e23e"/>
<rect x="1339" y="232" width="3" height="22" fill="#32e23e"/>
<rect x="1345" y="229" width="1" height="52" fill="#ffffff"/>
<rect x="1344" y="231" width="3" height="26" fill="#ffffff"/>
<rect x="1350" y="260" width="1" height="18" fill="#ffffff"/>
<rect x="1349" y="260" width="3" height="16" fill="#ffffff"/>
<rect x="1355" y="260" width="1" height="26" fill="#ffffff"/>
<rect x="1354" y="275" width="3" height="5" fill="#ffffff"/>
<rect x="1360" y="257" width="1" height="25" fill="#32e23e"/>
<rect x="1359" y="259" width="3" height="21" fill="#32e23e"/>
<rect x="1365" y="240" width="1" height="29" fill="#32e23e"/>
<rect x="1364" y="248" width="3" height="12" fill="#32e23e"/>
</g>
<path d="M10 487 L12 485.9 L14 485.3 L16 485 L18 485 L20 485.7 L22 486.9 L24 488.3 L26 489.7 L28 491.3 L30 493 L32 494.7 L34 496.3 L36 497.7 L38 499.2 L40 500.6 L42 501.8 L44 502.7 L46 503 L48 501.6 L50 498 L52 493.2 L54 487.9 L56.1 480.5 L58.1 471.2 L60.1 462.8 L62.1 455.9 L64.1 449.4 L66.1 443.7 L68.1 439.4 L70.1 435.7 L72.1 432.4 L74.1 429.8 L76.1 427.9 L78.1 426.6 L80.1 425.4 L82.1 424.6 L84.1 424.1 L86.1 424.1 L88.1 424.4 L90.1 425 L92.1 425.7 L94.1 426.6 L96.1 427.5 L98.1 428.9 L100.1 430.5 L102.1 432.4 L104.1 434.5 L106.1 436.8 L108.1 439.8 L110.1 443.2 L112.1 447.3 L114.1 452.1 L116.1 457.1 L118.1 462 L120.1 467 L122.1 472.1 L124.1 477.2 L126.1 482.2 L128.1 487 L130.1 491.5 L132.1 495.8 L134.1 500.1 L136.1 504.4 L138.1 508.7 L140.1 513.3 L142.1 518.2 L144.1 523.2 L146.2 528.2 L148.2 533.3 L150.2 538.4 L152.2 543.6 L154.2 548.9 L156.2 554.2 L158.2 559 L160.2 563.3 L162.2 567.3 L164.2 571 L166.2 574.1 L168.2 576.1 L170.2 577.7 L172.2 578.5 L174.2 578.1 L176.2 576.7 L178.2 574.8 L180.2 572.8 L182.2 570.4 L184.2 567.5 L186.2 564.3 L188.2 560.9 L190.2 557.7 L192.2 554.5 L194.2 551.3 L196.2 548 L198.2 544.8 L200.2 541.7 L202.2 538.6 L204.2 535.6 L206.2 532.7 L208.2 529.7 L210.2 526.7 L212.2 523.5 L214.2 520.3 L216.2 517.3 L218.2 514.5 L220.2 511.8 L222.2 509.2 L224.2 506.9 L226.2 504.9 L228.2 503.5 L230.2 502.2 L232.2 501.2 L234.2 500.6 L236.3 500.6 L238.3 500.8 L240.3 501.3 L242.3 501.9 L244.3 503.3 L246.3 506.2 L248.3 509.8 L250.3 513.5 L252.3 517.3 L254.3 521.7 L256.3 526.9 L258.3 533.3 L260.3 542.5 L262.3 552.1 L264.3 560.1 L266.3 567.8 L268.3 574.9 L270.3 581.4 L272.3 587.4 L274.3 593 L276.3 598 L278.3 602 L280.3 605.8 L282.3 609 L284.3 611.4 L286.3 612.9 L288.3 614.2 L290.3 615.1 L292.3 615.5 L294.3 615.3 L296.3 614.7 L298.3 613.8 L300.3 612.8 L302.3 611.3 L304.3 609.1 L306.3 606.7 L308.3 604.5 L310.3 602.7 L312.3 601.2 L314.3 599.7 L316.3 598.4 L318.3 597.5 L320.3 596.9 L322.3 596.6 L324.3 596.4 L326.4 596.2 L328.4 596 L330.4 596 L332.4 596.1 L334.4 596.4 L336.4 596.7 L338.4 596.9 L340.4 597 L342.4 596.7 L344.4 596.1 L346.4 595.2 L348.4 594.2 L350.4 593.1 L352.4 592.1 L354.4 591 L356.4 590 L358.4 588.7 L360.4 587.3 L362.4 585.6 L364.4 583.2 L366.4 579.8 L368.4 575.9 L370.4 571.9 L372.4 568.2 L374.4 564.8 L376.4 561.4 L378.4 558.1 L380.4 554.8 L382.4 551.7 L384.4 548.8 L386.4 546.1 L388.4 543.5 L390.4 541 L392.4 538.7 L394.4 536.4 L396.4 534.2 L398.4 532 L400.4 530 L402.4 528 L404.4 526.1 L406.4 524.1 L408.4 521.9 L410.4 519.3 L412.4 516.8 L414.4 515.2 L416.4 514.7 L418.5 514.3 L420.5 514.1 L422.5 514 L424.5 515 L426.5 517.4 L428.5 520.6 L430.5 523.7 L432.5 527.6 L434.5 532 L436.5 536.2 L438.5 539.6 L440.5 542.7 L442.5 545.5 L444.5 547.6 L446.5 549 L448.5 550.2 L450.5 550.4 L452.5 549.1 L454.5 546.7 L456.5 544.1 L458.5 542 L460.5 540 L462.5 538 L464.5 536.2 L466.5 534.8 L468.5 533.8 L470.5 533 L472.5 532.4 L474.5 532.1 L476.5 532 L478.5 532.1 L480.5 532.3 L482.5 532.5 L484.5 532.8 L486.5 533.3 L488.5 534.4 L490.5 535.9 L492.5 537.6 L494.5 539.5 L496.5 542 L498.5 544.7 L500.5 547 L502.5 549.3 L504.5 551.4 L506.5 553.2 L508.6 554.2 L510.6 554.9 L512.6 555.4 L514.6 555.5 L516.6 555.2 L518.6 554.7 L520.6 553.9 L522.6 553.2 L524.6 552.3 L526.6 551.3 L528.6 550 L530.6 548.7 L532.6 547.3 L534.6 545.9 L536.6 544.4 L538.6 542.7 L540.6 541.1 L542.6 539.4 L544.6 537.6 L546.6 535.9 L548.6 534 L550.6 531.9 L552.6 529.4 L554.6 526.5 L556.6 523.7 L558.6 521.3 L560.6 519 L562.6 516.9 L564.6 514.9 L566.6 513.1 L568.6 511.5 L570.6 509.9 L572.6 508.5 L574.6 507.6 L576.6 507.5 L578.6 507.8 L580.6 508.2 L582.6 508.7 L584.6 510.1 L586.6 511.8 L588.6 513.5 L590.6 515.3 L592.6 517.1 L594.6 518.6 L596.6 519.5 L598.7 520.2 L600.7 520.7 L602.7 521 L604.7 520.7 L606.7 519.8 L608.7 518.5 L610.7 516.9 L612.7 514.1 L614.7 510.1 L616.7 505.7 L618.7 501.7 L620.7 497.6 L622.7 493.5 L624.7 489.5 L626.7 485.9 L628.7 482.3 L630.7 479 L632.7 475.9 L634.7 473.2 L636.7 470.8 L638.7 468.5 L640.7 466.2 L642.7 463.9 L644.7 461.4 L646.7 458.8 L648.7 456.2 L650.7 453.7 L652.7 451.3 L654.7 449 L656.7 446.8 L658.7 444.8 L660.7 443.4 L662.7 442.5 L664.7 441.8 L666.7 441.1 L668.7 440.1 L670.7 439 L672.7 437.6 L674.7 436.1 L676.7 434.3 L678.7 432.1 L680.7 429.9 L682.7 427.5 L684.7 425.2 L686.7 423.2 L688.8 422 L690.8 421.3 L692.8 420.7 L694.8 420.5 L696.8 420.5 L698.8 420.6 L700.8 420.7 L702.8 420.8 L704.8 420.9 L706.8 421.2 L708.8 421.5 L710.8 421.9 L712.8 422.4 L714.8 422.9 L716.8 423.5 L718.8 424.4 L720.8 425.6 L722.8 426.8 L724.8 428 L726.8 429.2 L728.8 430.3 L730.8 431.5 L732.8 432.6 L734.8 433.8 L736.8 434.9 L738.8 435.9 L740.8 436.7 L742.8 437.4 L744.8 437.9 L746.8 438.4 L748.8 438.8 L750.8 439.3 L752.8 439.9 L754.8 440.6 L756.8 441.6 L758.8 442.8 L760.8 443.9 L762.8 444.7 L764.8 445.4 L766.8 446 L768.8 446.5 L770.8 447 L772.8 447.2 L774.8 447.3 L776.8 447.1 L778.9 446.6 L780.9 446 L782.9 445.3 L784.9 444.6 L786.9 443.6 L788.9 442.4 L790.9 440.8 L792.9 439 L794.9 436.6 L796.9 433.1 L798.9 429.2 L800.9 425.5 L802.9 422.6 L804.9 420 L806.9 417.5 L808.9 415.5 L810.9 414.2 L812.9 413.2 L814.9 412.5 L816.9 412 L818.9 412.1 L820.9 412.6 L822.9 413.3 L824.9 414 L826.9 414.5 L828.9 414.5 L830.9 413.8 L832.9 412.6 L834.9 411.3 L836.9 410.3 L838.9 409.2 L840.9 408.2 L842.9 407 L844.9 405.7 L846.9 404.3 L848.9 402.8 L850.9 401.5 L852.9 400.5 L854.9 399.8 L856.9 399.1 L858.9 398.5 L860.9 398.2 L862.9 398 L864.9 398.1 L866.9 398.3 L869 398.7 L871 399.1 L873 400.3 L875 402.1 L877 404.3 L879 406.7 L881 409.9 L883 413.5 L885 417.1 L887 420.5 L889 424.1 L891 427.6 L893 430.5 L895 433 L897 435.3 L899 437.1 L901 438.2 L903 439 L905 439.6 L907 440.1 L909 440.4 L911 440.5 L913 440.5 L915 440.5 L917 440.5 L919 440.5 L921 440.5 L923 440.5 L925 440.2 L927 439.8 L929 439.2 L931 438.5 L933 437.9 L935 437.6 L937 437.5 L939 437.7 L941 437.9 L943 438.3 L945 438.8 L947 439.4 L949 440.8 L951 442.7 L953 445 L955 447.6 L957 451 L959.1 454.9 L961.1 459.1 L963.1 463.7 L965.1 468.8 L967.1 474.2 L969.1 479.5 L971.1 485 L973.1 490.6 L975.1 495.8 L977.1 500.4 L979.1 504.8 L981.1 508.7 L983.1 511.6 L985.1 513.3 L987.1 514.7 L989.1 515.9 L991.1 516.9 L993.1 517.8 L995.1 518.8 L997.1 519.7 L999.1 520.5 L1001.1 521.3 L1003.1 521.9 L1005.1 522.4 L1007.1 523 L1009.1 523.5 L1011.1 523.8 L1013.1 524 L1015.1 523.8 L1017.1 522.9 L1019.1 521.7 L1021.1 520.4 L1023.1 518.7 L1025.1 516.3 L1027.1 513.7 L1029.1 511.2 L1031.1 508.2 L1033.1 505.1 L1035.1 502.7 L1037.1 501.3 L1039.1 500.2 L1041.1 499.4 L1043.1 499 L1045.1 499.3 L1047.1 500.2 L1049.1 501.5 L1051.2 503.1 L1053.2 505.5 L1055.2 508.8 L1057.2 512.7 L1059.2 516.9 L1061.2 521.8 L1063.2 527.4 L1065.2 533.1 L1067.2 538.9 L1069.2 545 L1071.2 551.1 L1073.2 557.1 L1075.2 562.8 L1077.2 568.4 L1079.2 573.7 L1081.2 578.4 L1083.2 582.8 L1085.2 586.9 L1087.2 590.3 L1089.2 592.8 L1091.2 595 L1093.2 596.8 L1095.2 597.9 L1097.2 598 L1099.2 597.9 L1101.2 597.7 L1103.2 597.5 L1105.2 597.1 L1107.2 596.2 L1109.2 595 L1111.2 593.6 L1113.2 592.2 L1115.2 590.8 L1117.2 589.1 L1119.2 587.4 L1121.2 585.7 L1123.2 584.2 L1125.2 582.8 L1127.2 581.5 L1129.2 580.3 L1131.2 579.2 L1133.2 578.1 L1135.2 577.2 L1137.2 576.5 L1139.2 575.8 L1141.3 575.1 L1143.3 574.1 L1145.3 573 L1147.3 571.6 L1149.3 569.8 L1151.3 567.7 L1153.3 564.6 L1155.3 560.4 L1157.3 555.9 L1159.3 551.2 L1161.3 546 L1163.3 540.5 L1165.3 534.9 L1167.3 529.6 L1169.3 524.5 L1171.3 519.2 L1173.3 513.6 L1175.3 507.2 L1177.3 500.1 L1179.3 493.2 L1181.3 487.2 L1183.3 481.9 L1185.3 477.1 L1187.3 472.8 L1189.3 469 L1191.3 465.2 L1193.3 461.8 L1195.3 459.8 L1197.3 459.3 L1199.3 459 L1201.3 458.8 L1203.3 458.6 L1205.3 458.5 L1207.3 458.4 L1209.3 458.4 L1211.3 458.3 L1213.3 458.3 L1215.3 458.3 L1217.3 458.3 L1219.3 458.2 L1221.3 458.1 L1223.3 458 L1225.3 456.6 L1227.3 453.2 L1229.3 449.2 L1231.4 443.8 L1233.4 437.5 L1235.4 430.6 L1237.4 423.2 L1239.4 415.9 L1241.4 408.5 L1243.4 401.3 L1245.4 394.8 L1247.4 389.4 L1249.4 384.8 L1251.4 380.4 L1253.4 375.8 L1255.4 370.8 L1257.4 365.7 L1259.4 360.3 L1261.4 354.3 L1263.4 346.7 L1265.4 338.4 L1267.4 331 L1269.4 326 L1271.4 321.9 L1273.4 318.5 L1275.4 316 L1277.4 314.5 L1279.4 313.5 L1281.4 312.7 L1283.4 311.9 L1285.4 310.9 L1287.4 309.5 L1289.4 307.7 L1291.4 305.6 L1293.4 303.1 L1295.4 299.7 L1297.4 295.2 L1299.4 290.8 L1301.4 287.4 L1303.4 284.6 L1305.4 282 L1307.4 279.7 L1309.4 277.9 L1311.4 276.8 L1313.4 275.9 L1315.4 275.1 L1317.4 274.5 L1319.4 274.1 L1321.5 274 L1323.5 274 L1325.5 274 L1327.5 274 L1329.5 274 L1331.5 274 L1333.5 273 L1335.5 271.2 L1337.5 269 L1339.5 266.9 L1341.5 264.3 L1343.5 261.5 L1345.5 259.4 L1347.5 258.1 L1349.5 257.1 L1351.5 256.3 L1353.5 256 L1355.5 256.2 L1357.5 256.5 L1359.5 256.9 L1361.5 257 L1363.5 256 L1365.5 254.4" fill="none" stroke="#ba68c8" stroke-width="2"/>
<rect x="11" y="208" width="1722" height="1" fill="#ffeb3b" shape-rendering="crispEdges"/>
<rect x="11" y="237" width="1722" height="1" fill="#ffeb3b" shape-rendering="crispEdges"/>
<rect x="11" y="455" width="1722" height="1" fill="#ffeb3b" shape-rendering="crispEdges"/>
<rect x="11" y="591" width="1722" height="1" fill="#ffeb3b" shape-rendering="crispEdges"/>
<rect x="11" y="621" width="1722" height="1" fill="#ffeb3b" shape-rendering="crispEdges"/>
<path d="M11 248.5 H1733" stroke="#a4a6ae" stroke-width="1" stroke-dasharray="1 2" shape-rendering="crispEdges"/>
<path d="M1304 290.2 L1567.5 187" stroke="#dedede" stroke-width="3.8" stroke-dasharray="4.2 7.8" stroke-linecap="round" fill="none"/>
</g>
<text x="18" y="45.8" font-size="12" fill="#bec0c7" stroke="#bec0c7" stroke-width="0.3" textLength="160.8" lengthAdjust="spacingAndGlyphs">BTCUSDT SPOT · 4時間 · Bybit</text>
<text x="186.2" y="45.8" font-size="12" fill="#bec0c7" stroke="#bec0c7" stroke-width="0.3" textLength="24.4" lengthAdjust="spacingAndGlyphs">始値</text>
<text x="210.6" y="45.8" font-size="12" fill="#33e640" stroke="#33e640" stroke-width="0.3" textLength="52.5" lengthAdjust="spacingAndGlyphs">123,496.8</text>
<text x="270.9" y="45.8" font-size="12" fill="#bec0c7" stroke="#bec0c7" stroke-width="0.3" textLength="23.7" lengthAdjust="spacingAndGlyphs">高値</text>
<text x="294.6" y="45.8" font-size="12" fill="#33e640" stroke="#33e640" stroke-width="0.3" textLength="52.8" lengthAdjust="spacingAndGlyphs">124,368.0</text>
<text x="354.9" y="45.8" font-size="12" fill="#bec0c7" stroke="#bec0c7" stroke-width="0.3" textLength="23.7" lengthAdjust="spacingAndGlyphs">安値</text>
<text x="378.6" y="45.8" font-size="12" fill="#33e640" stroke="#33e640" stroke-width="0.3" textLength="52.4" lengthAdjust="spacingAndGlyphs">123,087.3</text>
<text x="438.5" y="45.8" font-size="12" fill="#bec0c7" stroke="#bec0c7" stroke-width="0.3" textLength="24.1" lengthAdjust="spacingAndGlyphs">終値</text>
<text x="462.6" y="45.8" font-size="12" fill="#33e640" stroke="#33e640" stroke-width="0.3" textLength="52.8" lengthAdjust="spacingAndGlyphs">124,011.5</text>
<text x="18" y="62.8" font-size="12" fill="#bec0c7" stroke="#bec0c7" stroke-width="0.3" textLength="83.6" lengthAdjust="spacingAndGlyphs">HMA (20, close)</text>
<text x="109.4" y="62.8" font-size="12" fill="#ba68c8" stroke="#ba68c8" stroke-width="0.3" textLength="51.8" lengthAdjust="spacingAndGlyphs">123,710.1</text>
<text x="18" y="79.8" font-size="12" fill="#bec0c7" stroke="#bec0c7" stroke-width="0.3" textLength="128.3" lengthAdjust="spacingAndGlyphs">BB (50, SMA, close, 2.5)</text>
<text x="154" y="79.8" font-size="12" fill="#5596ee" stroke="#5596ee" stroke-width="0.3" textLength="52.6" lengthAdjust="spacingAndGlyphs">129,363.8</text>
<text x="214.4" y="79.8" font-size="12" fill="#5596ee" stroke="#5596ee" stroke-width="0.3" textLength="52.1" lengthAdjust="spacingAndGlyphs">105,535.2</text>
<text x="18" y="96.8" font-size="12" fill="#bec0c7" stroke="#bec0c7" stroke-width="0.3" textLength="83.6" lengthAdjust="spacingAndGlyphs">HMA (80, close)</text>
<text x="109.4" y="96.8" font-size="12" fill="#5b9cf6" stroke="#5b9cf6" stroke-width="0.3" textLength="52.5" lengthAdjust="spacingAndGlyphs">124,154.8</text>
<text x="18" y="113.8" font-size="12" fill="#bec0c7" stroke="#bec0c7" stroke-width="0.3" textLength="158.8" lengthAdjust="spacingAndGlyphs">BB · 240 (50, SMA, close, 2.5)</text>
<text x="18" y="130.8" font-size="12" fill="#bec0c7" stroke="#bec0c7" stroke-width="0.3" textLength="90" lengthAdjust="spacingAndGlyphs">HMA (320, close)</text>
<text x="115.8" y="130.8" font-size="12" fill="#81c784" stroke="#81c784" stroke-width="0.3" textLength="52.5" lengthAdjust="spacingAndGlyphs">116,394.3</text>
<text x="18" y="147.8" font-size="12" fill="#bec0c7" stroke="#bec0c7" stroke-width="0.3" textLength="115" lengthAdjust="spacingAndGlyphs">HMA · 1D (320, close)</text>
<text x="18" y="164.8" font-size="12" fill="#bec0c7" stroke="#bec0c7" stroke-width="0.3" textLength="120.5" lengthAdjust="spacingAndGlyphs">HMA · 240 (320, close)</text>
<text x="18" y="181.8" font-size="12" fill="#bec0c7" stroke="#bec0c7" stroke-width="0.3" textLength="109" lengthAdjust="spacingAndGlyphs">HMA · 1D (80, close)</text>
<text x="18" y="198.8" font-size="12" fill="#bec0c7" stroke="#bec0c7" stroke-width="0.3" textLength="109" lengthAdjust="spacingAndGlyphs">HMA · 1D (20, close)</text>
<text x="18" y="216.1" font-size="12" fill="#bec0c7" stroke="#bec0c7" stroke-width="0.3" textLength="149" lengthAdjust="spacingAndGlyphs">一目均衡表® (9, 26, 52, 26)</text>
<rect x="11" y="208" width="200" height="1" fill="#ffeb3b" shape-rendering="crispEdges"/>
<g clip-path="url(#sp)">
<path d="M10 811 L10 848 L17.5 851.8 L25 857.5 L31.2 857.5 L37.5 853 L41.2 850 L46.2 851 L50 828 L53.8 804.2 L60 784.2 L70 779.2 L75 781.8 L81.2 788 L87.5 790 L92.5 791.8 L98.8 796.8 L105 801.8 L110 806.8 L113.8 821.8 L120 829.2 L125 838 L130 850.5 L135 860 L138.8 860.5 L145 871.8 L150 880.5 L155 886.2 L160 886.8 L168.8 888.5 L172.5 878 L177.5 865.5 L183.8 855 L188.8 852.5 L195 843 L202.5 829.2 L208.8 826.8 L213.8 820.5 L217.5 810.5 L222.5 803 L228.2 798.5 L232.5 802.2 L237 800 L242.5 805 L246.2 818 L252.5 830.5 L257.5 848 L262.5 860.5 L267.5 868 L272.5 871.8 L277.5 873 L282.5 871 L292.5 863 L300 854.2 L305 851.8 L312.5 850 L321.2 843.5 L326.2 844.2 L331.2 847.5 L336.2 839.2 L347.5 831.8 L356.2 823 L360 813 L365 804.2 L370 801.8 L375 795.5 L385 783.5 L392.5 780 L400 776.8 L406.2 769.2 L411.2 766.2 L416.2 768 L422.5 778 L430 790.5 L435 803 L440 809.2 L446.2 808 L451.2 803 L455 790.5 L460 784.2 L465 790.5 L468 791.8 L473 798 L478 800.5 L485.5 805.5 L491.8 811.8 L496.8 818 L503 821.8 L513 818.5 L518 813 L523 808.5 L528 806.8 L533 806 L539.2 806 L544.2 804.2 L548 799.2 L552.5 791.2 L558 789.8 L562.5 789.8 L566.8 792.2 L571.8 785.5 L577.2 785 L581.8 795.5 L586.8 801.2 L591.8 803.8 L596.8 805.5 L603 799.2 L606.8 798 L611.8 787.5 L616.8 780.5 L621.8 773.8 L626 768.8 L631.8 767.2 L640.5 767.5 L646 766.8 L651 760.5 L656.8 758.8 L661.8 760 L666.8 762.5 L671 763.8 L675 756 L680.5 755.5 L686.8 757.2 L691.8 760.5 L696.8 764.2 L703 769.2 L709.2 773.8 L715.5 778.8 L720.5 781.2 L725.5 784.2 L730.5 790.5 L735.5 793 L740.5 798 L745.5 799.8 L750.5 799.2 L755.5 804.2 L760.5 809.2 L768 809.8 L775.5 810 L780.5 808 L785.5 808 L790.5 803 L795.5 795.5 L799.2 792.2 L803 791.8 L808.5 786.2 L814.2 790 L819.2 795.5 L824.2 800 L828 799.2 L833 790.5 L838 788.8 L843 787.5 L848 784.2 L854.2 783 L859.2 785 L864.2 788 L868 791.8 L873 798 L878 806.8 L881.8 816.8 L886.8 821 L893 826 L899.2 825 L904.2 824.2 L908 823 L913 824.2 L920.5 824.8 L926 823 L936 824.2 L944.8 825.5 L950.2 830.5 L956 848 L961 858 L966 864.2 L971 871.2 L976 871.8 L981 873.5 L986 868 L991 862.5 L995.2 860 L999.8 864.2 L1004.8 864.2 L1010.2 865.5 L1014.8 859.2 L1019.8 850.5 L1024.8 841.8 L1029.8 833.5 L1035.2 827.2 L1039.8 828.8 L1044.8 834.2 L1049.8 840.5 L1054.8 843.8 L1059.8 860 L1063.5 871 L1068.5 875 L1073.5 878 L1078.5 880.5 L1083.5 881.2 L1088.5 879.2 L1093.5 873 L1098.5 868 L1103.5 864.2 L1109.8 860.5 L1116 855 L1123.5 847.5 L1131 842.5 L1138.5 838.5 L1143.5 832.5 L1148.5 825 L1152.2 806.8 L1157.2 796.8 L1162.2 789.8 L1167.2 783.5 L1172.2 769.2 L1177.2 756.8 L1182.2 746.8 L1187.2 741.2 L1192.2 743.8 L1197.2 751.2 L1202.2 758 L1207.2 755.5 L1213.5 756.8 L1222.2 757.5 L1227.2 744.2 L1232.2 733 L1237.2 725 L1241.5 713 L1247.2 705.5 L1256 705 L1261 698.8 L1266 691.8 L1271 691 L1276 695.5 L1281 704.2 L1286 710 L1291 702.5 L1296.5 696 L1302.2 698 L1307.2 704.2 L1313.5 712.5 L1319.8 721.8 L1326 729.2 L1331 733 L1336 728 L1341 721.2 L1346 726.8 L1351 736.8 L1356 745.5 L1361 748 L1365.2 747.5 L1365.2 811 Z" fill="#63656b" stroke="none"/>
<path d="M10 859.2 L12 858.1 L14 857 L16 856.3 L18 855.9 L20 855.7 L22 855.6 L24 855.5 L26 855.5 L28 855.6 L30 855.8 L32 855.9 L34 856 L36 856 L38 855.8 L40 855.5 L42 855 L44 854.4 L46 853.6 L48 851.3 L50 846.7 L52 841.6 L54 837 L56 832.2 L58 827.4 L60 822.9 L62 818.5 L64 814.2 L66.1 810.4 L68.1 807.2 L70.1 804.4 L72.1 802 L74.1 800 L76.1 798.5 L78.1 797.4 L80.1 796.4 L82.1 795.6 L84.1 795 L86.1 794.5 L88.1 794 L90.1 793.7 L92.1 793.5 L94.1 793.5 L96.1 793.7 L98.1 794 L100.1 794.3 L102.1 794.7 L104.1 795.2 L106.1 795.9 L108.1 796.9 L110.1 798.1 L112.1 800.6 L114.1 804.1 L116.1 806.9 L118.1 809.1 L120.1 811.3 L122.1 813.7 L124.1 816.7 L126.1 820.1 L128.1 823.6 L130.1 826.9 L132.1 830 L134.1 833.1 L136.1 836 L138.1 838.9 L140.1 841.5 L142.1 844.1 L144.1 846.8 L146.1 849.6 L148.1 852.7 L150.1 855.7 L152.1 858.7 L154.1 861.6 L156.1 864.4 L158.1 867.1 L160.1 869.4 L162.1 871.7 L164.1 873.8 L166.1 875.4 L168.1 876.2 L170.1 876.6 L172.1 876.7 L174.2 876.3 L176.2 875.1 L178.2 873.8 L180.2 872.3 L182.2 870.5 L184.2 868.7 L186.2 867 L188.2 865.4 L190.2 863.7 L192.2 862 L194.2 860.1 L196.2 858 L198.2 855.5 L200.2 852.9 L202.2 850.2 L204.2 847.7 L206.2 845.5 L208.2 843.6 L210.2 841.7 L212.2 839.6 L214.2 837.2 L216.2 834.6 L218.2 831.8 L220.2 829 L222.2 825.9 L224.2 822.6 L226.2 819.6 L228.2 817.3 L230.2 815.3 L232.2 813.5 L234.2 812.2 L236.2 811.2 L238.2 810.3 L240.2 809.6 L242.2 809.3 L244.2 809.6 L246.2 810.7 L248.2 812.4 L250.2 814.4 L252.2 816.5 L254.2 818.8 L256.2 821.7 L258.2 825 L260.2 828.4 L262.2 832 L264.2 835.9 L266.2 839.7 L268.2 842.9 L270.2 845.8 L272.2 848.5 L274.2 850.9 L276.2 853 L278.2 854.9 L280.2 856.5 L282.3 857.9 L284.3 859 L286.3 860 L288.3 860.8 L290.3 861 L292.3 860.9 L294.3 860.8 L296.3 860.6 L298.3 860.4 L300.3 859.7 L302.3 858.7 L304.3 857.8 L306.3 857.1 L308.3 856.4 L310.3 855.8 L312.3 855.1 L314.3 854.2 L316.3 853.1 L318.3 852 L320.3 850.9 L322.3 850.1 L324.3 849.5 L326.3 849 L328.3 848.6 L330.3 848.2 L332.3 847.6 L334.3 846.7 L336.3 845.7 L338.3 844.4 L340.3 843.1 L342.3 841.9 L344.3 840.7 L346.3 839.5 L348.3 838.3 L350.3 837 L352.3 835.6 L354.3 834.2 L356.3 832.7 L358.3 830.9 L360.3 828.9 L362.3 825.9 L364.3 822.6 L366.3 820.2 L368.3 818.3 L370.3 816.4 L372.3 814.4 L374.3 812.2 L376.3 809.8 L378.3 807.4 L380.3 805.1 L382.3 803 L384.3 800.9 L386.3 798.9 L388.3 797 L390.4 795.2 L392.4 793.6 L394.4 792.1 L396.4 790.7 L398.4 789.3 L400.4 787.7 L402.4 785.9 L404.4 784 L406.4 782.1 L408.4 780.4 L410.4 779 L412.4 777.7 L414.4 776.4 L416.4 775.6 L418.4 775.6 L420.4 776 L422.4 776.7 L424.4 777.4 L426.4 778.3 L428.4 779.4 L430.4 780.8 L432.4 782.8 L434.4 785.4 L436.4 788 L438.4 790.2 L440.4 792.6 L442.4 794.7 L444.4 796.4 L446.4 797.5 L448.4 798.3 L450.4 798.5 L452.4 797.9 L454.4 796.7 L456.4 795.4 L458.4 794.2 L460.4 793.7 L462.4 793.4 L464.4 793.2 L466.4 793 L468.4 793 L470.4 793.4 L472.4 794.2 L474.4 795.1 L476.4 795.8 L478.4 796.6 L480.4 797.4 L482.4 798.2 L484.4 799.2 L486.4 800.3 L488.4 801.4 L490.4 802.7 L492.4 803.9 L494.4 805.2 L496.4 806.6 L498.5 808.1 L500.5 809.5 L502.5 810.7 L504.5 811.7 L506.5 812.7 L508.5 813.7 L510.5 814.4 L512.5 814.7 L514.5 814.7 L516.5 814.4 L518.5 814 L520.5 813.6 L522.5 813.1 L524.5 812.7 L526.5 812.2 L528.5 811.6 L530.5 811.1 L532.5 810.6 L534.5 810.2 L536.5 809.8 L538.5 809.5 L540.5 809.1 L542.5 808.6 L544.5 808 L546.5 807.1 L548.5 805.9 L550.5 804.4 L552.5 802.9 L554.5 801.5 L556.5 800.2 L558.5 799 L560.5 798 L562.5 797.3 L564.5 796.6 L566.5 796 L568.5 795.3 L570.5 794.1 L572.5 792.8 L574.5 791.9 L576.5 791.8 L578.5 791.8 L580.5 791.8 L582.5 792.2 L584.5 793.4 L586.5 794.7 L588.5 795.8 L590.5 796.8 L592.5 797.9 L594.5 798.7 L596.5 799.2 L598.5 799.4 L600.5 799.6 L602.5 799.7 L604.5 799.7 L606.6 799.6 L608.6 798.5 L610.6 796.9 L612.6 795.4 L614.6 793.7 L616.6 791.7 L618.6 789.8 L620.6 787.9 L622.6 786.2 L624.6 784.5 L626.6 782.8 L628.6 781.3 L630.6 779.8 L632.6 778.5 L634.6 777.2 L636.6 776.3 L638.6 775.5 L640.6 774.8 L642.6 774.1 L644.6 773.4 L646.6 772.5 L648.6 771.4 L650.6 770.1 L652.6 768.9 L654.6 767.9 L656.6 767.1 L658.6 766.3 L660.6 765.6 L662.6 765 L664.6 764.7 L666.6 764.6 L668.6 764.5 L670.6 764.4 L672.6 764.1 L674.6 763.3 L676.6 762.3 L678.6 761.4 L680.6 760.9 L682.6 760.5 L684.6 760.1 L686.6 760 L688.6 760.1 L690.6 760.3 L692.6 760.7 L694.6 761.1 L696.6 761.5 L698.6 762.1 L700.6 762.9 L702.6 763.7 L704.6 764.6 L706.6 765.5 L708.6 766.4 L710.6 767.4 L712.6 768.5 L714.6 769.5 L716.7 770.6 L718.7 771.8 L720.7 772.9 L722.7 774.2 L724.7 775.4 L726.7 776.8 L728.7 778.3 L730.7 779.9 L732.7 781.5 L734.7 783.1 L736.7 784.7 L738.7 786.3 L740.7 787.6 L742.7 788.7 L744.7 789.7 L746.7 790.6 L748.7 791.5 L750.7 792.6 L752.7 793.9 L754.7 795.3 L756.7 796.7 L758.7 797.9 L760.7 799 L762.7 800.1 L764.7 801.1 L766.7 802 L768.7 802.8 L770.7 803.5 L772.7 804.2 L774.7 804.7 L776.7 805.2 L778.7 805.6 L780.7 806 L782.7 806.3 L784.7 806.6 L786.7 806.7 L788.7 806.7 L790.7 806.3 L792.7 805.5 L794.7 804.6 L796.7 803.7 L798.7 802.6 L800.7 801.4 L802.7 800.2 L804.7 798.9 L806.7 797.5 L808.7 796.2 L810.7 795.4 L812.7 794.9 L814.7 794.5 L816.7 794.3 L818.7 794.3 L820.7 794.7 L822.7 795.4 L824.8 796.1 L826.8 796.6 L828.8 796.7 L830.8 796.2 L832.8 795.3 L834.8 794.5 L836.8 793.9 L838.8 793.5 L840.8 793.1 L842.8 792.6 L844.8 791.9 L846.8 791.1 L848.8 790.2 L850.8 789.4 L852.8 788.8 L854.8 788.3 L856.8 787.9 L858.8 787.6 L860.8 787.5 L862.8 787.7 L864.8 788.2 L866.8 788.9 L868.8 789.5 L870.8 790.3 L872.8 791.4 L874.8 792.5 L876.8 794 L878.8 795.9 L880.8 798.1 L882.8 800.3 L884.8 802.5 L886.8 804.8 L888.8 807 L890.8 809 L892.8 811 L894.8 812.8 L896.8 814.3 L898.8 815.4 L900.8 816.3 L902.8 817.1 L904.8 817.8 L906.8 818.4 L908.8 819 L910.8 819.5 L912.8 820 L914.8 820.5 L916.8 820.8 L918.8 821.1 L920.8 821.3 L922.8 821.5 L924.8 821.6 L926.8 821.8 L928.8 822.1 L930.8 822.3 L932.9 822.6 L934.9 822.9 L936.9 823.1 L938.9 823.3 L940.9 823.5 L942.9 823.8 L944.9 824 L946.9 824.4 L948.9 825.1 L950.9 825.9 L952.9 827.4 L954.9 829.6 L956.9 832.2 L958.9 834.7 L960.9 837.3 L962.9 840 L964.9 842.8 L966.9 845.4 L968.9 848 L970.9 850.5 L972.9 852.9 L974.9 854.9 L976.9 857 L978.9 858.8 L980.9 860 L982.9 860.7 L984.9 861.3 L986.9 861.6 L988.9 861.7 L990.9 861.6 L992.9 861.4 L994.9 861.3 L996.9 861.3 L998.9 861.5 L1000.9 861.8 L1002.9 862.2 L1004.9 862.4 L1006.9 862.7 L1008.9 862.9 L1010.9 863 L1012.9 862.7 L1014.9 862 L1016.9 860.9 L1018.9 859.7 L1020.9 858.1 L1022.9 855.9 L1024.9 853.7 L1026.9 851.5 L1028.9 849.2 L1030.9 846.8 L1032.9 844.8 L1034.9 842.9 L1036.9 841.1 L1038.9 839.6 L1041 838.8 L1043 838.4 L1045 838.1 L1047 838 L1049 838.2 L1051 838.7 L1053 839.5 L1055 840.6 L1057 842.4 L1059 844.5 L1061 846.7 L1063 849 L1065 851.6 L1067 854.2 L1069 856.5 L1071 858.8 L1073 860.9 L1075 862.8 L1077 864.6 L1079 866.2 L1081 867.6 L1083 868.9 L1085 870.2 L1087 871.5 L1089 872.6 L1091 873 L1093 872.9 L1095 872.5 L1097 872.1 L1099 871.6 L1101 870.9 L1103 870.1 L1105 869.2 L1107 868.3 L1109 867.5 L1111 866.7 L1113 865.7 L1115 864.6 L1117 863.3 L1119 861.9 L1121 860.5 L1123 859 L1125 857.6 L1127 856.1 L1129 854.6 L1131 853.2 L1133 851.9 L1135 850.5 L1137 849.1 L1139 847.6 L1141 846.1 L1143 844.5 L1145 842.8 L1147 840.8 L1149.1 838.6 L1151.1 835.6 L1153.1 832.2 L1155.1 828.5 L1157.1 824.8 L1159.1 820.8 L1161.1 816.6 L1163.1 812.6 L1165.1 808.8 L1167.1 805.3 L1169.1 801.7 L1171.1 797.9 L1173.1 793.6 L1175.1 789.1 L1177.1 784.7 L1179.1 780.6 L1181.1 776.5 L1183.1 772.7 L1185.1 769.3 L1187.1 766.6 L1189.1 764.1 L1191.1 762 L1193.1 760.6 L1195.1 760.1 L1197.1 759.8 L1199.1 759.5 L1201.1 759.2 L1203.1 758.8 L1205.1 758.4 L1207.1 758.1 L1209.1 758 L1211.1 758.1 L1213.1 758.3 L1215.1 758.5 L1217.1 758.5 L1219.1 758.4 L1221.1 758.2 L1223.1 757.7 L1225.1 756.4 L1227.1 754.4 L1229.1 752.4 L1231.1 750.3 L1233.1 748 L1235.1 745.4 L1237.1 742.6 L1239.1 739.2 L1241.1 735.6 L1243.1 732.3 L1245.1 729.3 L1247.1 726.5 L1249.1 723.9 L1251.1 721.6 L1253.1 719.6 L1255.1 717.8 L1257.2 716.2 L1259.2 714.6 L1261.2 712.9 L1263.2 711 L1265.2 709.1 L1267.2 707.2 L1269.2 705.5 L1271.2 704.2 L1273.2 702.9 L1275.2 701.7 L1277.2 701.3 L1279.2 701.6 L1281.2 702.5 L1283.2 703.5 L1285.2 704.2 L1287.2 704.2 L1289.2 703.7 L1291.2 703.1 L1293.2 702.6 L1295.2 702.1 L1297.2 701.6 L1299.2 701.1 L1301.2 700.7 L1303.2 700.5 L1305.2 700.6 L1307.2 700.9 L1309.2 701.3 L1311.2 701.8 L1313.2 702.7 L1315.2 704.1 L1317.2 705.7 L1319.2 707.3 L1321.2 709.3 L1323.2 711.5 L1325.2 713.5 L1327.2 715.4 L1329.2 717.2 L1331.2 718.7 L1333.2 719.7 L1335.2 720.5 L1337.2 721 L1339.2 721.3 L1341.2 721.4 L1343.2 721.5 L1345.2 721.7 L1347.2 722.1 L1349.2 723.2 L1351.2 724.8 L1353.2 726.5 L1355.2 728.3 L1357.2 730.4 L1359.2 732.5 L1361.2 734.5 L1363.2 736.3 L1365.2 738" fill="none" stroke="#e8344a" stroke-width="1.1"/>
</g>
<rect x="11" y="811" width="1722" height="1" fill="#ffffff" shape-rendering="crispEdges"/>
<text x="18" y="686" font-size="12" fill="#bec0c7" stroke="#bec0c7" stroke-width="0.3" textLength="105" lengthAdjust="spacingAndGlyphs">MACD (9, 17, close)</text>
<rect x="11" y="666" width="1813" height="1" fill="#e6e6e6" shape-rendering="crispEdges"/>
<rect x="1733" y="28" width="1" height="914" fill="#6b6b6b" shape-rendering="crispEdges"/>
<rect x="11" y="908" width="1813" height="1" fill="#6b6b6b" shape-rendering="crispEdges"/>
<text x="1744.3" y="71.6" font-size="14" fill="#b8bac2" font-weight="normal" textLength="69.5" lengthAdjust="spacingAndGlyphs" stroke="#b8bac2" stroke-width="0.3">132,000.0</text>
<text x="1744.3" y="116.6" font-size="14" fill="#b8bac2" font-weight="normal" textLength="69.5" lengthAdjust="spacingAndGlyphs" stroke="#b8bac2" stroke-width="0.3">130,000.0</text>
<text x="1744.3" y="161.6" font-size="14" fill="#b8bac2" font-weight="normal" textLength="69.5" lengthAdjust="spacingAndGlyphs" stroke="#b8bac2" stroke-width="0.3">128,000.0</text>
<text x="1744.3" y="206.6" font-size="14" fill="#b8bac2" font-weight="normal" textLength="69.5" lengthAdjust="spacingAndGlyphs" stroke="#b8bac2" stroke-width="0.3">126,000.0</text>
<text x="1744.3" y="251.6" font-size="14" fill="#b8bac2" font-weight="normal" textLength="69.5" lengthAdjust="spacingAndGlyphs" stroke="#b8bac2" stroke-width="0.3">124,000.0</text>
<text x="1744.3" y="296.6" font-size="14" fill="#b8bac2" font-weight="normal" textLength="69.5" lengthAdjust="spacingAndGlyphs" stroke="#b8bac2" stroke-width="0.3">122,000.0</text>
<text x="1744.3" y="341.6" font-size="14" fill="#b8bac2" font-weight="normal" textLength="69.5" lengthAdjust="spacingAndGlyphs" stroke="#b8bac2" stroke-width="0.3">120,000.0</text>
<text x="1744.3" y="386.6" font-size="14" fill="#b8bac2" font-weight="normal" textLength="69.5" lengthAdjust="spacingAndGlyphs" stroke="#b8bac2" stroke-width="0.3">118,000.0</text>
<text x="1744.3" y="431.6" font-size="14" fill="#b8bac2" font-weight="normal" textLength="69.5" lengthAdjust="spacingAndGlyphs" stroke="#b8bac2" stroke-width="0.3">116,000.0</text>
<text x="1744.3" y="476.6" font-size="14" fill="#b8bac2" font-weight="normal" textLength="69.5" lengthAdjust="spacingAndGlyphs" stroke="#b8bac2" stroke-width="0.3">114,000.0</text>
<text x="1744.3" y="521.6" font-size="14" fill="#b8bac2" font-weight="normal" textLength="69.5" lengthAdjust="spacingAndGlyphs" stroke="#b8bac2" stroke-width="0.3">112,000.0</text>
<text x="1744.3" y="566.6" font-size="14" fill="#b8bac2" font-weight="normal" textLength="69.5" lengthAdjust="spacingAndGlyphs" stroke="#b8bac2" stroke-width="0.3">110,000.0</text>
<text x="1744.3" y="611.6" font-size="14" fill="#b8bac2" font-weight="normal" textLength="69.5" lengthAdjust="spacingAndGlyphs" stroke="#b8bac2" stroke-width="0.3">108,000.0</text>
<path d="M1734 192 H1819 a2 2 0 0 1 2 2 V213 a2 2 0 0 1 -2 2 H1734 Z" fill="#ffeb3b"/>
<text x="1744.3" y="206.8" font-size="14" fill="#141414" font-weight="normal" textLength="69.5" lengthAdjust="spacingAndGlyphs" stroke="#141414" stroke-width="0.3">125,800.0</text>
<path d="M1734 214.2 H1819 a2 2 0 0 1 2 2 V235.2 a2 2 0 0 1 -2 2 H1734 Z" fill="#ffeb3b"/>
<text x="1744.3" y="229" font-size="14" fill="#141414" font-weight="normal" textLength="69.5" lengthAdjust="spacingAndGlyphs" stroke="#141414" stroke-width="0.3">124,500.0</text>
<path d="M1734 237 H1819 a2 2 0 0 1 2 2 V258 a2 2 0 0 1 -2 2 H1734 Z" fill="#4caf50"/>
<text x="1744.3" y="251.8" font-size="14" fill="#ffffff" font-weight="bold" textLength="69.5" lengthAdjust="spacingAndGlyphs">124,011.5</text>
<path d="M1734 444 H1819 a2 2 0 0 1 2 2 V465 a2 2 0 0 1 -2 2 H1734 Z" fill="#ffeb3b"/>
<text x="1744.3" y="458.8" font-size="14" fill="#141414" font-weight="normal" textLength="69.5" lengthAdjust="spacingAndGlyphs" stroke="#141414" stroke-width="0.3">114,800.0</text>
<path d="M1734 580 H1819 a2 2 0 0 1 2 2 V601 a2 2 0 0 1 -2 2 H1734 Z" fill="#ffeb3b"/>
<text x="1744.3" y="594.8" font-size="14" fill="#141414" font-weight="normal" textLength="69.5" lengthAdjust="spacingAndGlyphs" stroke="#141414" stroke-width="0.3">108,750.0</text>
<path d="M1734 610 H1819 a2 2 0 0 1 2 2 V631 a2 2 0 0 1 -2 2 H1734 Z" fill="#ffeb3b"/>
<text x="1744.3" y="624.8" font-size="14" fill="#141414" font-weight="normal" textLength="69.5" lengthAdjust="spacingAndGlyphs" stroke="#141414" stroke-width="0.3">107,400.0</text>
<path d="M1734 644 H1819 a2 2 0 0 1 2 2 V666 H1734 Z" fill="#ffeb3b"/>
<text x="1744.3" y="658.8" font-size="14" fill="#141414" font-weight="normal" textLength="69.5" lengthAdjust="spacingAndGlyphs" stroke="#141414" stroke-width="0.3">105,000.0</text>
<text x="1744.3" y="738.4" stroke="#b8bac2" stroke-width="0.3" font-size="14" fill="#b8bac2" textLength="52.5" lengthAdjust="spacingAndGlyphs">1,000.0</text>
<text x="1744.3" y="815.9" stroke="#b8bac2" stroke-width="0.3" font-size="14" fill="#b8bac2" textLength="22" lengthAdjust="spacingAndGlyphs">0.0</text>
<text x="1744.3" y="891.4" stroke="#b8bac2" stroke-width="0.3" font-size="14" fill="#b8bac2" textLength="61" lengthAdjust="spacingAndGlyphs">−1,000.0</text>
<text x="84" y="930.6" font-size="14" fill="#b8bac2" stroke="#b8bac2" stroke-width="0.3" text-anchor="middle" font-weight="normal" textLength="17" lengthAdjust="spacingAndGlyphs">24</text>
<text x="173" y="930.6" font-size="14" fill="#b8bac2" stroke="#b8bac2" stroke-width="0.3" text-anchor="middle" font-weight="normal" textLength="17" lengthAdjust="spacingAndGlyphs">27</text>
<text x="321" y="930.6" font-size="14" fill="#d6d8de" stroke="#d6d8de" stroke-width="0" text-anchor="middle" font-weight="bold" textLength="23.3" lengthAdjust="spacingAndGlyphs">9月</text>
<text x="410" y="930.6" font-size="14" fill="#b8bac2" stroke="#b8bac2" stroke-width="0.3" text-anchor="middle" font-weight="normal">4</text>
<text x="498" y="930.6" font-size="14" fill="#b8bac2" stroke="#b8bac2" stroke-width="0.3" text-anchor="middle" font-weight="normal">7</text>
<text x="587" y="930.6" font-size="14" fill="#b8bac2" stroke="#b8bac2" stroke-width="0.3" text-anchor="middle" font-weight="normal" textLength="17" lengthAdjust="spacingAndGlyphs">10</text>
<text x="675" y="930.6" font-size="14" fill="#b8bac2" stroke="#b8bac2" stroke-width="0.3" text-anchor="middle" font-weight="normal" textLength="17" lengthAdjust="spacingAndGlyphs">13</text>
<text x="764" y="930.6" font-size="14" fill="#b8bac2" stroke="#b8bac2" stroke-width="0.3" text-anchor="middle" font-weight="normal" textLength="17" lengthAdjust="spacingAndGlyphs">16</text>
<text x="852" y="930.6" font-size="14" fill="#b8bac2" stroke="#b8bac2" stroke-width="0.3" text-anchor="middle" font-weight="normal" textLength="17" lengthAdjust="spacingAndGlyphs">19</text>
<text x="941" y="930.6" font-size="14" fill="#b8bac2" stroke="#b8bac2" stroke-width="0.3" text-anchor="middle" font-weight="normal" textLength="17" lengthAdjust="spacingAndGlyphs">22</text>
<text x="1030" y="930.6" font-size="14" fill="#b8bac2" stroke="#b8bac2" stroke-width="0.3" text-anchor="middle" font-weight="normal" textLength="17" lengthAdjust="spacingAndGlyphs">25</text>
<text x="1118" y="930.6" font-size="14" fill="#b8bac2" stroke="#b8bac2" stroke-width="0.3" text-anchor="middle" font-weight="normal" textLength="17" lengthAdjust="spacingAndGlyphs">28</text>
<text x="1207" y="930.6" font-size="14" fill="#d6d8de" stroke="#d6d8de" stroke-width="0" text-anchor="middle" font-weight="bold" textLength="32.5" lengthAdjust="spacingAndGlyphs">10月</text>
<text x="1296" y="930.6" font-size="14" fill="#b8bac2" stroke="#b8bac2" stroke-width="0.3" text-anchor="middle" font-weight="normal">4</text>
<text x="1384" y="930.6" font-size="14" fill="#b8bac2" stroke="#b8bac2" stroke-width="0.3" text-anchor="middle" font-weight="normal">7</text>
<text x="1473" y="930.6" font-size="14" fill="#b8bac2" stroke="#b8bac2" stroke-width="0.3" text-anchor="middle" font-weight="normal" textLength="17" lengthAdjust="spacingAndGlyphs">10</text>
<text x="1561" y="930.6" font-size="14" fill="#b8bac2" stroke="#b8bac2" stroke-width="0.3" text-anchor="middle" font-weight="normal" textLength="17" lengthAdjust="spacingAndGlyphs">13</text>
<text x="1650" y="930.6" font-size="14" fill="#b8bac2" stroke="#b8bac2" stroke-width="0.3" text-anchor="middle" font-weight="normal" textLength="17" lengthAdjust="spacingAndGlyphs">16</text>
<g fill="#dcdcdc"><path d="M12 966.1 H24 V980.8 H17.7 V972.3 H12 Z"/><circle cx="28.9" cy="968.8" r="2.7"/><path d="M33.8 966.1 H41.7 L35.4 980.8 H28.6 Z"/>
<text x="49" y="980.8" font-size="20.5" font-weight="bold" textLength="120.5" lengthAdjust="spacingAndGlyphs">TradingView</text></g>
</svg></body></html>
